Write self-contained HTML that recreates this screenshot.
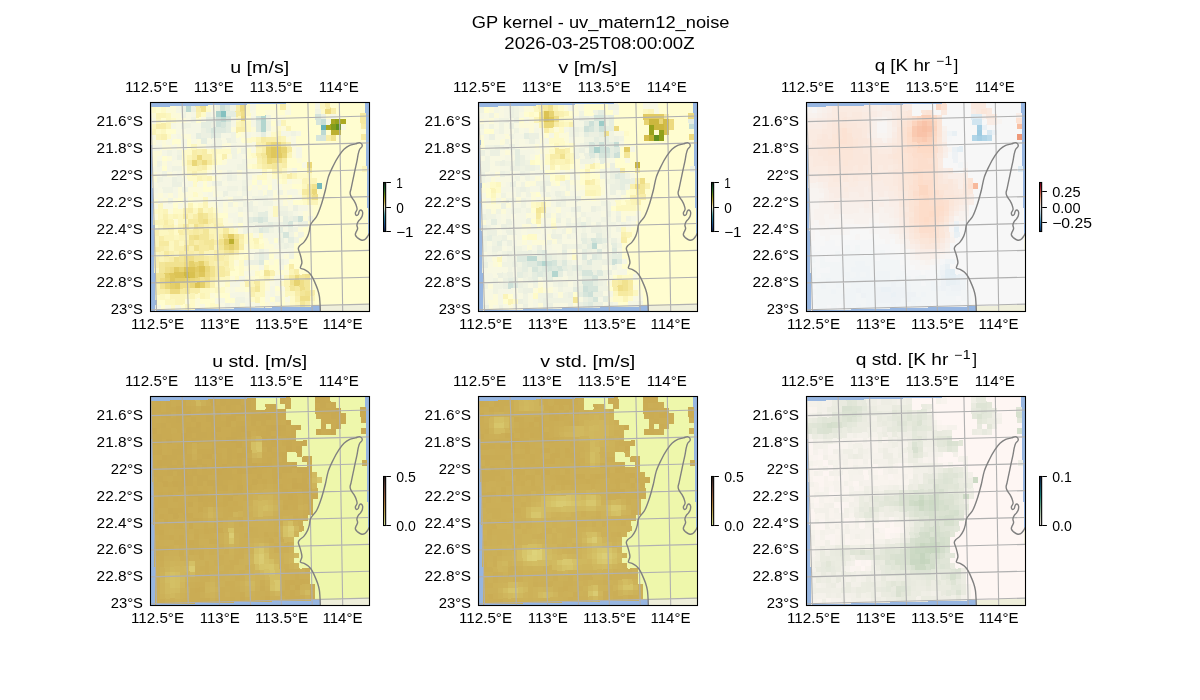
<!DOCTYPE html>
<html><head><meta charset="utf-8"><title>GP kernel - uv_matern12_noise</title>
<style>html,body{margin:0;padding:0;background:#fff;}svg{display:block;will-change:transform;}text{font-family:"Liberation Sans",sans-serif;fill:#000;}</style></head><body>
<svg width="1200" height="700" viewBox="0 0 1200 700">
<defs><clipPath id="clip"><rect x="0" y="0" width="219" height="209"/></clipPath>
<linearGradient id="g0" x1="0" y1="0" x2="0" y2="1"><stop offset="0.000" stop-color="#172313"/><stop offset="0.062" stop-color="#114c28"/><stop offset="0.125" stop-color="#1c6d30"/><stop offset="0.188" stop-color="#428425"/><stop offset="0.250" stop-color="#78981a"/><stop offset="0.312" stop-color="#a8a822"/><stop offset="0.375" stop-color="#d0ba42"/><stop offset="0.438" stop-color="#edda7f"/><stop offset="0.500" stop-color="#fffdd0"/><stop offset="0.562" stop-color="#c5ddd5"/><stop offset="0.625" stop-color="#76babb"/><stop offset="0.688" stop-color="#409caa"/><stop offset="0.750" stop-color="#2c82a3"/><stop offset="0.812" stop-color="#20689d"/><stop offset="0.875" stop-color="#1e4d91"/><stop offset="0.938" stop-color="#193570"/><stop offset="1.000" stop-color="#112040"/></linearGradient>
<linearGradient id="g1" x1="0" y1="0" x2="0" y2="1"><stop offset="0.000" stop-color="#172313"/><stop offset="0.062" stop-color="#114c28"/><stop offset="0.125" stop-color="#1c6d30"/><stop offset="0.188" stop-color="#428425"/><stop offset="0.250" stop-color="#78981a"/><stop offset="0.312" stop-color="#a8a822"/><stop offset="0.375" stop-color="#d0ba42"/><stop offset="0.438" stop-color="#edda7f"/><stop offset="0.500" stop-color="#fffdd0"/><stop offset="0.562" stop-color="#c5ddd5"/><stop offset="0.625" stop-color="#76babb"/><stop offset="0.688" stop-color="#409caa"/><stop offset="0.750" stop-color="#2c82a3"/><stop offset="0.812" stop-color="#20689d"/><stop offset="0.875" stop-color="#1e4d91"/><stop offset="0.938" stop-color="#193570"/><stop offset="1.000" stop-color="#112040"/></linearGradient>
<linearGradient id="g2" x1="0" y1="0" x2="0" y2="1"><stop offset="0.000" stop-color="#67001f"/><stop offset="0.062" stop-color="#960f26"/><stop offset="0.125" stop-color="#bb2a34"/><stop offset="0.188" stop-color="#d25749"/><stop offset="0.250" stop-color="#e58268"/><stop offset="0.312" stop-color="#f5ac8b"/><stop offset="0.375" stop-color="#fbceb6"/><stop offset="0.438" stop-color="#fbe6d9"/><stop offset="0.500" stop-color="#f7f7f7"/><stop offset="0.562" stop-color="#dfecf3"/><stop offset="0.625" stop-color="#c1ddec"/><stop offset="0.688" stop-color="#9ac9e0"/><stop offset="0.750" stop-color="#6aacd0"/><stop offset="0.812" stop-color="#3f8dc0"/><stop offset="0.875" stop-color="#2a71b2"/><stop offset="0.938" stop-color="#165290"/><stop offset="1.000" stop-color="#053061"/></linearGradient>
<linearGradient id="g3" x1="0" y1="0" x2="0" y2="1"><stop offset="0.000" stop-color="#221f1b"/><stop offset="0.062" stop-color="#3c2b26"/><stop offset="0.125" stop-color="#52362f"/><stop offset="0.188" stop-color="#654135"/><stop offset="0.250" stop-color="#784b3a"/><stop offset="0.312" stop-color="#89553b"/><stop offset="0.375" stop-color="#99603c"/><stop offset="0.438" stop-color="#a66c3d"/><stop offset="0.500" stop-color="#b17a3e"/><stop offset="0.562" stop-color="#ba8840"/><stop offset="0.625" stop-color="#c29848"/><stop offset="0.688" stop-color="#c9a74f"/><stop offset="0.750" stop-color="#cfb65d"/><stop offset="0.812" stop-color="#d5c66c"/><stop offset="0.875" stop-color="#dcd67f"/><stop offset="0.938" stop-color="#e2e695"/><stop offset="1.000" stop-color="#e9f6ab"/></linearGradient>
<linearGradient id="g4" x1="0" y1="0" x2="0" y2="1"><stop offset="0.000" stop-color="#221f1b"/><stop offset="0.062" stop-color="#3c2b26"/><stop offset="0.125" stop-color="#52362f"/><stop offset="0.188" stop-color="#654135"/><stop offset="0.250" stop-color="#784b3a"/><stop offset="0.312" stop-color="#89553b"/><stop offset="0.375" stop-color="#99603c"/><stop offset="0.438" stop-color="#a66c3d"/><stop offset="0.500" stop-color="#b17a3e"/><stop offset="0.562" stop-color="#ba8840"/><stop offset="0.625" stop-color="#c29848"/><stop offset="0.688" stop-color="#c9a74f"/><stop offset="0.750" stop-color="#cfb65d"/><stop offset="0.812" stop-color="#d5c66c"/><stop offset="0.875" stop-color="#dcd67f"/><stop offset="0.938" stop-color="#e2e695"/><stop offset="1.000" stop-color="#e9f6ab"/></linearGradient>
<linearGradient id="g5" x1="0" y1="0" x2="0" y2="1"><stop offset="0.000" stop-color="#151d44"/><stop offset="0.062" stop-color="#152f51"/><stop offset="0.125" stop-color="#14405e"/><stop offset="0.188" stop-color="#14526b"/><stop offset="0.250" stop-color="#166373"/><stop offset="0.312" stop-color="#1a7479"/><stop offset="0.375" stop-color="#1d8580"/><stop offset="0.438" stop-color="#2f9486"/><stop offset="0.500" stop-color="#4ba08c"/><stop offset="0.562" stop-color="#67ac92"/><stop offset="0.625" stop-color="#82b89b"/><stop offset="0.688" stop-color="#9bc4a8"/><stop offset="0.750" stop-color="#b4cfb6"/><stop offset="0.812" stop-color="#cbdac3"/><stop offset="0.875" stop-color="#dde3d4"/><stop offset="0.938" stop-color="#eeede4"/><stop offset="1.000" stop-color="#fff6f4"/></linearGradient>
</defs>
<rect width="1200" height="700" fill="#fff"/>
<text x="600.60" y="27.90" font-size="17.00" text-anchor="middle" textLength="257.8" lengthAdjust="spacingAndGlyphs">GP kernel - uv_matern12_noise</text>
<text x="599.40" y="49.30" font-size="17.00" text-anchor="middle" textLength="190.2" lengthAdjust="spacingAndGlyphs">2026-03-25T08:00:00Z</text>
<g transform="translate(150.5 102.5)">
<g clip-path="url(#clip)">
<rect x="0" y="0" width="219" height="209" fill="#97b6e1"/>
<path d="M170 209 L170 200 L219 196 L219 209 Z" fill="#efefdb"/>
<rect x="214" y="131.5" width="6" height="80" fill="#efefdb"/>
<g transform="matrix(1 -0.0258 0.0235 1 0 0)" shape-rendering="crispEdges">
<rect x="1.5" y="4.5" width="212.9" height="203.3" fill="#fffdd0"/>
<path fill="#fefac8" d="M0 4.5h5.285v6.428h-5.285zM9.97 4.5h5.285v6.428h-5.285zM54.84 4.5h5.285v6.428h-5.285zM94.72 4.5h5.285v6.428h-5.285zM49.85 10.63h5.285v5.628h-5.285zM94.72 10.63h5.285v5.628h-5.285zM169.5 10.63h5.285v5.628h-5.285zM19.94 15.96h5.285v5.628h-5.285zM94.72 21.28h5.285v5.628h-5.285zM4.985 26.61h5.285v5.628h-5.285zM94.72 26.61h5.285v5.628h-5.285zM124.6 26.61h5.285v5.628h-5.285zM14.96 31.94h5.285v5.628h-5.285zM119.6 31.94h5.285v5.628h-5.285zM94.72 37.27h10.27v5.628h-10.27zM29.91 47.92h10.27v5.628h-10.27zM54.84 47.92h5.285v5.628h-5.285zM64.81 47.92h15.26v5.628h-15.26zM29.91 53.25h5.285v5.628h-5.285zM99.7 53.25h5.285v5.628h-5.285zM29.91 58.58h5.285v5.628h-5.285zM54.84 63.91h5.285v5.628h-5.285zM99.7 63.91h5.285v5.628h-5.285zM34.9 74.56h10.27v5.628h-10.27zM104.7 74.56h10.27v5.628h-10.27zM119.6 74.56h10.27v5.628h-10.27zM144.6 74.56h10.27v5.628h-10.27zM39.88 79.89h5.285v5.628h-5.285zM129.6 79.89h5.285v5.628h-5.285zM39.88 90.55h5.285v5.628h-5.285zM44.87 101.2h5.285v5.628h-5.285zM149.6 101.2h5.285v5.628h-5.285zM0 106.5h5.285v5.628h-5.285zM19.94 106.5h10.27v5.628h-10.27zM59.82 106.5h5.285v5.628h-5.285zM19.94 122.5h5.285v5.628h-5.285zM19.94 127.8h5.285v5.628h-5.285zM79.76 127.8h5.285v5.628h-5.285zM89.73 133.2h10.27v5.628h-10.27zM104.7 133.2h5.285v5.628h-5.285zM89.73 138.5h10.27v5.628h-10.27zM94.72 143.8h5.285v5.628h-5.285zM104.7 143.8h5.285v5.628h-5.285zM84.75 149.2h5.285v5.628h-5.285zM79.76 154.5h5.285v5.628h-5.285zM89.73 154.5h5.285v5.628h-5.285zM84.75 159.8h5.285v5.628h-5.285zM84.75 165.1h5.285v5.628h-5.285zM84.75 170.5h5.285v5.628h-5.285zM99.7 170.5h5.285v5.628h-5.285zM79.76 175.8h5.285v5.628h-5.285zM104.7 175.8h5.285v5.628h-5.285zM114.7 175.8h5.285v5.628h-5.285zM59.82 181.1h5.285v5.628h-5.285zM69.79 181.1h5.285v5.628h-5.285zM124.6 181.1h5.285v5.628h-5.285zM54.84 186.5h5.285v5.628h-5.285zM64.81 186.5h5.285v5.628h-5.285zM0 191.8h5.285v5.628h-5.285zM9.97 191.8h5.285v5.628h-5.285zM39.88 191.8h5.285v5.628h-5.285zM34.9 197.1h5.285v5.628h-5.285zM94.72 197.1h5.285v5.628h-5.285zM134.6 197.1h5.285v5.628h-5.285zM14.96 202.4h5.285v5.628h-5.285zM34.9 202.4h5.285v5.628h-5.285zM54.84 202.4h10.27v5.628h-10.27zM134.6 202.4h5.285v5.628h-5.285zM154.5 202.4h5.285v5.628h-5.285z"/>
<path fill="#fcfad9" d="M14.96 4.5h10.27v6.428h-10.27zM134.6 4.5h5.285v6.428h-5.285zM0 10.63h5.285v5.628h-5.285zM19.94 10.63h10.27v5.628h-10.27zM114.7 10.63h10.27v5.628h-10.27zM24.93 15.96h10.27v5.628h-10.27zM119.6 15.96h15.26v5.628h-15.26zM184.4 15.96h5.285v5.628h-5.285zM79.76 26.61h5.285v5.628h-5.285zM99.7 26.61h5.285v5.628h-5.285zM119.6 26.61h5.285v5.628h-5.285zM129.6 26.61h5.285v5.628h-5.285zM29.91 31.94h10.27v5.628h-10.27zM89.73 31.94h5.285v5.628h-5.285zM0 37.27h5.285v5.628h-5.285zM9.97 37.27h5.285v5.628h-5.285zM44.87 37.27h5.285v5.628h-5.285zM134.6 37.27h5.285v5.628h-5.285zM9.97 42.6h10.27v5.628h-10.27zM24.93 42.6h5.285v5.628h-5.285zM44.87 42.6h10.27v5.628h-10.27zM69.79 42.6h10.27v5.628h-10.27zM0 47.92h10.27v5.628h-10.27zM84.75 47.92h5.285v5.628h-5.285zM139.6 47.92h5.285v5.628h-5.285zM0 53.25h5.285v5.628h-5.285zM14.96 53.25h5.285v5.628h-5.285zM74.78 53.25h5.285v5.628h-5.285zM139.6 53.25h5.285v5.628h-5.285zM0 58.58h5.285v5.628h-5.285zM9.97 58.58h5.285v5.628h-5.285zM69.79 58.58h5.285v5.628h-5.285zM94.72 58.58h10.27v5.628h-10.27zM144.6 58.58h5.285v5.628h-5.285zM29.91 63.91h5.285v5.628h-5.285zM59.82 63.91h5.285v5.628h-5.285zM0 69.24h5.285v5.628h-5.285zM14.96 69.24h5.285v5.628h-5.285zM29.91 69.24h5.285v5.628h-5.285zM54.84 69.24h5.285v5.628h-5.285zM64.81 69.24h5.285v5.628h-5.285zM84.75 69.24h5.285v5.628h-5.285zM134.6 69.24h5.285v5.628h-5.285zM0 74.56h5.285v5.628h-5.285zM99.7 74.56h5.285v5.628h-5.285zM114.7 74.56h5.285v5.628h-5.285zM114.7 79.89h5.285v5.628h-5.285zM139.6 79.89h10.27v5.628h-10.27zM24.93 85.22h5.285v5.628h-5.285zM34.9 85.22h15.26v5.628h-15.26zM59.82 85.22h5.285v5.628h-5.285zM94.72 85.22h5.285v5.628h-5.285zM104.7 85.22h5.285v5.628h-5.285zM129.6 85.22h10.27v5.628h-10.27zM4.985 90.55h5.285v5.628h-5.285zM14.96 90.55h5.285v5.628h-5.285zM24.93 90.55h15.26v5.628h-15.26zM44.87 90.55h5.285v5.628h-5.285zM59.82 90.55h5.285v5.628h-5.285zM109.7 90.55h5.285v5.628h-5.285zM119.6 90.55h5.285v5.628h-5.285zM129.6 90.55h5.285v5.628h-5.285zM144.6 90.55h5.285v5.628h-5.285zM9.97 95.88h5.285v5.628h-5.285zM19.94 95.88h5.285v5.628h-5.285zM39.88 95.88h10.27v5.628h-10.27zM74.78 95.88h5.285v5.628h-5.285zM119.6 95.88h15.26v5.628h-15.26zM29.91 101.2h5.285v5.628h-5.285zM54.84 101.2h10.27v5.628h-10.27zM69.79 101.2h5.285v5.628h-5.285zM79.76 101.2h5.285v5.628h-5.285zM129.6 101.2h5.285v5.628h-5.285zM14.96 106.5h5.285v5.628h-5.285zM69.79 106.5h5.285v5.628h-5.285zM154.5 106.5h5.285v5.628h-5.285zM0 111.9h5.285v5.628h-5.285zM84.75 111.9h5.285v5.628h-5.285zM149.6 111.9h10.27v5.628h-10.27zM19.94 117.2h5.285v5.628h-5.285zM69.79 117.2h5.285v5.628h-5.285zM149.6 117.2h5.285v5.628h-5.285zM69.79 122.5h10.27v5.628h-10.27zM144.6 127.8h5.285v5.628h-5.285zM139.6 133.2h5.285v5.628h-5.285zM109.7 138.5h5.285v5.628h-5.285zM89.73 143.8h5.285v5.628h-5.285zM109.7 143.8h10.27v5.628h-10.27zM114.7 149.2h10.27v5.628h-10.27zM129.6 154.5h5.285v5.628h-5.285zM79.76 159.8h5.285v5.628h-5.285zM114.7 159.8h5.285v5.628h-5.285zM89.73 165.1h15.26v5.628h-15.26zM119.6 170.5h5.285v5.628h-5.285zM129.6 170.5h5.285v5.628h-5.285zM74.78 175.8h5.285v5.628h-5.285zM89.73 175.8h10.27v5.628h-10.27zM64.81 181.1h5.285v5.628h-5.285zM84.75 181.1h5.285v5.628h-5.285zM109.7 181.1h5.285v5.628h-5.285zM69.79 186.5h5.285v5.628h-5.285zM79.76 186.5h10.27v5.628h-10.27zM109.7 186.5h5.285v5.628h-5.285zM54.84 191.8h5.285v5.628h-5.285zM119.6 191.8h10.27v5.628h-10.27zM29.91 197.1h5.285v5.628h-5.285zM39.88 197.1h5.285v5.628h-5.285zM39.88 202.4h5.285v5.628h-5.285zM84.75 202.4h5.285v5.628h-5.285zM109.7 202.4h5.285v5.628h-5.285zM119.6 202.4h5.285v5.628h-5.285zM129.6 202.4h5.285v5.628h-5.285z"/>
<path fill="#f5f6e4" d="M24.93 4.5h5.285v6.428h-5.285zM99.7 4.5h5.285v6.428h-5.285zM164.5 4.5h5.285v6.428h-5.285zM39.88 10.63h5.285v5.628h-5.285zM59.82 10.63h5.285v5.628h-5.285zM79.76 15.96h5.285v5.628h-5.285zM99.7 15.96h5.285v5.628h-5.285zM179.5 15.96h5.285v5.628h-5.285zM19.94 21.28h5.285v5.628h-5.285zM39.88 21.28h10.27v5.628h-10.27zM79.76 21.28h5.285v5.628h-5.285zM99.7 21.28h5.285v5.628h-5.285zM174.5 21.28h5.285v5.628h-5.285zM34.9 26.61h15.26v5.628h-15.26zM24.93 31.94h5.285v5.628h-5.285zM39.88 31.94h5.285v5.628h-5.285zM69.79 31.94h10.27v5.628h-10.27zM94.72 31.94h5.285v5.628h-5.285zM104.7 31.94h5.285v5.628h-5.285zM129.6 31.94h10.27v5.628h-10.27zM144.6 31.94h5.285v5.628h-5.285zM29.91 37.27h5.285v5.628h-5.285zM59.82 37.27h5.285v5.628h-5.285zM0 42.6h10.27v5.628h-10.27zM29.91 42.6h5.285v5.628h-5.285zM54.84 42.6h5.285v5.628h-5.285zM79.76 42.6h5.285v5.628h-5.285zM9.97 47.92h5.285v5.628h-5.285zM19.94 47.92h5.285v5.628h-5.285zM144.6 47.92h5.285v5.628h-5.285zM19.94 53.25h5.285v5.628h-5.285zM84.75 53.25h5.285v5.628h-5.285zM144.6 53.25h5.285v5.628h-5.285zM14.96 58.58h5.285v5.628h-5.285zM74.78 58.58h15.26v5.628h-15.26zM4.985 63.91h5.285v5.628h-5.285zM14.96 63.91h5.285v5.628h-5.285zM64.81 63.91h20.24v5.628h-20.24zM24.93 69.24h5.285v5.628h-5.285zM59.82 69.24h5.285v5.628h-5.285zM79.76 69.24h5.285v5.628h-5.285zM89.73 69.24h5.285v5.628h-5.285zM139.6 69.24h5.285v5.628h-5.285zM9.97 74.56h10.27v5.628h-10.27zM69.79 74.56h5.285v5.628h-5.285zM89.73 74.56h10.27v5.628h-10.27zM4.985 79.89h15.26v5.628h-15.26zM34.9 79.89h5.285v5.628h-5.285zM74.78 79.89h15.26v5.628h-15.26zM104.7 79.89h5.285v5.628h-5.285zM119.6 79.89h5.285v5.628h-5.285zM0 85.22h5.285v5.628h-5.285zM19.94 85.22h5.285v5.628h-5.285zM64.81 85.22h10.27v5.628h-10.27zM84.75 85.22h5.285v5.628h-5.285zM119.6 85.22h5.285v5.628h-5.285zM19.94 90.55h5.285v5.628h-5.285zM54.84 90.55h5.285v5.628h-5.285zM74.78 90.55h10.27v5.628h-10.27zM94.72 90.55h5.285v5.628h-5.285zM104.7 90.55h5.285v5.628h-5.285zM134.6 90.55h10.27v5.628h-10.27zM29.91 95.88h5.285v5.628h-5.285zM59.82 95.88h10.27v5.628h-10.27zM114.7 95.88h5.285v5.628h-5.285zM64.81 101.2h5.285v5.628h-5.285zM104.7 101.2h5.285v5.628h-5.285zM124.6 101.2h5.285v5.628h-5.285zM89.73 106.5h5.285v5.628h-5.285zM104.7 106.5h10.27v5.628h-10.27zM144.6 106.5h10.27v5.628h-10.27zM74.78 111.9h10.27v5.628h-10.27zM94.72 111.9h5.285v5.628h-5.285zM139.6 111.9h5.285v5.628h-5.285zM79.76 117.2h5.285v5.628h-5.285zM114.7 117.2h10.27v5.628h-10.27zM139.6 122.5h5.285v5.628h-5.285zM94.72 127.8h5.285v5.628h-5.285zM119.6 127.8h5.285v5.628h-5.285zM129.6 127.8h5.285v5.628h-5.285zM109.7 133.2h15.26v5.628h-15.26zM114.7 138.5h5.285v5.628h-5.285zM129.6 138.5h5.285v5.628h-5.285zM109.7 149.2h5.285v5.628h-5.285zM124.6 149.2h15.26v5.628h-15.26zM129.6 159.8h5.285v5.628h-5.285zM104.7 165.1h5.285v5.628h-5.285zM124.6 165.1h5.285v5.628h-5.285zM84.75 175.8h5.285v5.628h-5.285zM74.78 181.1h10.27v5.628h-10.27zM119.6 181.1h5.285v5.628h-5.285zM114.7 186.5h5.285v5.628h-5.285zM74.78 191.8h15.26v5.628h-15.26zM114.7 191.8h5.285v5.628h-5.285zM64.81 197.1h5.285v5.628h-5.285zM89.73 197.1h5.285v5.628h-5.285zM0 202.4h5.285v5.628h-5.285zM19.94 202.4h5.285v5.628h-5.285zM74.78 202.4h5.285v5.628h-5.285zM89.73 202.4h5.285v5.628h-5.285zM99.7 202.4h5.285v5.628h-5.285z"/>
<path fill="#ecf0e1" d="M29.91 4.5h5.285v6.428h-5.285zM39.88 4.5h5.285v6.428h-5.285zM64.81 4.5h5.285v6.428h-5.285zM169.5 15.96h5.285v5.628h-5.285zM59.82 21.28h5.285v5.628h-5.285zM114.7 21.28h5.285v5.628h-5.285zM49.85 26.61h5.285v5.628h-5.285zM114.7 26.61h5.285v5.628h-5.285zM49.85 31.94h10.27v5.628h-10.27zM74.78 37.27h5.285v5.628h-5.285zM24.93 53.25h5.285v5.628h-5.285zM19.94 74.56h5.285v5.628h-5.285zM74.78 74.56h5.285v5.628h-5.285zM19.94 79.89h10.27v5.628h-10.27zM64.81 79.89h5.285v5.628h-5.285zM89.73 85.22h5.285v5.628h-5.285zM69.79 90.55h5.285v5.628h-5.285zM94.72 101.2h5.285v5.628h-5.285zM94.72 106.5h5.285v5.628h-5.285zM139.6 106.5h5.285v5.628h-5.285zM124.6 111.9h10.27v5.628h-10.27zM134.6 117.2h5.285v5.628h-5.285zM104.7 122.5h10.27v5.628h-10.27zM119.6 122.5h10.27v5.628h-10.27zM144.6 122.5h10.27v5.628h-10.27zM134.6 127.8h5.285v5.628h-5.285zM124.6 138.5h5.285v5.628h-5.285zM129.6 143.8h5.285v5.628h-5.285zM104.7 149.2h5.285v5.628h-5.285zM109.7 154.5h5.285v5.628h-5.285zM94.72 159.8h10.27v5.628h-10.27z"/>
<path fill="#bdd9d2" d="M34.9 4.5h5.285v6.428h-5.285zM69.79 15.96h5.285v5.628h-5.285zM169.5 31.94h5.285v5.628h-5.285z"/>
<path fill="#f8eda8" d="M44.87 4.5h5.285v6.428h-5.285zM84.75 4.5h5.285v6.428h-5.285zM129.6 4.5h5.285v6.428h-5.285zM174.5 4.5h5.285v6.428h-5.285zM179.5 10.63h5.285v5.628h-5.285zM4.985 21.28h10.27v5.628h-10.27zM84.75 26.61h10.27v5.628h-10.27zM209.4 26.61h5.285v5.628h-5.285zM114.7 37.27h10.27v5.628h-10.27zM174.5 37.27h5.285v5.628h-5.285zM109.7 42.6h5.285v5.628h-5.285zM39.88 47.92h5.285v5.628h-5.285zM49.85 47.92h5.285v5.628h-5.285zM109.7 47.92h5.285v5.628h-5.285zM39.88 53.25h5.285v5.628h-5.285zM49.85 53.25h10.27v5.628h-10.27zM104.7 53.25h5.285v5.628h-5.285zM34.9 58.58h5.285v5.628h-5.285zM49.85 63.91h5.285v5.628h-5.285zM109.7 63.91h5.285v5.628h-5.285zM129.6 63.91h5.285v5.628h-5.285zM134.6 74.56h5.285v5.628h-5.285zM34.9 106.5h5.285v5.628h-5.285zM39.88 111.9h5.285v5.628h-5.285zM9.97 117.2h5.285v5.628h-5.285zM54.84 117.2h5.285v5.628h-5.285zM59.82 122.5h5.285v5.628h-5.285zM24.93 127.8h5.285v5.628h-5.285zM34.9 127.8h5.285v5.628h-5.285zM44.87 127.8h5.285v5.628h-5.285zM4.985 133.2h5.285v5.628h-5.285zM64.81 133.2h5.285v5.628h-5.285zM84.75 133.2h5.285v5.628h-5.285zM39.88 138.5h5.285v5.628h-5.285zM59.82 138.5h5.285v5.628h-5.285zM0 143.8h10.27v5.628h-10.27zM84.75 143.8h5.285v5.628h-5.285zM24.93 149.2h15.26v5.628h-15.26zM59.82 149.2h10.27v5.628h-10.27zM79.76 149.2h5.285v5.628h-5.285zM14.96 154.5h5.285v5.628h-5.285zM54.84 154.5h5.285v5.628h-5.285zM64.81 154.5h5.285v5.628h-5.285zM54.84 159.8h5.285v5.628h-5.285zM69.79 159.8h5.285v5.628h-5.285zM59.82 165.1h5.285v5.628h-5.285zM134.6 165.1h5.285v5.628h-5.285zM59.82 170.5h5.285v5.628h-5.285zM69.79 170.5h5.285v5.628h-5.285zM139.6 170.5h5.285v5.628h-5.285zM4.985 186.5h5.285v5.628h-5.285zM34.9 186.5h10.27v5.628h-10.27zM94.72 186.5h5.285v5.628h-5.285zM139.6 191.8h5.285v5.628h-5.285zM154.5 191.8h5.285v5.628h-5.285zM149.6 202.4h5.285v5.628h-5.285z"/>
<path fill="#f1e28f" d="M49.85 4.5h5.285v6.428h-5.285zM179.5 37.27h5.285v5.628h-5.285zM159.5 85.22h5.285v5.628h-5.285zM44.87 111.9h5.285v5.628h-5.285zM44.87 117.2h5.285v5.628h-5.285zM39.88 122.5h5.285v5.628h-5.285zM34.9 133.2h5.285v5.628h-5.285zM79.76 133.2h5.285v5.628h-5.285zM64.81 138.5h5.285v5.628h-5.285zM39.88 143.8h5.285v5.628h-5.285zM74.78 149.2h5.285v5.628h-5.285zM19.94 154.5h5.285v5.628h-5.285zM9.97 159.8h20.24v5.628h-20.24zM49.85 159.8h5.285v5.628h-5.285zM54.84 165.1h5.285v5.628h-5.285zM4.985 170.5h5.285v5.628h-5.285zM54.84 170.5h5.285v5.628h-5.285zM44.87 175.8h5.285v5.628h-5.285zM149.6 175.8h5.285v5.628h-5.285zM4.985 181.1h5.285v5.628h-5.285zM49.85 181.1h5.285v5.628h-5.285zM134.6 181.1h5.285v5.628h-5.285zM149.6 191.8h5.285v5.628h-5.285z"/>
<path fill="#f8f8e2" d="M59.82 4.5h5.285v6.428h-5.285zM34.9 10.63h5.285v5.628h-5.285zM99.7 10.63h5.285v5.628h-5.285zM134.6 10.63h5.285v5.628h-5.285zM0 15.96h5.285v5.628h-5.285zM34.9 15.96h5.285v5.628h-5.285zM49.85 15.96h5.285v5.628h-5.285zM24.93 21.28h5.285v5.628h-5.285zM24.93 26.61h10.27v5.628h-10.27zM189.4 26.61h5.285v5.628h-5.285zM0 31.94h5.285v5.628h-5.285zM19.94 31.94h5.285v5.628h-5.285zM99.7 31.94h5.285v5.628h-5.285zM114.7 31.94h5.285v5.628h-5.285zM4.985 37.27h5.285v5.628h-5.285zM14.96 37.27h5.285v5.628h-5.285zM39.88 37.27h5.285v5.628h-5.285zM54.84 37.27h5.285v5.628h-5.285zM69.79 37.27h5.285v5.628h-5.285zM84.75 37.27h5.285v5.628h-5.285zM139.6 37.27h5.285v5.628h-5.285zM19.94 42.6h5.285v5.628h-5.285zM84.75 42.6h20.24v5.628h-20.24zM139.6 42.6h5.285v5.628h-5.285zM99.7 47.92h5.285v5.628h-5.285zM4.985 53.25h5.285v5.628h-5.285zM89.73 53.25h5.285v5.628h-5.285zM19.94 58.58h10.27v5.628h-10.27zM0 63.91h5.285v5.628h-5.285zM149.6 63.91h5.285v5.628h-5.285zM4.985 69.24h5.285v5.628h-5.285zM19.94 69.24h5.285v5.628h-5.285zM69.79 69.24h5.285v5.628h-5.285zM94.72 69.24h15.26v5.628h-15.26zM29.91 74.56h5.285v5.628h-5.285zM64.81 74.56h5.285v5.628h-5.285zM84.75 74.56h5.285v5.628h-5.285zM0 79.89h5.285v5.628h-5.285zM29.91 79.89h5.285v5.628h-5.285zM44.87 79.89h5.285v5.628h-5.285zM54.84 79.89h5.285v5.628h-5.285zM69.79 79.89h5.285v5.628h-5.285zM94.72 79.89h5.285v5.628h-5.285zM134.6 79.89h5.285v5.628h-5.285zM4.985 85.22h5.285v5.628h-5.285zM99.7 85.22h5.285v5.628h-5.285zM109.7 85.22h5.285v5.628h-5.285zM124.6 85.22h5.285v5.628h-5.285zM0 90.55h5.285v5.628h-5.285zM9.97 90.55h5.285v5.628h-5.285zM49.85 90.55h5.285v5.628h-5.285zM64.81 90.55h5.285v5.628h-5.285zM84.75 90.55h5.285v5.628h-5.285zM99.7 90.55h5.285v5.628h-5.285zM4.985 95.88h5.285v5.628h-5.285zM54.84 95.88h5.285v5.628h-5.285zM69.79 95.88h5.285v5.628h-5.285zM89.73 95.88h10.27v5.628h-10.27zM139.6 95.88h10.27v5.628h-10.27zM0 101.2h5.285v5.628h-5.285zM9.97 101.2h10.27v5.628h-10.27zM24.93 101.2h5.285v5.628h-5.285zM84.75 101.2h5.285v5.628h-5.285zM99.7 101.2h5.285v5.628h-5.285zM119.6 101.2h5.285v5.628h-5.285zM134.6 101.2h5.285v5.628h-5.285zM64.81 106.5h5.285v5.628h-5.285zM74.78 106.5h10.27v5.628h-10.27zM114.7 106.5h5.285v5.628h-5.285zM134.6 106.5h5.285v5.628h-5.285zM89.73 111.9h5.285v5.628h-5.285zM114.7 111.9h5.285v5.628h-5.285zM144.6 111.9h5.285v5.628h-5.285zM74.78 117.2h5.285v5.628h-5.285zM89.73 117.2h5.285v5.628h-5.285zM124.6 117.2h5.285v5.628h-5.285zM79.76 122.5h5.285v5.628h-5.285zM89.73 122.5h5.285v5.628h-5.285zM84.75 127.8h5.285v5.628h-5.285zM99.7 133.2h5.285v5.628h-5.285zM119.6 143.8h5.285v5.628h-5.285zM94.72 149.2h10.27v5.628h-10.27zM94.72 154.5h5.285v5.628h-5.285zM119.6 154.5h10.27v5.628h-10.27zM89.73 170.5h10.27v5.628h-10.27zM119.6 175.8h10.27v5.628h-10.27zM114.7 181.1h5.285v5.628h-5.285zM74.78 186.5h5.285v5.628h-5.285zM124.6 186.5h5.285v5.628h-5.285zM89.73 191.8h5.285v5.628h-5.285zM109.7 191.8h5.285v5.628h-5.285zM59.82 197.1h5.285v5.628h-5.285zM109.7 197.1h5.285v5.628h-5.285zM129.6 197.1h5.285v5.628h-5.285zM9.97 202.4h5.285v5.628h-5.285zM44.87 202.4h5.285v5.628h-5.285zM64.81 202.4h5.285v5.628h-5.285zM94.72 202.4h5.285v5.628h-5.285zM114.7 202.4h5.285v5.628h-5.285z"/>
<path fill="#cde0d8" d="M69.79 4.5h5.285v6.428h-5.285zM64.81 15.96h5.285v5.628h-5.285zM64.81 21.28h5.285v5.628h-5.285zM144.6 117.2h5.285v5.628h-5.285z"/>
<path fill="#dee9de" d="M74.78 4.5h5.285v6.428h-5.285zM104.7 21.28h5.285v5.628h-5.285zM64.81 26.61h10.27v5.628h-10.27zM104.7 26.61h5.285v5.628h-5.285zM59.82 31.94h5.285v5.628h-5.285zM99.7 117.2h5.285v5.628h-5.285zM109.7 117.2h5.285v5.628h-5.285zM104.7 127.8h5.285v5.628h-5.285zM104.7 159.8h5.285v5.628h-5.285z"/>
<path fill="#f0f3e2" d="M79.76 4.5h5.285v6.428h-5.285zM29.91 10.63h5.285v5.628h-5.285zM54.84 10.63h5.285v5.628h-5.285zM164.5 10.63h5.285v5.628h-5.285zM39.88 15.96h5.285v5.628h-5.285zM114.7 15.96h5.285v5.628h-5.285zM29.91 21.28h10.27v5.628h-10.27zM124.6 21.28h5.285v5.628h-5.285zM79.76 31.94h5.285v5.628h-5.285zM139.6 31.94h5.285v5.628h-5.285zM64.81 37.27h5.285v5.628h-5.285zM79.76 37.27h5.285v5.628h-5.285zM59.82 42.6h10.27v5.628h-10.27zM14.96 47.92h5.285v5.628h-5.285zM24.93 47.92h5.285v5.628h-5.285zM79.76 47.92h5.285v5.628h-5.285zM89.73 47.92h5.285v5.628h-5.285zM79.76 53.25h5.285v5.628h-5.285zM4.985 58.58h5.285v5.628h-5.285zM89.73 58.58h5.285v5.628h-5.285zM19.94 63.91h10.27v5.628h-10.27zM84.75 63.91h10.27v5.628h-10.27zM9.97 69.24h5.285v5.628h-5.285zM74.78 69.24h5.285v5.628h-5.285zM4.985 74.56h5.285v5.628h-5.285zM24.93 74.56h5.285v5.628h-5.285zM79.76 74.56h5.285v5.628h-5.285zM59.82 79.89h5.285v5.628h-5.285zM89.73 79.89h5.285v5.628h-5.285zM9.97 85.22h10.27v5.628h-10.27zM29.91 85.22h5.285v5.628h-5.285zM74.78 85.22h10.27v5.628h-10.27zM89.73 90.55h5.285v5.628h-5.285zM114.7 90.55h5.285v5.628h-5.285zM124.6 90.55h5.285v5.628h-5.285zM14.96 95.88h5.285v5.628h-5.285zM79.76 95.88h10.27v5.628h-10.27zM99.7 95.88h15.26v5.628h-15.26zM74.78 101.2h5.285v5.628h-5.285zM89.73 101.2h5.285v5.628h-5.285zM109.7 101.2h10.27v5.628h-10.27zM84.75 106.5h5.285v5.628h-5.285zM99.7 106.5h5.285v5.628h-5.285zM124.6 106.5h10.27v5.628h-10.27zM99.7 111.9h5.285v5.628h-5.285zM134.6 111.9h5.285v5.628h-5.285zM84.75 117.2h5.285v5.628h-5.285zM154.5 117.2h5.285v5.628h-5.285zM94.72 122.5h10.27v5.628h-10.27zM89.73 127.8h5.285v5.628h-5.285zM99.7 127.8h5.285v5.628h-5.285zM114.7 127.8h5.285v5.628h-5.285zM139.6 127.8h5.285v5.628h-5.285zM124.6 133.2h5.285v5.628h-5.285zM134.6 133.2h5.285v5.628h-5.285zM144.6 133.2h5.285v5.628h-5.285zM139.6 138.5h5.285v5.628h-5.285zM124.6 143.8h5.285v5.628h-5.285zM134.6 143.8h5.285v5.628h-5.285zM99.7 154.5h5.285v5.628h-5.285zM134.6 154.5h5.285v5.628h-5.285zM89.73 159.8h5.285v5.628h-5.285zM124.6 159.8h5.285v5.628h-5.285zM79.76 197.1h10.27v5.628h-10.27zM119.6 197.1h5.285v5.628h-5.285zM69.79 202.4h5.285v5.628h-5.285zM79.76 202.4h5.285v5.628h-5.285z"/>
<path fill="#edda7f" d="M89.73 4.5h5.285v6.428h-5.285zM174.5 10.63h5.285v5.628h-5.285zM89.73 15.96h5.285v5.628h-5.285zM44.87 53.25h5.285v5.628h-5.285zM49.85 58.58h5.285v5.628h-5.285zM119.6 58.58h5.285v5.628h-5.285zM79.76 138.5h5.285v5.628h-5.285zM79.76 143.8h5.285v5.628h-5.285zM29.91 159.8h5.285v5.628h-5.285zM14.96 165.1h5.285v5.628h-5.285zM49.85 170.5h5.285v5.628h-5.285zM4.985 175.8h5.285v5.628h-5.285zM39.88 175.8h5.285v5.628h-5.285zM139.6 175.8h5.285v5.628h-5.285zM14.96 186.5h10.27v5.628h-10.27z"/>
<path fill="#fcf7c0" d="M169.5 4.5h5.285v6.428h-5.285zM14.96 10.63h5.285v5.628h-5.285zM4.985 15.96h5.285v5.628h-5.285zM14.96 15.96h5.285v5.628h-5.285zM84.75 15.96h5.285v5.628h-5.285zM0 21.28h5.285v5.628h-5.285zM9.97 26.61h5.285v5.628h-5.285zM124.6 31.94h5.285v5.628h-5.285zM39.88 42.6h5.285v5.628h-5.285zM59.82 47.92h5.285v5.628h-5.285zM59.82 53.25h5.285v5.628h-5.285zM34.9 69.24h5.285v5.628h-5.285zM44.87 69.24h10.27v5.628h-10.27zM109.7 69.24h5.285v5.628h-5.285zM129.6 69.24h5.285v5.628h-5.285zM49.85 74.56h5.285v5.628h-5.285zM129.6 74.56h5.285v5.628h-5.285zM154.5 74.56h5.285v5.628h-5.285zM149.6 85.22h5.285v5.628h-5.285zM49.85 95.88h5.285v5.628h-5.285zM4.985 101.2h5.285v5.628h-5.285zM4.985 106.5h5.285v5.628h-5.285zM39.88 106.5h5.285v5.628h-5.285zM49.85 106.5h5.285v5.628h-5.285zM119.6 106.5h5.285v5.628h-5.285zM4.985 111.9h5.285v5.628h-5.285zM14.96 111.9h5.285v5.628h-5.285zM24.93 111.9h5.285v5.628h-5.285zM119.6 111.9h5.285v5.628h-5.285zM24.93 117.2h10.27v5.628h-10.27zM64.81 117.2h5.285v5.628h-5.285zM4.985 122.5h5.285v5.628h-5.285zM4.985 127.8h10.27v5.628h-10.27zM74.78 127.8h5.285v5.628h-5.285zM19.94 133.2h5.285v5.628h-5.285zM14.96 138.5h5.285v5.628h-5.285zM24.93 138.5h5.285v5.628h-5.285zM14.96 143.8h5.285v5.628h-5.285zM99.7 143.8h5.285v5.628h-5.285zM0 149.2h5.285v5.628h-5.285zM74.78 154.5h5.285v5.628h-5.285zM74.78 159.8h5.285v5.628h-5.285zM0 165.1h5.285v5.628h-5.285zM74.78 165.1h5.285v5.628h-5.285zM109.7 165.1h5.285v5.628h-5.285zM64.81 175.8h10.27v5.628h-10.27zM129.6 175.8h5.285v5.628h-5.285zM104.7 181.1h5.285v5.628h-5.285zM44.87 186.5h10.27v5.628h-10.27zM59.82 186.5h5.285v5.628h-5.285zM104.7 186.5h5.285v5.628h-5.285zM4.985 191.8h5.285v5.628h-5.285zM29.91 191.8h5.285v5.628h-5.285zM49.85 191.8h5.285v5.628h-5.285zM99.7 191.8h10.27v5.628h-10.27zM129.6 191.8h10.27v5.628h-10.27zM9.97 197.1h10.27v5.628h-10.27zM29.91 202.4h5.285v5.628h-5.285zM139.6 202.4h5.285v5.628h-5.285z"/>
<path fill="#fbf4b8" d="M4.985 10.63h10.27v5.628h-10.27zM14.96 21.28h5.285v5.628h-5.285zM84.75 21.28h5.285v5.628h-5.285zM129.6 21.28h5.285v5.628h-5.285zM0 26.61h5.285v5.628h-5.285zM134.6 26.61h5.285v5.628h-5.285zM4.985 31.94h5.285v5.628h-5.285zM104.7 37.27h5.285v5.628h-5.285zM129.6 37.27h5.285v5.628h-5.285zM104.7 47.92h5.285v5.628h-5.285zM34.9 53.25h5.285v5.628h-5.285zM134.6 53.25h5.285v5.628h-5.285zM59.82 58.58h5.285v5.628h-5.285zM34.9 63.91h10.27v5.628h-10.27zM104.7 63.91h5.285v5.628h-5.285zM209.4 69.24h5.285v5.628h-5.285zM44.87 74.56h5.285v5.628h-5.285zM54.84 74.56h5.285v5.628h-5.285zM139.6 74.56h5.285v5.628h-5.285zM149.6 79.89h15.26v5.628h-15.26zM149.6 95.88h5.285v5.628h-5.285zM34.9 101.2h5.285v5.628h-5.285zM49.85 101.2h5.285v5.628h-5.285zM154.5 101.2h10.27v5.628h-10.27zM9.97 106.5h5.285v5.628h-5.285zM54.84 106.5h5.285v5.628h-5.285zM19.94 111.9h5.285v5.628h-5.285zM34.9 111.9h5.285v5.628h-5.285zM59.82 111.9h5.285v5.628h-5.285zM0 117.2h10.27v5.628h-10.27zM14.96 117.2h5.285v5.628h-5.285zM24.93 122.5h5.285v5.628h-5.285zM34.9 122.5h5.285v5.628h-5.285zM54.84 122.5h5.285v5.628h-5.285zM64.81 122.5h5.285v5.628h-5.285zM14.96 127.8h5.285v5.628h-5.285zM54.84 127.8h15.26v5.628h-15.26zM0 133.2h5.285v5.628h-5.285zM9.97 133.2h10.27v5.628h-10.27zM24.93 133.2h10.27v5.628h-10.27zM59.82 133.2h5.285v5.628h-5.285zM0 138.5h5.285v5.628h-5.285zM99.7 138.5h5.285v5.628h-5.285zM59.82 143.8h5.285v5.628h-5.285zM4.985 149.2h5.285v5.628h-5.285zM19.94 149.2h5.285v5.628h-5.285zM49.85 149.2h10.27v5.628h-10.27zM4.985 154.5h5.285v5.628h-5.285zM134.6 170.5h5.285v5.628h-5.285zM109.7 175.8h5.285v5.628h-5.285zM94.72 181.1h5.285v5.628h-5.285zM129.6 181.1h5.285v5.628h-5.285zM129.6 186.5h5.285v5.628h-5.285zM14.96 191.8h15.26v5.628h-15.26zM34.9 191.8h5.285v5.628h-5.285zM44.87 191.8h5.285v5.628h-5.285zM19.94 197.1h10.27v5.628h-10.27zM99.7 197.1h5.285v5.628h-5.285zM154.5 197.1h5.285v5.628h-5.285z"/>
<path fill="#f9f0b0" d="M44.87 10.63h5.285v5.628h-5.285zM89.73 21.28h5.285v5.628h-5.285zM9.97 31.94h5.285v5.628h-5.285zM124.6 37.27h5.285v5.628h-5.285zM104.7 42.6h5.285v5.628h-5.285zM134.6 42.6h5.285v5.628h-5.285zM44.87 47.92h5.285v5.628h-5.285zM69.79 53.25h5.285v5.628h-5.285zM104.7 58.58h5.285v5.628h-5.285zM44.87 63.91h5.285v5.628h-5.285zM124.6 63.91h5.285v5.628h-5.285zM39.88 69.24h5.285v5.628h-5.285zM119.6 69.24h10.27v5.628h-10.27zM29.91 106.5h5.285v5.628h-5.285zM9.97 111.9h5.285v5.628h-5.285zM54.84 111.9h5.285v5.628h-5.285zM59.82 117.2h5.285v5.628h-5.285zM9.97 122.5h10.27v5.628h-10.27zM49.85 122.5h5.285v5.628h-5.285zM0 127.8h5.285v5.628h-5.285zM29.91 127.8h5.285v5.628h-5.285zM54.84 133.2h5.285v5.628h-5.285zM19.94 138.5h5.285v5.628h-5.285zM29.91 138.5h5.285v5.628h-5.285zM84.75 138.5h5.285v5.628h-5.285zM9.97 143.8h5.285v5.628h-5.285zM19.94 143.8h10.27v5.628h-10.27zM34.9 143.8h5.285v5.628h-5.285zM14.96 149.2h5.285v5.628h-5.285zM39.88 149.2h5.285v5.628h-5.285zM0 154.5h5.285v5.628h-5.285zM9.97 154.5h5.285v5.628h-5.285zM69.79 154.5h5.285v5.628h-5.285zM0 159.8h5.285v5.628h-5.285zM59.82 159.8h10.27v5.628h-10.27zM69.79 165.1h5.285v5.628h-5.285zM114.7 170.5h5.285v5.628h-5.285zM59.82 175.8h5.285v5.628h-5.285zM0 181.1h5.285v5.628h-5.285zM54.84 181.1h5.285v5.628h-5.285zM89.73 181.1h5.285v5.628h-5.285zM0 186.5h5.285v5.628h-5.285zM94.72 191.8h5.285v5.628h-5.285zM139.6 197.1h5.285v5.628h-5.285z"/>
<path fill="#acd2cc" d="M64.81 10.63h5.285v5.628h-5.285z"/>
<path fill="#85c1c0" d="M69.79 10.63h5.285v5.628h-5.285z"/>
<path fill="#e5ede0" d="M74.78 10.63h10.27v5.628h-10.27zM54.84 15.96h10.27v5.628h-10.27zM49.85 21.28h10.27v5.628h-10.27zM74.78 21.28h5.285v5.628h-5.285zM54.84 26.61h5.285v5.628h-5.285zM74.78 26.61h5.285v5.628h-5.285zM44.87 31.94h5.285v5.628h-5.285zM64.81 31.94h5.285v5.628h-5.285zM109.7 31.94h5.285v5.628h-5.285zM49.85 37.27h5.285v5.628h-5.285zM104.7 111.9h10.27v5.628h-10.27zM94.72 117.2h5.285v5.628h-5.285zM129.6 117.2h5.285v5.628h-5.285zM139.6 117.2h5.285v5.628h-5.285zM114.7 122.5h5.285v5.628h-5.285zM129.6 122.5h5.285v5.628h-5.285zM109.7 127.8h5.285v5.628h-5.285zM124.6 127.8h5.285v5.628h-5.285zM134.6 138.5h5.285v5.628h-5.285zM104.7 154.5h5.285v5.628h-5.285z"/>
<path fill="#f6eaa0" d="M84.75 10.63h5.285v5.628h-5.285zM209.4 15.96h5.285v5.628h-5.285zM209.4 21.28h5.285v5.628h-5.285zM109.7 37.27h5.285v5.628h-5.285zM209.4 37.27h5.285v5.628h-5.285zM134.6 47.92h5.285v5.628h-5.285zM54.84 58.58h5.285v5.628h-5.285zM109.7 58.58h5.285v5.628h-5.285zM129.6 58.58h5.285v5.628h-5.285zM114.7 63.91h5.285v5.628h-5.285zM154.5 85.22h5.285v5.628h-5.285zM149.6 90.55h5.285v5.628h-5.285zM154.5 95.88h5.285v5.628h-5.285zM44.87 106.5h5.285v5.628h-5.285zM29.91 111.9h5.285v5.628h-5.285zM34.9 117.2h10.27v5.628h-10.27zM29.91 122.5h5.285v5.628h-5.285zM44.87 122.5h5.285v5.628h-5.285zM39.88 127.8h5.285v5.628h-5.285zM69.79 127.8h5.285v5.628h-5.285zM4.985 138.5h10.27v5.628h-10.27zM44.87 138.5h5.285v5.628h-5.285zM44.87 143.8h10.27v5.628h-10.27zM9.97 149.2h5.285v5.628h-5.285zM44.87 149.2h5.285v5.628h-5.285zM49.85 154.5h5.285v5.628h-5.285zM59.82 154.5h5.285v5.628h-5.285zM64.81 165.1h5.285v5.628h-5.285zM64.81 170.5h5.285v5.628h-5.285zM54.84 175.8h5.285v5.628h-5.285zM134.6 175.8h5.285v5.628h-5.285zM99.7 181.1h5.285v5.628h-5.285zM9.97 186.5h5.285v5.628h-5.285zM24.93 186.5h5.285v5.628h-5.285zM139.6 186.5h5.285v5.628h-5.285z"/>
<path fill="#efde87" d="M89.73 10.63h5.285v5.628h-5.285zM114.7 42.6h5.285v5.628h-5.285zM124.6 58.58h5.285v5.628h-5.285zM159.5 95.88h5.285v5.628h-5.285zM49.85 117.2h5.285v5.628h-5.285zM39.88 133.2h5.285v5.628h-5.285zM69.79 133.2h5.285v5.628h-5.285zM29.91 154.5h10.27v5.628h-10.27zM9.97 165.1h5.285v5.628h-5.285zM49.85 175.8h5.285v5.628h-5.285zM24.93 181.1h10.27v5.628h-10.27zM144.6 181.1h5.285v5.628h-5.285zM144.6 186.5h5.285v5.628h-5.285zM144.6 197.1h10.27v5.628h-10.27z"/>
<path fill="#d6e5db" d="M74.78 15.96h5.285v5.628h-5.285zM104.7 15.96h5.285v5.628h-5.285zM164.5 15.96h5.285v5.628h-5.285zM69.79 21.28h5.285v5.628h-5.285zM164.5 21.28h5.285v5.628h-5.285zM59.82 26.61h5.285v5.628h-5.285zM164.5 37.27h10.27v5.628h-10.27zM104.7 117.2h5.285v5.628h-5.285zM134.6 122.5h5.285v5.628h-5.285zM129.6 133.2h5.285v5.628h-5.285z"/>
<path fill="#b4d6cf" d="M109.7 15.96h5.285v5.628h-5.285zM109.7 21.28h5.285v5.628h-5.285zM109.7 26.61h5.285v5.628h-5.285z"/>
<path fill="#c5ddd5" d="M169.5 21.28h5.285v5.628h-5.285z"/>
<path fill="#a8a822" d="M179.5 21.28h5.285v5.628h-5.285zM174.5 26.61h5.285v5.628h-5.285z"/>
<path fill="#96a21c" d="M184.4 21.28h5.285v5.628h-5.285z"/>
<path fill="#acaa24" d="M189.4 21.28h5.285v5.628h-5.285z"/>
<path fill="#67b3b7" d="M169.5 26.61h5.285v5.628h-5.285z"/>
<path fill="#829c1b" d="M179.5 26.61h5.285v5.628h-5.285z"/>
<path fill="#5e8f1e" d="M184.4 26.61h5.285v5.628h-5.285z"/>
<path fill="#bdb030" d="M179.5 31.94h10.27v5.628h-10.27zM74.78 138.5h5.285v5.628h-5.285z"/>
<path fill="#ead778" d="M119.6 42.6h10.27v5.628h-10.27zM129.6 53.25h5.285v5.628h-5.285zM39.88 58.58h5.285v5.628h-5.285zM114.7 58.58h5.285v5.628h-5.285zM154.5 63.91h5.285v5.628h-5.285zM159.5 90.55h5.285v5.628h-5.285zM69.79 143.8h5.285v5.628h-5.285zM39.88 159.8h5.285v5.628h-5.285zM49.85 165.1h5.285v5.628h-5.285zM34.9 175.8h5.285v5.628h-5.285zM9.97 181.1h5.285v5.628h-5.285zM34.9 181.1h5.285v5.628h-5.285z"/>
<path fill="#f3e698" d="M129.6 42.6h5.285v5.628h-5.285zM109.7 53.25h5.285v5.628h-5.285zM44.87 58.58h5.285v5.628h-5.285zM119.6 63.91h5.285v5.628h-5.285zM154.5 69.24h5.285v5.628h-5.285zM154.5 90.55h5.285v5.628h-5.285zM49.85 111.9h5.285v5.628h-5.285zM49.85 127.8h5.285v5.628h-5.285zM44.87 133.2h10.27v5.628h-10.27zM34.9 138.5h5.285v5.628h-5.285zM49.85 138.5h10.27v5.628h-10.27zM29.91 143.8h5.285v5.628h-5.285zM54.84 143.8h5.285v5.628h-5.285zM64.81 143.8h5.285v5.628h-5.285zM69.79 149.2h5.285v5.628h-5.285zM24.93 154.5h5.285v5.628h-5.285zM39.88 154.5h10.27v5.628h-10.27zM4.985 159.8h5.285v5.628h-5.285zM4.985 165.1h5.285v5.628h-5.285zM0 170.5h5.285v5.628h-5.285zM109.7 170.5h5.285v5.628h-5.285zM0 175.8h5.285v5.628h-5.285zM144.6 175.8h5.285v5.628h-5.285zM149.6 181.1h5.285v5.628h-5.285zM29.91 186.5h5.285v5.628h-5.285zM99.7 186.5h5.285v5.628h-5.285zM134.6 186.5h5.285v5.628h-5.285zM149.6 186.5h5.285v5.628h-5.285zM144.6 191.8h5.285v5.628h-5.285zM144.6 202.4h5.285v5.628h-5.285z"/>
<path fill="#e4cf6a" d="M114.7 47.92h5.285v5.628h-5.285zM114.7 53.25h5.285v5.628h-5.285zM69.79 138.5h5.285v5.628h-5.285zM74.78 143.8h5.285v5.628h-5.285zM34.9 159.8h5.285v5.628h-5.285zM44.87 159.8h5.285v5.628h-5.285zM9.97 170.5h5.285v5.628h-5.285zM39.88 170.5h5.285v5.628h-5.285zM19.94 175.8h10.27v5.628h-10.27zM14.96 181.1h5.285v5.628h-5.285zM44.87 181.1h5.285v5.628h-5.285z"/>
<path fill="#dfc75c" d="M119.6 47.92h5.285v5.628h-5.285zM119.6 53.25h5.285v5.628h-5.285zM14.96 170.5h5.285v5.628h-5.285zM44.87 170.5h5.285v5.628h-5.285zM14.96 175.8h5.285v5.628h-5.285z"/>
<path fill="#e2cb63" d="M124.6 47.92h5.285v5.628h-5.285zM124.6 53.25h5.285v5.628h-5.285zM74.78 133.2h5.285v5.628h-5.285zM19.94 165.1h5.285v5.628h-5.285zM39.88 165.1h5.285v5.628h-5.285zM19.94 181.1h5.285v5.628h-5.285z"/>
<path fill="#e7d371" d="M129.6 47.92h5.285v5.628h-5.285zM24.93 165.1h5.285v5.628h-5.285zM9.97 175.8h5.285v5.628h-5.285zM29.91 175.8h5.285v5.628h-5.285zM139.6 181.1h5.285v5.628h-5.285z"/>
<path fill="#76babb" d="M164.5 85.22h5.285v5.628h-5.285z"/>
<path fill="#dcc355" d="M29.91 165.1h10.27v5.628h-10.27zM44.87 165.1h5.285v5.628h-5.285zM19.94 170.5h10.27v5.628h-10.27zM39.88 181.1h5.285v5.628h-5.285z"/>
<path fill="#d0ba42" d="M29.91 170.5h5.285v5.628h-5.285z"/>
<path fill="#d9c150" d="M34.9 170.5h5.285v5.628h-5.285z"/>
</g>
<path d="M0.20 0L6.00 209.00M31.64 0L37.80 209.00M63.08 0L69.00 209.00M94.52 0L100.00 209.00M125.96 0L130.90 209.00M157.40 0L161.70 209.00M188.84 0L192.20 209.00M0 19.10L219.00 13.50M0 45.97L219.00 40.37M0 72.84L219.00 67.24M0 99.71L219.00 94.11M0 126.58L219.00 120.98M0 153.45L219.00 147.85M0 180.32L219.00 174.72M0 207.19L219.00 201.59" fill="none" stroke="#b0b0b0" stroke-width="1.12"/>
<path d="M218.5 131.1C218.3 131.6 217.8 132.9 217.1 133.9C216.4 134.9 215.3 136.5 214.2 137.1C213.1 137.7 211.8 137.8 210.6 137.5C209.4 137.2 208.1 136.2 207.1 135.4C206.2 134.6 205.1 133.5 204.9 132.5C204.6 131.5 205.2 130.7 205.6 129.6C206.0 128.5 207.0 127.3 207.1 126.1C207.2 124.9 206.3 123.7 206.4 122.5C206.5 121.3 207.2 119.9 207.8 118.9C208.4 117.9 209.4 117.3 210.1 116.3C210.8 115.4 211.5 114.3 211.8 113.2C212.1 112.1 212.3 110.5 212.1 109.6C211.9 108.6 211.2 107.7 210.6 107.5C210.1 107.3 209.3 107.9 208.8 108.6C208.3 109.3 208.3 111.1 207.8 111.8C207.3 112.5 206.4 113.1 205.9 112.9C205.4 112.7 204.8 111.4 204.9 110.4C205.0 109.4 206.5 108.1 206.6 106.8C206.7 105.5 206.1 103.9 205.6 102.5C205.1 101.1 204.3 99.6 203.5 98.2C202.7 96.8 201.3 95.2 200.6 93.9C200.0 92.6 199.6 91.7 199.6 90.4C199.6 89.1 200.2 88.0 200.6 86.1C201.0 84.2 201.5 81.8 202.1 78.9C202.7 76.0 203.5 72.2 204.2 68.9C204.9 65.6 205.8 61.9 206.4 58.9C207.0 55.9 207.3 53.1 207.8 51.1C208.3 49.1 208.6 48.0 209.2 46.8C209.8 45.6 211.3 44.8 211.6 43.9C211.9 43.0 211.6 42.0 211.1 41.4C210.6 40.8 209.8 40.1 208.8 40.1C207.8 40.1 206.5 40.9 204.9 41.4C203.3 41.9 201.1 42.0 199.2 42.9C197.3 43.8 195.3 45.1 193.5 46.8C191.7 48.5 190.3 50.5 188.5 53.2C186.7 55.9 184.6 59.6 182.8 63.2C181.0 66.8 179.1 70.5 177.8 74.6C176.5 78.6 176.0 83.0 174.9 87.5C173.7 92.0 172.3 97.6 170.9 101.8C169.5 106.1 168.0 110.3 166.6 113.0C165.3 115.7 163.9 116.6 162.8 118.2C161.7 119.8 160.5 120.8 159.9 122.5C159.2 124.2 159.4 126.3 158.9 128.2C158.4 130.1 158.0 132.0 157.1 133.9C156.2 135.8 154.8 138.1 153.5 139.6C152.2 141.1 150.2 142.1 149.2 143.2C148.3 144.3 147.8 144.9 147.8 146.1C147.8 147.3 148.7 148.9 149.2 150.4C149.7 151.9 150.2 153.7 150.6 155.4C151.0 157.1 151.5 158.7 151.4 160.4C151.3 162.1 149.5 164.3 149.9 165.4C150.2 166.5 152.2 166.1 153.5 166.8C154.8 167.5 156.5 168.4 157.8 169.6C159.1 170.8 160.3 172.2 161.4 173.9C162.5 175.6 163.3 177.5 164.2 179.6C165.2 181.8 166.3 184.4 167.1 186.8C167.9 189.2 168.5 191.5 168.9 193.9C169.3 196.3 169.3 198.5 169.5 201.1C169.7 203.7 169.8 208.1 169.9 209.5" fill="none" stroke="#808080" stroke-width="1.4" stroke-linejoin="round"/>
</g>
<rect x="0" y="0" width="219" height="209" fill="none" stroke="#000" stroke-width="1.1"/>
</g>
<text x="259.70" y="73.25" font-size="17.00" text-anchor="middle" textLength="59.0" lengthAdjust="spacingAndGlyphs">u [m/s]</text>
<text x="151.50" y="91.75" font-size="14.10" text-anchor="middle" textLength="53.0" lengthAdjust="spacingAndGlyphs">112.5°E</text>
<text x="157.50" y="328.75" font-size="14.10" text-anchor="middle" textLength="53.0" lengthAdjust="spacingAndGlyphs">112.5°E</text>
<text x="213.75" y="91.75" font-size="14.10" text-anchor="middle" textLength="40.0" lengthAdjust="spacingAndGlyphs">113°E</text>
<text x="219.75" y="328.75" font-size="14.10" text-anchor="middle" textLength="40.0" lengthAdjust="spacingAndGlyphs">113°E</text>
<text x="276.00" y="91.75" font-size="14.10" text-anchor="middle" textLength="53.0" lengthAdjust="spacingAndGlyphs">113.5°E</text>
<text x="281.50" y="328.75" font-size="14.10" text-anchor="middle" textLength="53.0" lengthAdjust="spacingAndGlyphs">113.5°E</text>
<text x="338.75" y="91.75" font-size="14.10" text-anchor="middle" textLength="40.0" lengthAdjust="spacingAndGlyphs">114°E</text>
<text x="342.50" y="328.75" font-size="14.10" text-anchor="middle" textLength="40.0" lengthAdjust="spacingAndGlyphs">114°E</text>
<text x="143.00" y="126.05" font-size="14.10" text-anchor="end" textLength="46.4" lengthAdjust="spacingAndGlyphs">21.6°S</text>
<text x="143.00" y="152.92" font-size="14.10" text-anchor="end" textLength="46.4" lengthAdjust="spacingAndGlyphs">21.8°S</text>
<text x="143.00" y="179.79" font-size="14.10" text-anchor="end" textLength="32.3" lengthAdjust="spacingAndGlyphs">22°S</text>
<text x="143.00" y="206.66" font-size="14.10" text-anchor="end" textLength="46.4" lengthAdjust="spacingAndGlyphs">22.2°S</text>
<text x="143.00" y="233.53" font-size="14.10" text-anchor="end" textLength="46.4" lengthAdjust="spacingAndGlyphs">22.4°S</text>
<text x="143.00" y="260.40" font-size="14.10" text-anchor="end" textLength="46.4" lengthAdjust="spacingAndGlyphs">22.6°S</text>
<text x="143.00" y="287.27" font-size="14.10" text-anchor="end" textLength="46.4" lengthAdjust="spacingAndGlyphs">22.8°S</text>
<text x="143.00" y="314.14" font-size="14.10" text-anchor="end" textLength="32.3" lengthAdjust="spacingAndGlyphs">23°S</text>
<rect x="383.55" y="182.5" width="2.1" height="49.0" fill="url(#g0)" stroke="#000" stroke-width="1.1"/>
<text x="396.20" y="187.55" font-size="14.10" text-anchor="start" textLength="6.5" lengthAdjust="spacingAndGlyphs">1</text>
<text x="396.20" y="212.55" font-size="14.10" text-anchor="start" textLength="7.6" lengthAdjust="spacingAndGlyphs">0</text>
<text x="396.20" y="236.55" font-size="14.10" text-anchor="start" textLength="17.3" lengthAdjust="spacingAndGlyphs">−1</text>
<path d="M386.20 182.50h4.7M386.20 207.50h4.7M386.20 231.50h4.7" stroke="#000" stroke-width="1.15" fill="none"/>
<g transform="translate(478.5 102.5)">
<g clip-path="url(#clip)">
<rect x="0" y="0" width="219" height="209" fill="#97b6e1"/>
<path d="M170 209 L170 200 L219 196 L219 209 Z" fill="#efefdb"/>
<rect x="214" y="131.5" width="6" height="80" fill="#efefdb"/>
<g transform="matrix(1 -0.0258 0.0235 1 0 0)" shape-rendering="crispEdges">
<rect x="1.5" y="4.5" width="212.9" height="203.3" fill="#fffdd0"/>
<path fill="#f0f3e2" d="M0 4.5h5.285v6.428h-5.285zM34.9 4.5h5.285v6.428h-5.285zM129.6 4.5h10.27v6.428h-10.27zM9.97 10.63h5.285v5.628h-5.285zM34.9 10.63h5.285v5.628h-5.285zM99.7 10.63h5.285v5.628h-5.285zM114.7 10.63h5.285v5.628h-5.285zM19.94 15.96h10.27v5.628h-10.27zM109.7 15.96h5.285v5.628h-5.285zM0 21.28h5.285v5.628h-5.285zM9.97 21.28h5.285v5.628h-5.285zM19.94 21.28h5.285v5.628h-5.285zM124.6 21.28h5.285v5.628h-5.285zM19.94 26.61h5.285v5.628h-5.285zM34.9 26.61h5.285v5.628h-5.285zM89.73 26.61h5.285v5.628h-5.285zM99.7 26.61h5.285v5.628h-5.285zM29.91 31.94h5.285v5.628h-5.285zM89.73 31.94h10.27v5.628h-10.27zM129.6 31.94h5.285v5.628h-5.285zM24.93 37.27h5.285v5.628h-5.285zM104.7 37.27h10.27v5.628h-10.27zM129.6 37.27h5.285v5.628h-5.285zM139.6 37.27h5.285v5.628h-5.285zM4.985 42.6h10.27v5.628h-10.27zM19.94 42.6h5.285v5.628h-5.285zM99.7 42.6h5.285v5.628h-5.285zM94.72 47.92h5.285v5.628h-5.285zM4.985 53.25h5.285v5.628h-5.285zM94.72 53.25h5.285v5.628h-5.285zM0 58.58h10.27v5.628h-10.27zM14.96 58.58h5.285v5.628h-5.285zM24.93 58.58h10.27v5.628h-10.27zM44.87 58.58h5.285v5.628h-5.285zM99.7 58.58h15.26v5.628h-15.26zM0 63.91h10.27v5.628h-10.27zM39.88 63.91h5.285v5.628h-5.285zM54.84 63.91h5.285v5.628h-5.285zM24.93 69.24h5.285v5.628h-5.285zM44.87 69.24h5.285v5.628h-5.285zM59.82 69.24h5.285v5.628h-5.285zM119.6 69.24h5.285v5.628h-5.285zM209.4 69.24h5.285v5.628h-5.285zM0 74.56h5.285v5.628h-5.285zM34.9 74.56h5.285v5.628h-5.285zM44.87 74.56h5.285v5.628h-5.285zM64.81 74.56h5.285v5.628h-5.285zM119.6 74.56h5.285v5.628h-5.285zM144.6 74.56h5.285v5.628h-5.285zM39.88 79.89h5.285v5.628h-5.285zM54.84 79.89h10.27v5.628h-10.27zM84.75 79.89h5.285v5.628h-5.285zM124.6 79.89h10.27v5.628h-10.27zM34.9 85.22h5.285v5.628h-5.285zM44.87 85.22h5.285v5.628h-5.285zM84.75 85.22h5.285v5.628h-5.285zM144.6 85.22h5.285v5.628h-5.285zM19.94 90.55h5.285v5.628h-5.285zM34.9 90.55h5.285v5.628h-5.285zM44.87 90.55h5.285v5.628h-5.285zM64.81 90.55h5.285v5.628h-5.285zM79.76 90.55h5.285v5.628h-5.285zM139.6 90.55h5.285v5.628h-5.285zM24.93 95.88h10.27v5.628h-10.27zM39.88 95.88h5.285v5.628h-5.285zM74.78 95.88h5.285v5.628h-5.285zM84.75 95.88h10.27v5.628h-10.27zM39.88 101.2h5.285v5.628h-5.285zM79.76 101.2h5.285v5.628h-5.285zM119.6 101.2h10.27v5.628h-10.27zM4.985 106.5h5.285v5.628h-5.285zM14.96 106.5h5.285v5.628h-5.285zM29.91 106.5h10.27v5.628h-10.27zM44.87 106.5h5.285v5.628h-5.285zM114.7 106.5h5.285v5.628h-5.285zM124.6 106.5h5.285v5.628h-5.285zM4.985 111.9h10.27v5.628h-10.27zM64.81 111.9h5.285v5.628h-5.285zM74.78 111.9h5.285v5.628h-5.285zM99.7 111.9h5.285v5.628h-5.285zM134.6 111.9h5.285v5.628h-5.285zM84.75 117.2h5.285v5.628h-5.285zM94.72 117.2h5.285v5.628h-5.285zM104.7 117.2h5.285v5.628h-5.285zM119.6 117.2h10.27v5.628h-10.27zM144.6 117.2h5.285v5.628h-5.285zM4.985 122.5h5.285v5.628h-5.285zM24.93 122.5h5.285v5.628h-5.285zM89.73 122.5h5.285v5.628h-5.285zM104.7 122.5h5.285v5.628h-5.285zM124.6 122.5h10.27v5.628h-10.27zM139.6 122.5h5.285v5.628h-5.285zM0 127.8h5.285v5.628h-5.285zM29.91 127.8h5.285v5.628h-5.285zM69.79 127.8h5.285v5.628h-5.285zM79.76 127.8h5.285v5.628h-5.285zM89.73 127.8h5.285v5.628h-5.285zM99.7 127.8h5.285v5.628h-5.285zM119.6 127.8h10.27v5.628h-10.27zM134.6 127.8h5.285v5.628h-5.285zM9.97 133.2h10.27v5.628h-10.27zM84.75 133.2h5.285v5.628h-5.285zM119.6 133.2h10.27v5.628h-10.27zM0 138.5h5.285v5.628h-5.285zM9.97 138.5h5.285v5.628h-5.285zM64.81 138.5h5.285v5.628h-5.285zM74.78 138.5h5.285v5.628h-5.285zM0 143.8h5.285v5.628h-5.285zM29.91 143.8h10.27v5.628h-10.27zM84.75 143.8h10.27v5.628h-10.27zM99.7 143.8h5.285v5.628h-5.285zM119.6 143.8h5.285v5.628h-5.285zM134.6 143.8h5.285v5.628h-5.285zM9.97 149.2h5.285v5.628h-5.285zM19.94 149.2h5.285v5.628h-5.285zM29.91 149.2h5.285v5.628h-5.285zM49.85 149.2h5.285v5.628h-5.285zM109.7 149.2h5.285v5.628h-5.285zM0 154.5h5.285v5.628h-5.285zM24.93 154.5h10.27v5.628h-10.27zM74.78 154.5h5.285v5.628h-5.285zM19.94 159.8h10.27v5.628h-10.27zM34.9 159.8h5.285v5.628h-5.285zM84.75 159.8h5.285v5.628h-5.285zM109.7 159.8h10.27v5.628h-10.27zM24.93 165.1h5.285v5.628h-5.285zM44.87 165.1h5.285v5.628h-5.285zM109.7 165.1h10.27v5.628h-10.27zM129.6 165.1h5.285v5.628h-5.285zM19.94 170.5h5.285v5.628h-5.285zM44.87 170.5h5.285v5.628h-5.285zM89.73 170.5h5.285v5.628h-5.285zM119.6 170.5h5.285v5.628h-5.285zM9.97 175.8h5.285v5.628h-5.285zM39.88 175.8h5.285v5.628h-5.285zM84.75 175.8h10.27v5.628h-10.27zM114.7 175.8h10.27v5.628h-10.27zM0 181.1h5.285v5.628h-5.285zM9.97 181.1h10.27v5.628h-10.27zM39.88 181.1h5.285v5.628h-5.285zM49.85 181.1h5.285v5.628h-5.285zM69.79 181.1h5.285v5.628h-5.285zM79.76 181.1h5.285v5.628h-5.285zM89.73 181.1h10.27v5.628h-10.27zM119.6 181.1h5.285v5.628h-5.285zM9.97 186.5h5.285v5.628h-5.285zM34.9 186.5h5.285v5.628h-5.285zM74.78 186.5h5.285v5.628h-5.285zM114.7 186.5h10.27v5.628h-10.27zM39.88 191.8h5.285v5.628h-5.285zM54.84 191.8h10.27v5.628h-10.27zM79.76 191.8h5.285v5.628h-5.285zM39.88 197.1h5.285v5.628h-5.285zM54.84 197.1h5.285v5.628h-5.285zM64.81 197.1h25.23v5.628h-25.23zM14.96 202.4h5.285v5.628h-5.285zM84.75 202.4h5.285v5.628h-5.285zM124.6 202.4h5.285v5.628h-5.285zM154.5 202.4h5.285v5.628h-5.285z"/>
<path fill="#fcfad9" d="M9.97 4.5h5.285v6.428h-5.285zM44.87 4.5h10.27v6.428h-10.27zM84.75 4.5h5.285v6.428h-5.285zM94.72 4.5h5.285v6.428h-5.285zM14.96 10.63h5.285v5.628h-5.285zM94.72 10.63h5.285v5.628h-5.285zM0 15.96h5.285v5.628h-5.285zM9.97 15.96h5.285v5.628h-5.285zM49.85 15.96h5.285v5.628h-5.285zM39.88 21.28h15.26v5.628h-15.26zM49.85 26.61h5.285v5.628h-5.285zM74.78 26.61h5.285v5.628h-5.285zM0 31.94h5.285v5.628h-5.285zM24.93 31.94h5.285v5.628h-5.285zM79.76 31.94h10.27v5.628h-10.27zM19.94 37.27h5.285v5.628h-5.285zM59.82 37.27h5.285v5.628h-5.285zM84.75 37.27h5.285v5.628h-5.285zM0 42.6h5.285v5.628h-5.285zM54.84 42.6h5.285v5.628h-5.285zM64.81 42.6h5.285v5.628h-5.285zM24.93 47.92h5.285v5.628h-5.285zM59.82 47.92h10.27v5.628h-10.27zM59.82 58.58h5.285v5.628h-5.285zM94.72 58.58h5.285v5.628h-5.285zM59.82 63.91h5.285v5.628h-5.285zM94.72 63.91h5.285v5.628h-5.285zM124.6 63.91h5.285v5.628h-5.285zM14.96 69.24h5.285v5.628h-5.285zM74.78 69.24h5.285v5.628h-5.285zM84.75 69.24h5.285v5.628h-5.285zM94.72 69.24h5.285v5.628h-5.285zM114.7 69.24h5.285v5.628h-5.285zM9.97 74.56h5.285v5.628h-5.285zM54.84 74.56h5.285v5.628h-5.285zM4.985 79.89h5.285v5.628h-5.285zM44.87 79.89h10.27v5.628h-10.27zM69.79 79.89h5.285v5.628h-5.285zM89.73 79.89h10.27v5.628h-10.27zM119.6 79.89h5.285v5.628h-5.285zM0 85.22h5.285v5.628h-5.285zM94.72 85.22h10.27v5.628h-10.27zM119.6 85.22h5.285v5.628h-5.285zM14.96 90.55h5.285v5.628h-5.285zM49.85 90.55h5.285v5.628h-5.285zM84.75 90.55h5.285v5.628h-5.285zM119.6 90.55h5.285v5.628h-5.285zM0 95.88h5.285v5.628h-5.285zM19.94 95.88h5.285v5.628h-5.285zM34.9 95.88h5.285v5.628h-5.285zM49.85 95.88h5.285v5.628h-5.285zM59.82 95.88h10.27v5.628h-10.27zM99.7 95.88h10.27v5.628h-10.27zM114.7 95.88h5.285v5.628h-5.285zM139.6 95.88h5.285v5.628h-5.285zM4.985 101.2h15.26v5.628h-15.26zM24.93 101.2h5.285v5.628h-5.285zM64.81 101.2h5.285v5.628h-5.285zM9.97 106.5h5.285v5.628h-5.285zM19.94 106.5h5.285v5.628h-5.285zM74.78 106.5h5.285v5.628h-5.285zM44.87 111.9h10.27v5.628h-10.27zM69.79 111.9h5.285v5.628h-5.285zM139.6 111.9h15.26v5.628h-15.26zM0 117.2h5.285v5.628h-5.285zM139.6 117.2h5.285v5.628h-5.285zM39.88 122.5h10.27v5.628h-10.27zM84.75 127.8h5.285v5.628h-5.285zM144.6 127.8h5.285v5.628h-5.285zM64.81 133.2h5.285v5.628h-5.285zM39.88 138.5h5.285v5.628h-5.285zM49.85 138.5h15.26v5.628h-15.26zM69.79 138.5h5.285v5.628h-5.285zM44.87 143.8h5.285v5.628h-5.285zM89.73 149.2h5.285v5.628h-5.285zM9.97 154.5h5.285v5.628h-5.285zM9.97 159.8h5.285v5.628h-5.285zM4.985 181.1h5.285v5.628h-5.285zM54.84 181.1h5.285v5.628h-5.285zM124.6 181.1h5.285v5.628h-5.285zM49.85 186.5h5.285v5.628h-5.285zM59.82 186.5h10.27v5.628h-10.27zM149.6 186.5h5.285v5.628h-5.285zM9.97 191.8h5.285v5.628h-5.285zM74.78 191.8h5.285v5.628h-5.285zM154.5 191.8h5.285v5.628h-5.285zM4.985 197.1h10.27v5.628h-10.27zM124.6 197.1h5.285v5.628h-5.285zM4.985 202.4h5.285v5.628h-5.285zM24.93 202.4h5.285v5.628h-5.285zM54.84 202.4h5.285v5.628h-5.285zM89.73 202.4h5.285v5.628h-5.285z"/>
<path fill="#f5f6e4" d="M14.96 4.5h5.285v6.428h-5.285zM24.93 4.5h5.285v6.428h-5.285zM39.88 4.5h5.285v6.428h-5.285zM89.73 4.5h5.285v6.428h-5.285zM0 10.63h5.285v5.628h-5.285zM24.93 10.63h5.285v5.628h-5.285zM134.6 10.63h5.285v5.628h-5.285zM14.96 15.96h5.285v5.628h-5.285zM29.91 15.96h5.285v5.628h-5.285zM94.72 15.96h5.285v5.628h-5.285zM94.72 21.28h10.27v5.628h-10.27zM0 26.61h5.285v5.628h-5.285zM14.96 26.61h5.285v5.628h-5.285zM44.87 26.61h5.285v5.628h-5.285zM54.84 26.61h5.285v5.628h-5.285zM84.75 26.61h5.285v5.628h-5.285zM4.985 31.94h5.285v5.628h-5.285zM34.9 31.94h10.27v5.628h-10.27zM69.79 31.94h5.285v5.628h-5.285zM99.7 31.94h5.285v5.628h-5.285zM34.9 37.27h5.285v5.628h-5.285zM44.87 37.27h5.285v5.628h-5.285zM54.84 37.27h5.285v5.628h-5.285zM64.81 37.27h5.285v5.628h-5.285zM89.73 37.27h5.285v5.628h-5.285zM24.93 42.6h5.285v5.628h-5.285zM34.9 42.6h5.285v5.628h-5.285zM94.72 42.6h5.285v5.628h-5.285zM139.6 42.6h5.285v5.628h-5.285zM4.985 47.92h5.285v5.628h-5.285zM29.91 47.92h5.285v5.628h-5.285zM39.88 47.92h15.26v5.628h-15.26zM104.7 47.92h5.285v5.628h-5.285zM149.6 47.92h5.285v5.628h-5.285zM24.93 53.25h5.285v5.628h-5.285zM44.87 53.25h5.285v5.628h-5.285zM19.94 63.91h10.27v5.628h-10.27zM9.97 69.24h5.285v5.628h-5.285zM34.9 69.24h5.285v5.628h-5.285zM54.84 69.24h5.285v5.628h-5.285zM124.6 69.24h5.285v5.628h-5.285zM4.985 74.56h5.285v5.628h-5.285zM29.91 74.56h5.285v5.628h-5.285zM49.85 74.56h5.285v5.628h-5.285zM89.73 74.56h5.285v5.628h-5.285zM124.6 74.56h5.285v5.628h-5.285zM24.93 79.89h5.285v5.628h-5.285zM79.76 79.89h5.285v5.628h-5.285zM19.94 85.22h15.26v5.628h-15.26zM49.85 85.22h10.27v5.628h-10.27zM69.79 85.22h10.27v5.628h-10.27zM124.6 85.22h5.285v5.628h-5.285zM59.82 90.55h5.285v5.628h-5.285zM69.79 90.55h5.285v5.628h-5.285zM89.73 90.55h5.285v5.628h-5.285zM124.6 90.55h5.285v5.628h-5.285zM14.96 95.88h5.285v5.628h-5.285zM44.87 95.88h5.285v5.628h-5.285zM69.79 95.88h5.285v5.628h-5.285zM124.6 95.88h5.285v5.628h-5.285zM134.6 95.88h5.285v5.628h-5.285zM29.91 101.2h10.27v5.628h-10.27zM69.79 101.2h5.285v5.628h-5.285zM0 106.5h5.285v5.628h-5.285zM24.93 106.5h5.285v5.628h-5.285zM39.88 106.5h5.285v5.628h-5.285zM64.81 106.5h5.285v5.628h-5.285zM79.76 106.5h10.27v5.628h-10.27zM119.6 106.5h5.285v5.628h-5.285zM14.96 111.9h5.285v5.628h-5.285zM24.93 111.9h5.285v5.628h-5.285zM34.9 111.9h10.27v5.628h-10.27zM79.76 111.9h5.285v5.628h-5.285zM89.73 111.9h5.285v5.628h-5.285zM104.7 111.9h15.26v5.628h-15.26zM4.985 117.2h5.285v5.628h-5.285zM14.96 117.2h5.285v5.628h-5.285zM29.91 117.2h15.26v5.628h-15.26zM109.7 117.2h10.27v5.628h-10.27zM149.6 117.2h5.285v5.628h-5.285zM9.97 122.5h5.285v5.628h-5.285zM29.91 122.5h10.27v5.628h-10.27zM49.85 122.5h5.285v5.628h-5.285zM59.82 122.5h10.27v5.628h-10.27zM74.78 122.5h5.285v5.628h-5.285zM119.6 122.5h5.285v5.628h-5.285zM134.6 122.5h5.285v5.628h-5.285zM144.6 122.5h5.285v5.628h-5.285zM19.94 127.8h5.285v5.628h-5.285zM34.9 127.8h5.285v5.628h-5.285zM44.87 127.8h15.26v5.628h-15.26zM74.78 127.8h5.285v5.628h-5.285zM94.72 127.8h5.285v5.628h-5.285zM104.7 127.8h5.285v5.628h-5.285zM34.9 133.2h5.285v5.628h-5.285zM59.82 133.2h5.285v5.628h-5.285zM89.73 133.2h10.27v5.628h-10.27zM104.7 133.2h10.27v5.628h-10.27zM19.94 138.5h5.285v5.628h-5.285zM29.91 138.5h5.285v5.628h-5.285zM94.72 138.5h5.285v5.628h-5.285zM124.6 138.5h5.285v5.628h-5.285zM134.6 138.5h5.285v5.628h-5.285zM4.985 143.8h5.285v5.628h-5.285zM24.93 143.8h5.285v5.628h-5.285zM39.88 143.8h5.285v5.628h-5.285zM49.85 143.8h5.285v5.628h-5.285zM64.81 143.8h5.285v5.628h-5.285zM114.7 143.8h5.285v5.628h-5.285zM4.985 149.2h5.285v5.628h-5.285zM14.96 149.2h5.285v5.628h-5.285zM64.81 149.2h10.27v5.628h-10.27zM94.72 149.2h5.285v5.628h-5.285zM119.6 149.2h5.285v5.628h-5.285zM134.6 149.2h5.285v5.628h-5.285zM4.985 154.5h5.285v5.628h-5.285zM19.94 154.5h5.285v5.628h-5.285zM94.72 154.5h5.285v5.628h-5.285zM104.7 154.5h5.285v5.628h-5.285zM119.6 154.5h5.285v5.628h-5.285zM89.73 159.8h10.27v5.628h-10.27zM139.6 159.8h5.285v5.628h-5.285zM0 165.1h5.285v5.628h-5.285zM29.91 165.1h5.285v5.628h-5.285zM0 170.5h10.27v5.628h-10.27zM29.91 170.5h5.285v5.628h-5.285zM79.76 170.5h5.285v5.628h-5.285zM134.6 170.5h10.27v5.628h-10.27zM0 175.8h10.27v5.628h-10.27zM69.79 175.8h10.27v5.628h-10.27zM94.72 175.8h5.285v5.628h-5.285zM149.6 175.8h5.285v5.628h-5.285zM14.96 186.5h15.26v5.628h-15.26zM79.76 186.5h10.27v5.628h-10.27zM14.96 191.8h5.285v5.628h-5.285zM29.91 191.8h5.285v5.628h-5.285zM69.79 191.8h5.285v5.628h-5.285zM124.6 191.8h5.285v5.628h-5.285zM0 197.1h5.285v5.628h-5.285zM14.96 197.1h5.285v5.628h-5.285zM49.85 197.1h5.285v5.628h-5.285zM114.7 197.1h5.285v5.628h-5.285zM29.91 202.4h5.285v5.628h-5.285zM49.85 202.4h5.285v5.628h-5.285zM129.6 202.4h5.285v5.628h-5.285zM144.6 202.4h10.27v5.628h-10.27z"/>
<path fill="#f8f8e2" d="M19.94 4.5h5.285v6.428h-5.285zM99.7 4.5h5.285v6.428h-5.285zM164.5 4.5h15.26v6.428h-15.26zM4.985 10.63h5.285v5.628h-5.285zM19.94 10.63h5.285v5.628h-5.285zM39.88 10.63h5.285v5.628h-5.285zM174.5 10.63h5.285v5.628h-5.285zM4.985 15.96h5.285v5.628h-5.285zM44.87 15.96h5.285v5.628h-5.285zM4.985 21.28h5.285v5.628h-5.285zM14.96 21.28h5.285v5.628h-5.285zM24.93 21.28h5.285v5.628h-5.285zM34.9 21.28h5.285v5.628h-5.285zM54.84 21.28h5.285v5.628h-5.285zM24.93 26.61h10.27v5.628h-10.27zM39.88 26.61h5.285v5.628h-5.285zM59.82 26.61h5.285v5.628h-5.285zM14.96 31.94h10.27v5.628h-10.27zM59.82 31.94h5.285v5.628h-5.285zM134.6 31.94h10.27v5.628h-10.27zM4.985 37.27h15.26v5.628h-15.26zM29.91 37.27h5.285v5.628h-5.285zM39.88 37.27h5.285v5.628h-5.285zM94.72 37.27h10.27v5.628h-10.27zM39.88 42.6h15.26v5.628h-15.26zM59.82 42.6h5.285v5.628h-5.285zM19.94 47.92h5.285v5.628h-5.285zM54.84 47.92h5.285v5.628h-5.285zM0 53.25h5.285v5.628h-5.285zM9.97 53.25h15.26v5.628h-15.26zM29.91 53.25h5.285v5.628h-5.285zM49.85 53.25h5.285v5.628h-5.285zM59.82 53.25h5.285v5.628h-5.285zM99.7 53.25h5.285v5.628h-5.285zM9.97 58.58h5.285v5.628h-5.285zM114.7 58.58h5.285v5.628h-5.285zM124.6 58.58h10.27v5.628h-10.27zM144.6 58.58h5.285v5.628h-5.285zM9.97 63.91h10.27v5.628h-10.27zM64.81 63.91h5.285v5.628h-5.285zM99.7 63.91h5.285v5.628h-5.285zM4.985 69.24h5.285v5.628h-5.285zM29.91 69.24h5.285v5.628h-5.285zM49.85 69.24h5.285v5.628h-5.285zM79.76 69.24h5.285v5.628h-5.285zM89.73 69.24h5.285v5.628h-5.285zM14.96 74.56h15.26v5.628h-15.26zM39.88 74.56h5.285v5.628h-5.285zM59.82 74.56h5.285v5.628h-5.285zM94.72 74.56h5.285v5.628h-5.285zM149.6 74.56h5.285v5.628h-5.285zM19.94 79.89h5.285v5.628h-5.285zM34.9 79.89h5.285v5.628h-5.285zM64.81 85.22h5.285v5.628h-5.285zM79.76 85.22h5.285v5.628h-5.285zM89.73 85.22h5.285v5.628h-5.285zM0 90.55h5.285v5.628h-5.285zM24.93 90.55h10.27v5.628h-10.27zM39.88 90.55h5.285v5.628h-5.285zM94.72 90.55h10.27v5.628h-10.27zM134.6 90.55h5.285v5.628h-5.285zM4.985 95.88h5.285v5.628h-5.285zM54.84 95.88h5.285v5.628h-5.285zM119.6 95.88h5.285v5.628h-5.285zM129.6 95.88h5.285v5.628h-5.285zM0 101.2h5.285v5.628h-5.285zM44.87 101.2h5.285v5.628h-5.285zM84.75 101.2h35.2v5.628h-35.2zM129.6 101.2h5.285v5.628h-5.285zM69.79 106.5h5.285v5.628h-5.285zM99.7 106.5h10.27v5.628h-10.27zM19.94 111.9h5.285v5.628h-5.285zM29.91 111.9h5.285v5.628h-5.285zM84.75 111.9h5.285v5.628h-5.285zM94.72 111.9h5.285v5.628h-5.285zM119.6 111.9h5.285v5.628h-5.285zM129.6 111.9h5.285v5.628h-5.285zM154.5 111.9h5.285v5.628h-5.285zM19.94 117.2h5.285v5.628h-5.285zM59.82 117.2h10.27v5.628h-10.27zM79.76 117.2h5.285v5.628h-5.285zM89.73 117.2h5.285v5.628h-5.285zM99.7 117.2h5.285v5.628h-5.285zM129.6 117.2h5.285v5.628h-5.285zM154.5 117.2h5.285v5.628h-5.285zM14.96 122.5h5.285v5.628h-5.285zM79.76 122.5h5.285v5.628h-5.285zM109.7 122.5h5.285v5.628h-5.285zM149.6 122.5h5.285v5.628h-5.285zM14.96 127.8h5.285v5.628h-5.285zM39.88 127.8h5.285v5.628h-5.285zM59.82 127.8h10.27v5.628h-10.27zM129.6 127.8h5.285v5.628h-5.285zM24.93 133.2h10.27v5.628h-10.27zM54.84 133.2h5.285v5.628h-5.285zM79.76 133.2h5.285v5.628h-5.285zM129.6 133.2h10.27v5.628h-10.27zM4.985 138.5h5.285v5.628h-5.285zM34.9 138.5h5.285v5.628h-5.285zM44.87 138.5h5.285v5.628h-5.285zM79.76 138.5h15.26v5.628h-15.26zM19.94 143.8h5.285v5.628h-5.285zM59.82 143.8h5.285v5.628h-5.285zM69.79 143.8h10.27v5.628h-10.27zM124.6 143.8h5.285v5.628h-5.285zM0 149.2h5.285v5.628h-5.285zM74.78 149.2h5.285v5.628h-5.285zM84.75 149.2h5.285v5.628h-5.285zM124.6 149.2h5.285v5.628h-5.285zM84.75 154.5h5.285v5.628h-5.285zM4.985 159.8h5.285v5.628h-5.285zM4.985 165.1h20.24v5.628h-20.24zM119.6 165.1h10.27v5.628h-10.27zM134.6 165.1h5.285v5.628h-5.285zM9.97 170.5h5.285v5.628h-5.285zM129.6 170.5h5.285v5.628h-5.285zM14.96 175.8h5.285v5.628h-5.285zM34.9 175.8h5.285v5.628h-5.285zM54.84 175.8h5.285v5.628h-5.285zM79.76 175.8h5.285v5.628h-5.285zM124.6 175.8h5.285v5.628h-5.285zM44.87 181.1h5.285v5.628h-5.285zM59.82 181.1h10.27v5.628h-10.27zM84.75 181.1h5.285v5.628h-5.285zM0 186.5h10.27v5.628h-10.27zM29.91 186.5h5.285v5.628h-5.285zM69.79 186.5h5.285v5.628h-5.285zM0 191.8h10.27v5.628h-10.27zM34.9 191.8h5.285v5.628h-5.285zM44.87 191.8h5.285v5.628h-5.285zM119.6 191.8h5.285v5.628h-5.285zM44.87 197.1h5.285v5.628h-5.285zM94.72 197.1h5.285v5.628h-5.285zM149.6 197.1h10.27v5.628h-10.27zM9.97 202.4h5.285v5.628h-5.285zM19.94 202.4h5.285v5.628h-5.285zM34.9 202.4h5.285v5.628h-5.285zM44.87 202.4h5.285v5.628h-5.285zM69.79 202.4h15.26v5.628h-15.26zM119.6 202.4h5.285v5.628h-5.285z"/>
<path fill="#ecf0e1" d="M29.91 4.5h5.285v6.428h-5.285zM29.91 10.63h5.285v5.628h-5.285zM34.9 15.96h5.285v5.628h-5.285zM99.7 15.96h10.27v5.628h-10.27zM124.6 15.96h5.285v5.628h-5.285zM29.91 21.28h5.285v5.628h-5.285zM94.72 26.61h5.285v5.628h-5.285zM9.97 31.94h5.285v5.628h-5.285zM49.85 31.94h10.27v5.628h-10.27zM109.7 31.94h10.27v5.628h-10.27zM49.85 37.27h5.285v5.628h-5.285zM119.6 37.27h5.285v5.628h-5.285zM134.6 37.27h5.285v5.628h-5.285zM14.96 42.6h5.285v5.628h-5.285zM29.91 42.6h5.285v5.628h-5.285zM104.7 42.6h5.285v5.628h-5.285zM0 47.92h5.285v5.628h-5.285zM9.97 47.92h10.27v5.628h-10.27zM99.7 47.92h5.285v5.628h-5.285zM39.88 53.25h5.285v5.628h-5.285zM104.7 53.25h5.285v5.628h-5.285zM114.7 53.25h5.285v5.628h-5.285zM19.94 58.58h5.285v5.628h-5.285zM39.88 58.58h5.285v5.628h-5.285zM29.91 63.91h10.27v5.628h-10.27zM44.87 63.91h10.27v5.628h-10.27zM129.6 63.91h5.285v5.628h-5.285zM0 69.24h5.285v5.628h-5.285zM19.94 69.24h5.285v5.628h-5.285zM39.88 69.24h5.285v5.628h-5.285zM129.6 69.24h10.27v5.628h-10.27zM129.6 74.56h5.285v5.628h-5.285zM29.91 79.89h5.285v5.628h-5.285zM64.81 79.89h5.285v5.628h-5.285zM134.6 79.89h5.285v5.628h-5.285zM149.6 79.89h5.285v5.628h-5.285zM39.88 85.22h5.285v5.628h-5.285zM59.82 85.22h5.285v5.628h-5.285zM129.6 85.22h10.27v5.628h-10.27zM74.78 90.55h5.285v5.628h-5.285zM129.6 90.55h5.285v5.628h-5.285zM79.76 95.88h5.285v5.628h-5.285zM94.72 95.88h5.285v5.628h-5.285zM19.94 101.2h5.285v5.628h-5.285zM74.78 101.2h5.285v5.628h-5.285zM89.73 106.5h10.27v5.628h-10.27zM109.7 106.5h5.285v5.628h-5.285zM0 111.9h5.285v5.628h-5.285zM124.6 111.9h5.285v5.628h-5.285zM24.93 117.2h5.285v5.628h-5.285zM44.87 117.2h5.285v5.628h-5.285zM74.78 117.2h5.285v5.628h-5.285zM134.6 117.2h5.285v5.628h-5.285zM0 122.5h5.285v5.628h-5.285zM19.94 122.5h5.285v5.628h-5.285zM84.75 122.5h5.285v5.628h-5.285zM94.72 122.5h5.285v5.628h-5.285zM114.7 122.5h5.285v5.628h-5.285zM4.985 127.8h10.27v5.628h-10.27zM24.93 127.8h5.285v5.628h-5.285zM109.7 127.8h10.27v5.628h-10.27zM0 133.2h5.285v5.628h-5.285zM19.94 133.2h5.285v5.628h-5.285zM69.79 133.2h10.27v5.628h-10.27zM99.7 133.2h5.285v5.628h-5.285zM24.93 138.5h5.285v5.628h-5.285zM104.7 138.5h5.285v5.628h-5.285zM129.6 138.5h5.285v5.628h-5.285zM9.97 143.8h10.27v5.628h-10.27zM54.84 143.8h5.285v5.628h-5.285zM79.76 143.8h5.285v5.628h-5.285zM94.72 143.8h5.285v5.628h-5.285zM24.93 149.2h5.285v5.628h-5.285zM34.9 149.2h15.26v5.628h-15.26zM104.7 149.2h5.285v5.628h-5.285zM54.84 154.5h5.285v5.628h-5.285zM69.79 154.5h5.285v5.628h-5.285zM79.76 154.5h5.285v5.628h-5.285zM124.6 154.5h5.285v5.628h-5.285zM0 159.8h5.285v5.628h-5.285zM29.91 159.8h5.285v5.628h-5.285zM74.78 159.8h5.285v5.628h-5.285zM99.7 159.8h5.285v5.628h-5.285zM119.6 159.8h10.27v5.628h-10.27zM34.9 165.1h5.285v5.628h-5.285zM84.75 165.1h5.285v5.628h-5.285zM99.7 165.1h10.27v5.628h-10.27zM14.96 170.5h5.285v5.628h-5.285zM24.93 170.5h5.285v5.628h-5.285zM39.88 170.5h5.285v5.628h-5.285zM84.75 170.5h5.285v5.628h-5.285zM94.72 170.5h5.285v5.628h-5.285zM109.7 170.5h5.285v5.628h-5.285zM124.6 170.5h5.285v5.628h-5.285zM19.94 175.8h5.285v5.628h-5.285zM29.91 175.8h5.285v5.628h-5.285zM44.87 175.8h5.285v5.628h-5.285zM59.82 175.8h5.285v5.628h-5.285zM19.94 181.1h5.285v5.628h-5.285zM34.9 181.1h5.285v5.628h-5.285zM74.78 181.1h5.285v5.628h-5.285zM114.7 181.1h5.285v5.628h-5.285zM39.88 186.5h10.27v5.628h-10.27zM94.72 186.5h5.285v5.628h-5.285zM64.81 191.8h5.285v5.628h-5.285zM84.75 191.8h5.285v5.628h-5.285zM109.7 191.8h10.27v5.628h-10.27zM34.9 197.1h5.285v5.628h-5.285zM59.82 197.1h5.285v5.628h-5.285zM99.7 197.1h5.285v5.628h-5.285zM0 202.4h5.285v5.628h-5.285zM39.88 202.4h5.285v5.628h-5.285zM59.82 202.4h10.27v5.628h-10.27zM94.72 202.4h5.285v5.628h-5.285zM109.7 202.4h10.27v5.628h-10.27z"/>
<path fill="#fcf7c0" d="M54.84 4.5h5.285v6.428h-5.285zM164.5 10.63h5.285v5.628h-5.285zM79.76 15.96h5.285v5.628h-5.285zM84.75 21.28h5.285v5.628h-5.285zM69.79 26.61h5.285v5.628h-5.285zM74.78 42.6h5.285v5.628h-5.285zM89.73 53.25h5.285v5.628h-5.285zM89.73 58.58h5.285v5.628h-5.285zM79.76 63.91h10.27v5.628h-10.27zM74.78 74.56h5.285v5.628h-5.285zM14.96 79.89h5.285v5.628h-5.285zM104.7 85.22h15.26v5.628h-15.26zM9.97 90.55h5.285v5.628h-5.285zM114.7 90.55h5.285v5.628h-5.285zM54.84 101.2h5.285v5.628h-5.285zM144.6 101.2h5.285v5.628h-5.285zM134.6 106.5h20.24v5.628h-20.24zM139.6 127.8h5.285v5.628h-5.285zM14.96 154.5h5.285v5.628h-5.285zM134.6 175.8h5.285v5.628h-5.285zM129.6 191.8h5.285v5.628h-5.285zM149.6 191.8h5.285v5.628h-5.285z"/>
<path fill="#f9f0b0" d="M59.82 4.5h5.285v6.428h-5.285zM79.76 10.63h5.285v5.628h-5.285zM89.73 21.28h5.285v5.628h-5.285zM84.75 47.92h5.285v5.628h-5.285zM69.79 58.58h5.285v5.628h-5.285zM84.75 58.58h5.285v5.628h-5.285zM109.7 63.91h5.285v5.628h-5.285zM109.7 79.89h5.285v5.628h-5.285zM154.5 79.89h5.285v5.628h-5.285zM149.6 85.22h5.285v5.628h-5.285zM164.5 85.22h5.285v5.628h-5.285zM149.6 95.88h10.27v5.628h-10.27zM59.82 101.2h5.285v5.628h-5.285zM154.5 101.2h5.285v5.628h-5.285zM54.84 117.2h5.285v5.628h-5.285zM139.6 133.2h5.285v5.628h-5.285z"/>
<path fill="#f6eaa0" d="M64.81 4.5h5.285v6.428h-5.285zM184.4 15.96h5.285v5.628h-5.285zM74.78 47.92h10.27v5.628h-10.27zM154.5 69.24h5.285v5.628h-5.285zM154.5 90.55h5.285v5.628h-5.285zM59.82 106.5h5.285v5.628h-5.285zM54.84 111.9h5.285v5.628h-5.285zM134.6 181.1h5.285v5.628h-5.285zM144.6 181.1h5.285v5.628h-5.285zM144.6 186.5h5.285v5.628h-5.285zM134.6 191.8h10.27v5.628h-10.27z"/>
<path fill="#f1e28f" d="M69.79 4.5h5.285v6.428h-5.285zM59.82 15.96h5.285v5.628h-5.285zM124.6 31.94h5.285v5.628h-5.285zM79.76 53.25h5.285v5.628h-5.285zM139.6 181.1h5.285v5.628h-5.285zM139.6 186.5h5.285v5.628h-5.285z"/>
<path fill="#fbf4b8" d="M74.78 4.5h5.285v6.428h-5.285zM84.75 10.63h5.285v5.628h-5.285zM169.5 10.63h5.285v5.628h-5.285zM54.84 15.96h5.285v5.628h-5.285zM59.82 21.28h5.285v5.628h-5.285zM79.76 21.28h5.285v5.628h-5.285zM84.75 53.25h5.285v5.628h-5.285zM74.78 58.58h10.27v5.628h-10.27zM69.79 63.91h5.285v5.628h-5.285zM104.7 69.24h5.285v5.628h-5.285zM79.76 74.56h5.285v5.628h-5.285zM9.97 85.22h5.285v5.628h-5.285zM104.7 90.55h10.27v5.628h-10.27zM149.6 101.2h5.285v5.628h-5.285zM144.6 133.2h5.285v5.628h-5.285zM19.94 191.8h5.285v5.628h-5.285zM24.93 197.1h5.285v5.628h-5.285zM139.6 197.1h5.285v5.628h-5.285z"/>
<path fill="#fefac8" d="M79.76 4.5h5.285v6.428h-5.285zM49.85 10.63h5.285v5.628h-5.285zM84.75 15.96h10.27v5.628h-10.27zM79.76 26.61h5.285v5.628h-5.285zM74.78 31.94h5.285v5.628h-5.285zM144.6 31.94h5.285v5.628h-5.285zM69.79 37.27h15.26v5.628h-15.26zM79.76 42.6h5.285v5.628h-5.285zM89.73 42.6h5.285v5.628h-5.285zM69.79 47.92h5.285v5.628h-5.285zM64.81 53.25h5.285v5.628h-5.285zM49.85 58.58h5.285v5.628h-5.285zM64.81 58.58h5.285v5.628h-5.285zM104.7 63.91h5.285v5.628h-5.285zM114.7 63.91h5.285v5.628h-5.285zM104.7 74.56h5.285v5.628h-5.285zM9.97 79.89h5.285v5.628h-5.285zM114.7 79.89h5.285v5.628h-5.285zM14.96 85.22h5.285v5.628h-5.285zM149.6 90.55h5.285v5.628h-5.285zM9.97 95.88h5.285v5.628h-5.285zM49.85 101.2h5.285v5.628h-5.285zM134.6 101.2h5.285v5.628h-5.285zM154.5 106.5h5.285v5.628h-5.285zM69.79 122.5h5.285v5.628h-5.285zM44.87 133.2h10.27v5.628h-10.27zM89.73 154.5h5.285v5.628h-5.285zM139.6 175.8h10.27v5.628h-10.27zM54.84 186.5h5.285v5.628h-5.285zM49.85 191.8h5.285v5.628h-5.285zM29.91 197.1h5.285v5.628h-5.285zM129.6 197.1h10.27v5.628h-10.27zM144.6 197.1h5.285v5.628h-5.285z"/>
<path fill="#f3e698" d="M59.82 10.63h5.285v5.628h-5.285zM144.6 53.25h5.285v5.628h-5.285zM159.5 85.22h5.285v5.628h-5.285zM159.5 90.55h5.285v5.628h-5.285zM54.84 106.5h5.285v5.628h-5.285zM89.73 197.1h5.285v5.628h-5.285z"/>
<path fill="#dcc355" d="M64.81 10.63h5.285v5.628h-5.285z"/>
<path fill="#e7d371" d="M69.79 10.63h5.285v5.628h-5.285zM164.5 21.28h5.285v5.628h-5.285z"/>
<path fill="#f8eda8" d="M74.78 10.63h5.285v5.628h-5.285zM74.78 21.28h5.285v5.628h-5.285zM64.81 26.61h5.285v5.628h-5.285zM69.79 53.25h10.27v5.628h-10.27zM139.6 69.24h5.285v5.628h-5.285zM104.7 79.89h5.285v5.628h-5.285zM159.5 95.88h5.285v5.628h-5.285zM139.6 138.5h5.285v5.628h-5.285zM129.6 181.1h5.285v5.628h-5.285zM129.6 186.5h5.285v5.628h-5.285zM144.6 191.8h5.285v5.628h-5.285z"/>
<path fill="#e5ede0" d="M119.6 10.63h5.285v5.628h-5.285zM129.6 15.96h5.285v5.628h-5.285zM104.7 21.28h5.285v5.628h-5.285zM114.7 21.28h5.285v5.628h-5.285zM129.6 21.28h5.285v5.628h-5.285zM209.4 21.28h5.285v5.628h-5.285zM114.7 26.61h5.285v5.628h-5.285zM124.6 26.61h10.27v5.628h-10.27zM44.87 31.94h5.285v5.628h-5.285zM104.7 31.94h5.285v5.628h-5.285zM119.6 31.94h5.285v5.628h-5.285zM114.7 37.27h5.285v5.628h-5.285zM124.6 37.27h5.285v5.628h-5.285zM114.7 42.6h5.285v5.628h-5.285zM124.6 42.6h10.27v5.628h-10.27zM34.9 47.92h5.285v5.628h-5.285zM129.6 47.92h5.285v5.628h-5.285zM34.9 53.25h5.285v5.628h-5.285zM129.6 53.25h5.285v5.628h-5.285zM34.9 58.58h5.285v5.628h-5.285zM119.6 58.58h5.285v5.628h-5.285zM139.6 74.56h5.285v5.628h-5.285zM139.6 79.89h10.27v5.628h-10.27zM139.6 85.22h5.285v5.628h-5.285zM9.97 117.2h5.285v5.628h-5.285zM99.7 122.5h5.285v5.628h-5.285zM4.985 133.2h5.285v5.628h-5.285zM114.7 133.2h5.285v5.628h-5.285zM14.96 138.5h5.285v5.628h-5.285zM99.7 138.5h5.285v5.628h-5.285zM119.6 138.5h5.285v5.628h-5.285zM104.7 143.8h5.285v5.628h-5.285zM129.6 143.8h5.285v5.628h-5.285zM54.84 149.2h5.285v5.628h-5.285zM79.76 149.2h5.285v5.628h-5.285zM99.7 149.2h5.285v5.628h-5.285zM59.82 154.5h10.27v5.628h-10.27zM114.7 154.5h5.285v5.628h-5.285zM129.6 154.5h10.27v5.628h-10.27zM39.88 159.8h5.285v5.628h-5.285zM39.88 165.1h5.285v5.628h-5.285zM54.84 165.1h5.285v5.628h-5.285zM79.76 165.1h5.285v5.628h-5.285zM89.73 165.1h10.27v5.628h-10.27zM34.9 170.5h5.285v5.628h-5.285zM49.85 170.5h5.285v5.628h-5.285zM59.82 170.5h10.27v5.628h-10.27zM74.78 170.5h5.285v5.628h-5.285zM24.93 175.8h5.285v5.628h-5.285zM49.85 175.8h5.285v5.628h-5.285zM64.81 175.8h5.285v5.628h-5.285zM99.7 175.8h10.27v5.628h-10.27zM109.7 181.1h5.285v5.628h-5.285zM89.73 186.5h5.285v5.628h-5.285zM94.72 191.8h5.285v5.628h-5.285zM104.7 197.1h5.285v5.628h-5.285zM119.6 197.1h5.285v5.628h-5.285zM99.7 202.4h5.285v5.628h-5.285z"/>
<path fill="#d9c150" d="M64.81 15.96h5.285v5.628h-5.285z"/>
<path fill="#dfc75c" d="M69.79 15.96h5.285v5.628h-5.285z"/>
<path fill="#efde87" d="M74.78 15.96h5.285v5.628h-5.285zM159.5 79.89h5.285v5.628h-5.285zM154.5 85.22h5.285v5.628h-5.285zM134.6 186.5h5.285v5.628h-5.285z"/>
<path fill="#d6e5db" d="M114.7 15.96h10.27v5.628h-10.27zM109.7 26.61h5.285v5.628h-5.285zM109.7 42.6h5.285v5.628h-5.285zM109.7 47.92h5.285v5.628h-5.285zM119.6 53.25h10.27v5.628h-10.27zM109.7 138.5h5.285v5.628h-5.285zM69.79 159.8h5.285v5.628h-5.285zM49.85 165.1h5.285v5.628h-5.285zM64.81 165.1h5.285v5.628h-5.285zM74.78 165.1h5.285v5.628h-5.285zM99.7 170.5h10.27v5.628h-10.27zM109.7 175.8h5.285v5.628h-5.285zM99.7 181.1h10.27v5.628h-10.27zM104.7 186.5h10.27v5.628h-10.27zM99.7 191.8h5.285v5.628h-5.285zM109.7 197.1h5.285v5.628h-5.285z"/>
<path fill="#e2cb63" d="M164.5 15.96h20.24v5.628h-20.24zM144.6 47.92h5.285v5.628h-5.285z"/>
<path fill="#edda7f" d="M209.4 15.96h5.285v5.628h-5.285zM189.4 21.28h5.285v5.628h-5.285zM134.6 26.61h5.285v5.628h-5.285zM189.4 26.61h5.285v5.628h-5.285zM209.4 37.27h5.285v5.628h-5.285z"/>
<path fill="#ead778" d="M64.81 21.28h10.27v5.628h-10.27zM179.5 21.28h5.285v5.628h-5.285z"/>
<path fill="#cde0d8" d="M109.7 21.28h5.285v5.628h-5.285zM104.7 26.61h5.285v5.628h-5.285zM119.6 26.61h5.285v5.628h-5.285zM119.6 42.6h5.285v5.628h-5.285zM119.6 47.92h10.27v5.628h-10.27zM134.6 53.25h5.285v5.628h-5.285zM54.84 159.8h5.285v5.628h-5.285zM64.81 159.8h5.285v5.628h-5.285zM129.6 159.8h5.285v5.628h-5.285zM24.93 181.1h5.285v5.628h-5.285zM99.7 186.5h5.285v5.628h-5.285zM104.7 191.8h5.285v5.628h-5.285z"/>
<path fill="#9ccbc7" d="M119.6 21.28h5.285v5.628h-5.285z"/>
<path fill="#ccb73e" d="M169.5 21.28h10.27v5.628h-10.27zM174.5 26.61h10.27v5.628h-10.27z"/>
<path fill="#d3bc47" d="M184.4 21.28h5.285v5.628h-5.285zM184.4 26.61h5.285v5.628h-5.285z"/>
<path fill="#96a21c" d="M169.5 26.61h5.285v5.628h-5.285zM169.5 31.94h5.285v5.628h-5.285z"/>
<path fill="#c5ddd5" d="M209.4 26.61h5.285v5.628h-5.285zM134.6 42.6h5.285v5.628h-5.285z"/>
<path fill="#91a01b" d="M179.5 31.94h5.285v5.628h-5.285z"/>
<path fill="#d6be4c" d="M184.4 31.94h5.285v5.628h-5.285zM164.5 37.27h5.285v5.628h-5.285z"/>
<path fill="#bdb030" d="M169.5 37.27h5.285v5.628h-5.285z"/>
<path fill="#5e8f1e" d="M174.5 37.27h5.285v5.628h-5.285z"/>
<path fill="#8c9f1b" d="M179.5 37.27h5.285v5.628h-5.285z"/>
<path fill="#acd2cc" d="M114.7 47.92h5.285v5.628h-5.285z"/>
<path fill="#dee9de" d="M134.6 47.92h5.285v5.628h-5.285zM109.7 53.25h5.285v5.628h-5.285zM134.6 74.56h5.285v5.628h-5.285zM114.7 138.5h5.285v5.628h-5.285zM59.82 149.2h5.285v5.628h-5.285zM114.7 149.2h5.285v5.628h-5.285zM129.6 149.2h5.285v5.628h-5.285zM34.9 154.5h10.27v5.628h-10.27zM99.7 154.5h5.285v5.628h-5.285zM109.7 154.5h5.285v5.628h-5.285zM44.87 159.8h10.27v5.628h-10.27zM79.76 159.8h5.285v5.628h-5.285zM104.7 159.8h5.285v5.628h-5.285zM134.6 159.8h5.285v5.628h-5.285zM59.82 165.1h5.285v5.628h-5.285zM69.79 165.1h5.285v5.628h-5.285zM54.84 170.5h5.285v5.628h-5.285zM114.7 170.5h5.285v5.628h-5.285zM29.91 181.1h5.285v5.628h-5.285zM104.7 202.4h5.285v5.628h-5.285z"/>
<path fill="#c9b539" d="M154.5 63.91h5.285v5.628h-5.285z"/>
<path fill="#bdd9d2" d="M109.7 143.8h5.285v5.628h-5.285zM44.87 154.5h10.27v5.628h-10.27z"/>
<path fill="#b4d6cf" d="M59.82 159.8h5.285v5.628h-5.285zM69.79 170.5h5.285v5.628h-5.285z"/>
</g>
<path d="M0.20 0L6.00 209.00M31.64 0L37.80 209.00M63.08 0L69.00 209.00M94.52 0L100.00 209.00M125.96 0L130.90 209.00M157.40 0L161.70 209.00M188.84 0L192.20 209.00M0 19.10L219.00 13.50M0 45.97L219.00 40.37M0 72.84L219.00 67.24M0 99.71L219.00 94.11M0 126.58L219.00 120.98M0 153.45L219.00 147.85M0 180.32L219.00 174.72M0 207.19L219.00 201.59" fill="none" stroke="#b0b0b0" stroke-width="1.12"/>
<path d="M218.5 131.1C218.3 131.6 217.8 132.9 217.1 133.9C216.4 134.9 215.3 136.5 214.2 137.1C213.1 137.7 211.8 137.8 210.6 137.5C209.4 137.2 208.1 136.2 207.1 135.4C206.2 134.6 205.1 133.5 204.9 132.5C204.6 131.5 205.2 130.7 205.6 129.6C206.0 128.5 207.0 127.3 207.1 126.1C207.2 124.9 206.3 123.7 206.4 122.5C206.5 121.3 207.2 119.9 207.8 118.9C208.4 117.9 209.4 117.3 210.1 116.3C210.8 115.4 211.5 114.3 211.8 113.2C212.1 112.1 212.3 110.5 212.1 109.6C211.9 108.6 211.2 107.7 210.6 107.5C210.1 107.3 209.3 107.9 208.8 108.6C208.3 109.3 208.3 111.1 207.8 111.8C207.3 112.5 206.4 113.1 205.9 112.9C205.4 112.7 204.8 111.4 204.9 110.4C205.0 109.4 206.5 108.1 206.6 106.8C206.7 105.5 206.1 103.9 205.6 102.5C205.1 101.1 204.3 99.6 203.5 98.2C202.7 96.8 201.3 95.2 200.6 93.9C200.0 92.6 199.6 91.7 199.6 90.4C199.6 89.1 200.2 88.0 200.6 86.1C201.0 84.2 201.5 81.8 202.1 78.9C202.7 76.0 203.5 72.2 204.2 68.9C204.9 65.6 205.8 61.9 206.4 58.9C207.0 55.9 207.3 53.1 207.8 51.1C208.3 49.1 208.6 48.0 209.2 46.8C209.8 45.6 211.3 44.8 211.6 43.9C211.9 43.0 211.6 42.0 211.1 41.4C210.6 40.8 209.8 40.1 208.8 40.1C207.8 40.1 206.5 40.9 204.9 41.4C203.3 41.9 201.1 42.0 199.2 42.9C197.3 43.8 195.3 45.1 193.5 46.8C191.7 48.5 190.3 50.5 188.5 53.2C186.7 55.9 184.6 59.6 182.8 63.2C181.0 66.8 179.1 70.5 177.8 74.6C176.5 78.6 176.0 83.0 174.9 87.5C173.7 92.0 172.3 97.6 170.9 101.8C169.5 106.1 168.0 110.3 166.6 113.0C165.3 115.7 163.9 116.6 162.8 118.2C161.7 119.8 160.5 120.8 159.9 122.5C159.2 124.2 159.4 126.3 158.9 128.2C158.4 130.1 158.0 132.0 157.1 133.9C156.2 135.8 154.8 138.1 153.5 139.6C152.2 141.1 150.2 142.1 149.2 143.2C148.3 144.3 147.8 144.9 147.8 146.1C147.8 147.3 148.7 148.9 149.2 150.4C149.7 151.9 150.2 153.7 150.6 155.4C151.0 157.1 151.5 158.7 151.4 160.4C151.3 162.1 149.5 164.3 149.9 165.4C150.2 166.5 152.2 166.1 153.5 166.8C154.8 167.5 156.5 168.4 157.8 169.6C159.1 170.8 160.3 172.2 161.4 173.9C162.5 175.6 163.3 177.5 164.2 179.6C165.2 181.8 166.3 184.4 167.1 186.8C167.9 189.2 168.5 191.5 168.9 193.9C169.3 196.3 169.3 198.5 169.5 201.1C169.7 203.7 169.8 208.1 169.9 209.5" fill="none" stroke="#808080" stroke-width="1.4" stroke-linejoin="round"/>
</g>
<rect x="0" y="0" width="219" height="209" fill="none" stroke="#000" stroke-width="1.1"/>
</g>
<text x="587.70" y="73.25" font-size="17.00" text-anchor="middle" textLength="59.0" lengthAdjust="spacingAndGlyphs">v [m/s]</text>
<text x="479.50" y="91.75" font-size="14.10" text-anchor="middle" textLength="53.0" lengthAdjust="spacingAndGlyphs">112.5°E</text>
<text x="485.50" y="328.75" font-size="14.10" text-anchor="middle" textLength="53.0" lengthAdjust="spacingAndGlyphs">112.5°E</text>
<text x="541.75" y="91.75" font-size="14.10" text-anchor="middle" textLength="40.0" lengthAdjust="spacingAndGlyphs">113°E</text>
<text x="547.75" y="328.75" font-size="14.10" text-anchor="middle" textLength="40.0" lengthAdjust="spacingAndGlyphs">113°E</text>
<text x="604.00" y="91.75" font-size="14.10" text-anchor="middle" textLength="53.0" lengthAdjust="spacingAndGlyphs">113.5°E</text>
<text x="609.50" y="328.75" font-size="14.10" text-anchor="middle" textLength="53.0" lengthAdjust="spacingAndGlyphs">113.5°E</text>
<text x="666.75" y="91.75" font-size="14.10" text-anchor="middle" textLength="40.0" lengthAdjust="spacingAndGlyphs">114°E</text>
<text x="670.50" y="328.75" font-size="14.10" text-anchor="middle" textLength="40.0" lengthAdjust="spacingAndGlyphs">114°E</text>
<text x="471.00" y="126.05" font-size="14.10" text-anchor="end" textLength="46.4" lengthAdjust="spacingAndGlyphs">21.6°S</text>
<text x="471.00" y="152.92" font-size="14.10" text-anchor="end" textLength="46.4" lengthAdjust="spacingAndGlyphs">21.8°S</text>
<text x="471.00" y="179.79" font-size="14.10" text-anchor="end" textLength="32.3" lengthAdjust="spacingAndGlyphs">22°S</text>
<text x="471.00" y="206.66" font-size="14.10" text-anchor="end" textLength="46.4" lengthAdjust="spacingAndGlyphs">22.2°S</text>
<text x="471.00" y="233.53" font-size="14.10" text-anchor="end" textLength="46.4" lengthAdjust="spacingAndGlyphs">22.4°S</text>
<text x="471.00" y="260.40" font-size="14.10" text-anchor="end" textLength="46.4" lengthAdjust="spacingAndGlyphs">22.6°S</text>
<text x="471.00" y="287.27" font-size="14.10" text-anchor="end" textLength="46.4" lengthAdjust="spacingAndGlyphs">22.8°S</text>
<text x="471.00" y="314.14" font-size="14.10" text-anchor="end" textLength="32.3" lengthAdjust="spacingAndGlyphs">23°S</text>
<rect x="711.55" y="182.5" width="2.1" height="49.0" fill="url(#g1)" stroke="#000" stroke-width="1.1"/>
<text x="724.20" y="187.55" font-size="14.10" text-anchor="start" textLength="6.5" lengthAdjust="spacingAndGlyphs">1</text>
<text x="724.20" y="212.55" font-size="14.10" text-anchor="start" textLength="7.6" lengthAdjust="spacingAndGlyphs">0</text>
<text x="724.20" y="236.55" font-size="14.10" text-anchor="start" textLength="17.3" lengthAdjust="spacingAndGlyphs">−1</text>
<path d="M714.20 182.50h4.7M714.20 207.50h4.7M714.20 231.50h4.7" stroke="#000" stroke-width="1.15" fill="none"/>
<g transform="translate(806.5 102.5)">
<g clip-path="url(#clip)">
<rect x="0" y="0" width="219" height="209" fill="#97b6e1"/>
<path d="M170 209 L170 200 L219 196 L219 209 Z" fill="#efefdb"/>
<rect x="214" y="131.5" width="6" height="80" fill="#efefdb"/>
<g transform="matrix(1 -0.0258 0.0235 1 0 0)" shape-rendering="crispEdges">
<rect x="1.5" y="4.5" width="212.9" height="203.3" fill="#f7f7f7"/>
<path fill="#f8f4f1" d="M0 4.5h5.285v6.428h-5.285zM74.78 15.96h5.285v5.628h-5.285zM189.4 21.28h5.285v5.628h-5.285zM69.79 31.94h10.27v5.628h-10.27zM139.6 47.92h5.285v5.628h-5.285zM0 85.22h10.27v5.628h-10.27zM0 90.55h15.26v5.628h-15.26zM0 95.88h10.27v5.628h-10.27zM0 101.2h10.27v5.628h-10.27zM0 106.5h5.285v5.628h-5.285zM0 111.9h5.285v5.628h-5.285zM14.96 111.9h5.285v5.628h-5.285zM29.91 111.9h5.285v5.628h-5.285zM64.81 111.9h5.285v5.628h-5.285zM0 117.2h5.285v5.628h-5.285zM14.96 117.2h30.21v5.628h-30.21zM59.82 117.2h10.27v5.628h-10.27zM144.6 117.2h5.285v5.628h-5.285zM154.5 117.2h5.285v5.628h-5.285zM9.97 122.5h10.27v5.628h-10.27zM24.93 122.5h10.27v5.628h-10.27zM49.85 122.5h10.27v5.628h-10.27zM74.78 122.5h5.285v5.628h-5.285zM29.91 127.8h5.285v5.628h-5.285zM84.75 133.2h5.285v5.628h-5.285zM139.6 133.2h5.285v5.628h-5.285zM84.75 138.5h5.285v5.628h-5.285zM99.7 154.5h5.285v5.628h-5.285zM129.6 154.5h5.285v5.628h-5.285zM109.7 159.8h5.285v5.628h-5.285zM119.6 159.8h5.285v5.628h-5.285z"/>
<path fill="#f7f5f4" d="M4.985 4.5h5.285v6.428h-5.285zM69.79 21.28h10.27v5.628h-10.27zM69.79 26.61h10.27v5.628h-10.27zM154.5 63.91h5.285v5.628h-5.285zM4.985 117.2h5.285v5.628h-5.285zM0 122.5h10.27v5.628h-10.27zM19.94 122.5h5.285v5.628h-5.285zM34.9 122.5h15.26v5.628h-15.26zM59.82 122.5h15.26v5.628h-15.26zM149.6 122.5h5.285v5.628h-5.285zM0 127.8h5.285v5.628h-5.285zM9.97 127.8h20.24v5.628h-20.24zM34.9 127.8h5.285v5.628h-5.285zM59.82 127.8h20.24v5.628h-20.24zM139.6 127.8h5.285v5.628h-5.285zM0 133.2h5.285v5.628h-5.285zM14.96 133.2h5.285v5.628h-5.285zM44.87 133.2h5.285v5.628h-5.285zM69.79 133.2h15.26v5.628h-15.26zM74.78 138.5h5.285v5.628h-5.285zM89.73 143.8h5.285v5.628h-5.285zM89.73 149.2h10.27v5.628h-10.27zM94.72 154.5h5.285v5.628h-5.285zM134.6 154.5h5.285v5.628h-5.285zM99.7 159.8h10.27v5.628h-10.27zM124.6 159.8h5.285v5.628h-5.285zM104.7 165.1h15.26v5.628h-15.26z"/>
<path fill="#f8f2ee" d="M9.97 4.5h5.285v6.428h-5.285zM0 10.63h10.27v5.628h-10.27zM69.79 15.96h5.285v5.628h-5.285zM174.5 15.96h5.285v5.628h-5.285zM79.76 21.28h5.285v5.628h-5.285zM79.76 26.61h5.285v5.628h-5.285zM134.6 26.61h5.285v5.628h-5.285zM79.76 31.94h5.285v5.628h-5.285zM74.78 37.27h5.285v5.628h-5.285zM0 79.89h10.27v5.628h-10.27zM9.97 85.22h5.285v5.628h-5.285zM9.97 95.88h5.285v5.628h-5.285zM9.97 101.2h15.26v5.628h-15.26zM4.985 106.5h20.24v5.628h-20.24zM49.85 106.5h5.285v5.628h-5.285zM69.79 106.5h5.285v5.628h-5.285zM4.985 111.9h10.27v5.628h-10.27zM19.94 111.9h10.27v5.628h-10.27zM34.9 111.9h30.21v5.628h-30.21zM69.79 111.9h10.27v5.628h-10.27zM149.6 111.9h10.27v5.628h-10.27zM9.97 117.2h5.285v5.628h-5.285zM44.87 117.2h15.26v5.628h-15.26zM69.79 117.2h15.26v5.628h-15.26zM149.6 117.2h5.285v5.628h-5.285zM79.76 122.5h5.285v5.628h-5.285zM79.76 127.8h5.285v5.628h-5.285zM89.73 138.5h5.285v5.628h-5.285zM139.6 138.5h5.285v5.628h-5.285zM99.7 149.2h5.285v5.628h-5.285zM134.6 149.2h5.285v5.628h-5.285zM104.7 154.5h5.285v5.628h-5.285zM124.6 154.5h5.285v5.628h-5.285zM114.7 159.8h5.285v5.628h-5.285z"/>
<path fill="#f8f0eb" d="M14.96 4.5h5.285v6.428h-5.285zM69.79 4.5h5.285v6.428h-5.285zM9.97 10.63h5.285v5.628h-5.285zM74.78 10.63h10.27v5.628h-10.27zM64.81 15.96h5.285v5.628h-5.285zM79.76 15.96h5.285v5.628h-5.285zM64.81 21.28h5.285v5.628h-5.285zM64.81 26.61h5.285v5.628h-5.285zM64.81 31.94h5.285v5.628h-5.285zM134.6 31.94h5.285v5.628h-5.285zM134.6 37.27h5.285v5.628h-5.285zM134.6 53.25h5.285v5.628h-5.285zM154.5 69.24h5.285v5.628h-5.285zM9.97 79.89h5.285v5.628h-5.285zM14.96 85.22h5.285v5.628h-5.285zM14.96 90.55h5.285v5.628h-5.285zM14.96 95.88h5.285v5.628h-5.285zM29.91 95.88h5.285v5.628h-5.285zM69.79 95.88h10.27v5.628h-10.27zM29.91 101.2h25.23v5.628h-25.23zM59.82 101.2h10.27v5.628h-10.27zM74.78 101.2h5.285v5.628h-5.285zM24.93 106.5h25.23v5.628h-25.23zM54.84 106.5h15.26v5.628h-15.26zM74.78 106.5h10.27v5.628h-10.27zM154.5 106.5h5.285v5.628h-5.285zM79.76 111.9h5.285v5.628h-5.285zM84.75 117.2h5.285v5.628h-5.285zM84.75 122.5h5.285v5.628h-5.285zM139.6 122.5h5.285v5.628h-5.285zM84.75 127.8h5.285v5.628h-5.285zM89.73 133.2h5.285v5.628h-5.285zM94.72 138.5h5.285v5.628h-5.285zM94.72 143.8h5.285v5.628h-5.285zM134.6 143.8h5.285v5.628h-5.285zM109.7 154.5h10.27v5.628h-10.27z"/>
<path fill="#f9eee8" d="M19.94 4.5h5.285v6.428h-5.285zM64.81 4.5h5.285v6.428h-5.285zM74.78 4.5h5.285v6.428h-5.285zM84.75 4.5h5.285v6.428h-5.285zM14.96 10.63h5.285v5.628h-5.285zM69.79 10.63h5.285v5.628h-5.285zM0 15.96h10.27v5.628h-10.27zM209.4 15.96h5.285v5.628h-5.285zM84.75 26.61h5.285v5.628h-5.285zM64.81 37.27h10.27v5.628h-10.27zM79.76 37.27h5.285v5.628h-5.285zM134.6 47.92h5.285v5.628h-5.285zM0 74.56h10.27v5.628h-10.27zM139.6 74.56h15.26v5.628h-15.26zM14.96 79.89h5.285v5.628h-5.285zM149.6 79.89h5.285v5.628h-5.285zM54.84 85.22h5.285v5.628h-5.285zM149.6 85.22h5.285v5.628h-5.285zM19.94 90.55h5.285v5.628h-5.285zM39.88 90.55h10.27v5.628h-10.27zM54.84 90.55h15.26v5.628h-15.26zM74.78 90.55h5.285v5.628h-5.285zM19.94 95.88h10.27v5.628h-10.27zM34.9 95.88h35.2v5.628h-35.2zM24.93 101.2h5.285v5.628h-5.285zM54.84 101.2h5.285v5.628h-5.285zM69.79 101.2h5.285v5.628h-5.285zM79.76 101.2h10.27v5.628h-10.27zM159.5 101.2h5.285v5.628h-5.285zM84.75 106.5h5.285v5.628h-5.285zM149.6 106.5h5.285v5.628h-5.285zM84.75 111.9h5.285v5.628h-5.285zM144.6 111.9h5.285v5.628h-5.285zM89.73 127.8h5.285v5.628h-5.285zM134.6 138.5h5.285v5.628h-5.285zM99.7 143.8h5.285v5.628h-5.285zM104.7 149.2h5.285v5.628h-5.285zM124.6 149.2h10.27v5.628h-10.27zM119.6 154.5h5.285v5.628h-5.285z"/>
<path fill="#faebe2" d="M24.93 4.5h30.21v6.428h-30.21zM89.73 4.5h10.27v6.428h-10.27zM24.93 10.63h5.285v5.628h-5.285zM39.88 10.63h5.285v5.628h-5.285zM54.84 10.63h10.27v5.628h-10.27zM89.73 10.63h5.285v5.628h-5.285zM19.94 15.96h5.285v5.628h-5.285zM54.84 15.96h5.285v5.628h-5.285zM14.96 21.28h5.285v5.628h-5.285zM59.82 21.28h5.285v5.628h-5.285zM0 26.61h15.26v5.628h-15.26zM59.82 26.61h5.285v5.628h-5.285zM0 31.94h10.27v5.628h-10.27zM0 37.27h5.285v5.628h-5.285zM84.75 37.27h5.285v5.628h-5.285zM64.81 42.6h5.285v5.628h-5.285zM79.76 42.6h5.285v5.628h-5.285zM69.79 47.92h15.26v5.628h-15.26zM0 53.25h5.285v5.628h-5.285zM0 58.58h5.285v5.628h-5.285zM129.6 58.58h5.285v5.628h-5.285zM0 63.91h20.24v5.628h-20.24zM69.79 63.91h5.285v5.628h-5.285zM79.76 63.91h5.285v5.628h-5.285zM129.6 63.91h5.285v5.628h-5.285zM9.97 69.24h10.27v5.628h-10.27zM59.82 69.24h5.285v5.628h-5.285zM69.79 69.24h10.27v5.628h-10.27zM139.6 69.24h5.285v5.628h-5.285zM19.94 74.56h5.285v5.628h-5.285zM29.91 74.56h5.285v5.628h-5.285zM39.88 74.56h5.285v5.628h-5.285zM49.85 74.56h35.2v5.628h-35.2zM134.6 74.56h5.285v5.628h-5.285zM19.94 79.89h15.26v5.628h-15.26zM39.88 79.89h10.27v5.628h-10.27zM59.82 79.89h5.285v5.628h-5.285zM74.78 79.89h10.27v5.628h-10.27zM144.6 79.89h5.285v5.628h-5.285zM34.9 85.22h5.285v5.628h-5.285zM79.76 85.22h10.27v5.628h-10.27zM84.75 90.55h5.285v5.628h-5.285zM149.6 90.55h5.285v5.628h-5.285zM149.6 101.2h5.285v5.628h-5.285zM89.73 106.5h5.285v5.628h-5.285zM144.6 106.5h5.285v5.628h-5.285zM89.73 111.9h5.285v5.628h-5.285zM94.72 127.8h5.285v5.628h-5.285zM134.6 133.2h5.285v5.628h-5.285zM99.7 138.5h5.285v5.628h-5.285z"/>
<path fill="#f9ece5" d="M54.84 4.5h10.27v6.428h-10.27zM79.76 4.5h5.285v6.428h-5.285zM99.7 4.5h5.285v6.428h-5.285zM19.94 10.63h5.285v5.628h-5.285zM64.81 10.63h5.285v5.628h-5.285zM84.75 10.63h5.285v5.628h-5.285zM164.5 10.63h5.285v5.628h-5.285zM9.97 15.96h10.27v5.628h-10.27zM59.82 15.96h5.285v5.628h-5.285zM84.75 15.96h5.285v5.628h-5.285zM0 21.28h15.26v5.628h-15.26zM84.75 21.28h5.285v5.628h-5.285zM179.5 21.28h10.27v5.628h-10.27zM59.82 31.94h5.285v5.628h-5.285zM84.75 31.94h5.285v5.628h-5.285zM69.79 42.6h10.27v5.628h-10.27zM134.6 42.6h5.285v5.628h-5.285zM0 69.24h10.27v5.628h-10.27zM134.6 69.24h5.285v5.628h-5.285zM9.97 74.56h10.27v5.628h-10.27zM154.5 74.56h5.285v5.628h-5.285zM34.9 79.89h5.285v5.628h-5.285zM49.85 79.89h10.27v5.628h-10.27zM64.81 79.89h10.27v5.628h-10.27zM19.94 85.22h15.26v5.628h-15.26zM39.88 85.22h15.26v5.628h-15.26zM59.82 85.22h20.24v5.628h-20.24zM24.93 90.55h15.26v5.628h-15.26zM49.85 90.55h5.285v5.628h-5.285zM69.79 90.55h5.285v5.628h-5.285zM79.76 90.55h5.285v5.628h-5.285zM79.76 95.88h10.27v5.628h-10.27zM159.5 95.88h5.285v5.628h-5.285zM154.5 101.2h5.285v5.628h-5.285zM89.73 117.2h5.285v5.628h-5.285zM139.6 117.2h5.285v5.628h-5.285zM89.73 122.5h5.285v5.628h-5.285zM94.72 133.2h5.285v5.628h-5.285zM104.7 143.8h5.285v5.628h-5.285zM129.6 143.8h5.285v5.628h-5.285zM109.7 149.2h15.26v5.628h-15.26z"/>
<path fill="#fcd8c3" d="M129.6 4.5h5.285v6.428h-5.285zM109.7 15.96h5.285v5.628h-5.285zM124.6 21.28h5.285v5.628h-5.285zM124.6 31.94h5.285v5.628h-5.285zM109.7 85.22h10.27v5.628h-10.27zM109.7 90.55h10.27v5.628h-10.27z"/>
<path fill="#fce2d3" d="M134.6 4.5h5.285v6.428h-5.285zM209.4 21.28h5.285v5.628h-5.285zM34.9 26.61h5.285v5.628h-5.285zM94.72 26.61h5.285v5.628h-5.285zM34.9 31.94h5.285v5.628h-5.285zM94.72 31.94h5.285v5.628h-5.285zM29.91 37.27h10.27v5.628h-10.27zM94.72 37.27h5.285v5.628h-5.285zM94.72 47.92h5.285v5.628h-5.285zM99.7 53.25h5.285v5.628h-5.285zM124.6 53.25h5.285v5.628h-5.285zM99.7 58.58h5.285v5.628h-5.285zM99.7 63.91h5.285v5.628h-5.285zM99.7 69.24h5.285v5.628h-5.285zM104.7 74.56h5.285v5.628h-5.285zM99.7 85.22h5.285v5.628h-5.285zM159.5 85.22h5.285v5.628h-5.285zM124.6 95.88h10.27v5.628h-10.27zM104.7 101.2h5.285v5.628h-5.285zM134.6 111.9h5.285v5.628h-5.285zM104.7 122.5h5.285v5.628h-5.285zM124.6 127.8h5.285v5.628h-5.285zM109.7 133.2h10.27v5.628h-10.27zM124.6 133.2h5.285v5.628h-5.285z"/>
<path fill="#fae9df" d="M164.5 4.5h15.26v6.428h-15.26zM29.91 10.63h10.27v5.628h-10.27zM44.87 10.63h10.27v5.628h-10.27zM94.72 10.63h5.285v5.628h-5.285zM134.6 10.63h5.285v5.628h-5.285zM169.5 10.63h5.285v5.628h-5.285zM179.5 10.63h5.285v5.628h-5.285zM24.93 15.96h10.27v5.628h-10.27zM39.88 15.96h15.26v5.628h-15.26zM89.73 15.96h5.285v5.628h-5.285zM179.5 15.96h10.27v5.628h-10.27zM19.94 21.28h5.285v5.628h-5.285zM49.85 21.28h10.27v5.628h-10.27zM89.73 21.28h5.285v5.628h-5.285zM14.96 26.61h10.27v5.628h-10.27zM54.84 26.61h5.285v5.628h-5.285zM9.97 31.94h5.285v5.628h-5.285zM19.94 31.94h5.285v5.628h-5.285zM54.84 31.94h5.285v5.628h-5.285zM4.985 37.27h5.285v5.628h-5.285zM59.82 37.27h5.285v5.628h-5.285zM0 42.6h15.26v5.628h-15.26zM54.84 42.6h10.27v5.628h-10.27zM84.75 42.6h5.285v5.628h-5.285zM0 47.92h10.27v5.628h-10.27zM54.84 47.92h15.26v5.628h-15.26zM4.985 53.25h10.27v5.628h-10.27zM59.82 53.25h20.24v5.628h-20.24zM129.6 53.25h5.285v5.628h-5.285zM4.985 58.58h15.26v5.628h-15.26zM59.82 58.58h25.23v5.628h-25.23zM19.94 63.91h10.27v5.628h-10.27zM44.87 63.91h5.285v5.628h-5.285zM54.84 63.91h15.26v5.628h-15.26zM74.78 63.91h5.285v5.628h-5.285zM84.75 63.91h5.285v5.628h-5.285zM19.94 69.24h15.26v5.628h-15.26zM39.88 69.24h20.24v5.628h-20.24zM64.81 69.24h5.285v5.628h-5.285zM79.76 69.24h5.285v5.628h-5.285zM129.6 69.24h5.285v5.628h-5.285zM24.93 74.56h5.285v5.628h-5.285zM34.9 74.56h5.285v5.628h-5.285zM44.87 74.56h5.285v5.628h-5.285zM84.75 74.56h5.285v5.628h-5.285zM84.75 79.89h5.285v5.628h-5.285zM134.6 79.89h5.285v5.628h-5.285zM154.5 79.89h5.285v5.628h-5.285zM144.6 85.22h5.285v5.628h-5.285zM89.73 90.55h5.285v5.628h-5.285zM144.6 90.55h5.285v5.628h-5.285zM89.73 95.88h5.285v5.628h-5.285zM149.6 95.88h10.27v5.628h-10.27zM89.73 101.2h5.285v5.628h-5.285zM144.6 101.2h5.285v5.628h-5.285zM94.72 106.5h5.285v5.628h-5.285zM139.6 111.9h5.285v5.628h-5.285zM94.72 117.2h5.285v5.628h-5.285zM94.72 122.5h5.285v5.628h-5.285zM134.6 122.5h5.285v5.628h-5.285zM134.6 127.8h5.285v5.628h-5.285zM99.7 133.2h5.285v5.628h-5.285zM104.7 138.5h5.285v5.628h-5.285zM129.6 138.5h5.285v5.628h-5.285zM109.7 143.8h5.285v5.628h-5.285zM124.6 143.8h5.285v5.628h-5.285z"/>
<path fill="#fae7dc" d="M99.7 10.63h5.285v5.628h-5.285zM34.9 15.96h5.285v5.628h-5.285zM94.72 15.96h5.285v5.628h-5.285zM24.93 21.28h5.285v5.628h-5.285zM39.88 21.28h10.27v5.628h-10.27zM24.93 26.61h5.285v5.628h-5.285zM44.87 26.61h10.27v5.628h-10.27zM89.73 26.61h5.285v5.628h-5.285zM14.96 31.94h5.285v5.628h-5.285zM44.87 31.94h10.27v5.628h-10.27zM89.73 31.94h5.285v5.628h-5.285zM9.97 37.27h15.26v5.628h-15.26zM49.85 37.27h10.27v5.628h-10.27zM89.73 37.27h5.285v5.628h-5.285zM14.96 42.6h5.285v5.628h-5.285zM49.85 42.6h5.285v5.628h-5.285zM89.73 42.6h5.285v5.628h-5.285zM9.97 47.92h10.27v5.628h-10.27zM44.87 47.92h10.27v5.628h-10.27zM84.75 47.92h5.285v5.628h-5.285zM129.6 47.92h5.285v5.628h-5.285zM14.96 53.25h15.26v5.628h-15.26zM44.87 53.25h15.26v5.628h-15.26zM79.76 53.25h5.285v5.628h-5.285zM19.94 58.58h15.26v5.628h-15.26zM39.88 58.58h20.24v5.628h-20.24zM84.75 58.58h5.285v5.628h-5.285zM29.91 63.91h15.26v5.628h-15.26zM49.85 63.91h5.285v5.628h-5.285zM89.73 63.91h5.285v5.628h-5.285zM34.9 69.24h5.285v5.628h-5.285zM84.75 69.24h10.27v5.628h-10.27zM89.73 74.56h5.285v5.628h-5.285zM129.6 74.56h5.285v5.628h-5.285zM89.73 79.89h5.285v5.628h-5.285zM129.6 79.89h5.285v5.628h-5.285zM139.6 79.89h5.285v5.628h-5.285zM89.73 85.22h5.285v5.628h-5.285zM139.6 85.22h5.285v5.628h-5.285zM154.5 85.22h5.285v5.628h-5.285zM94.72 90.55h5.285v5.628h-5.285zM134.6 90.55h10.27v5.628h-10.27zM154.5 90.55h10.27v5.628h-10.27zM94.72 95.88h5.285v5.628h-5.285zM144.6 95.88h5.285v5.628h-5.285zM94.72 101.2h5.285v5.628h-5.285zM139.6 106.5h5.285v5.628h-5.285zM94.72 111.9h5.285v5.628h-5.285zM99.7 127.8h5.285v5.628h-5.285zM114.7 143.8h10.27v5.628h-10.27z"/>
<path fill="#fbe6d9" d="M114.7 10.63h5.285v5.628h-5.285zM174.5 10.63h5.285v5.628h-5.285zM129.6 15.96h5.285v5.628h-5.285zM29.91 21.28h10.27v5.628h-10.27zM39.88 26.61h5.285v5.628h-5.285zM24.93 31.94h5.285v5.628h-5.285zM24.93 37.27h5.285v5.628h-5.285zM44.87 37.27h5.285v5.628h-5.285zM129.6 37.27h5.285v5.628h-5.285zM19.94 42.6h10.27v5.628h-10.27zM44.87 42.6h5.285v5.628h-5.285zM129.6 42.6h5.285v5.628h-5.285zM19.94 47.92h25.23v5.628h-25.23zM89.73 47.92h5.285v5.628h-5.285zM29.91 53.25h15.26v5.628h-15.26zM84.75 53.25h10.27v5.628h-10.27zM34.9 58.58h5.285v5.628h-5.285zM89.73 58.58h5.285v5.628h-5.285zM94.72 79.89h5.285v5.628h-5.285zM94.72 85.22h5.285v5.628h-5.285zM129.6 85.22h10.27v5.628h-10.27zM134.6 95.88h10.27v5.628h-10.27zM139.6 101.2h5.285v5.628h-5.285zM99.7 111.9h5.285v5.628h-5.285zM134.6 117.2h5.285v5.628h-5.285zM99.7 122.5h5.285v5.628h-5.285zM129.6 127.8h5.285v5.628h-5.285zM104.7 133.2h5.285v5.628h-5.285zM129.6 133.2h5.285v5.628h-5.285zM109.7 138.5h10.27v5.628h-10.27zM124.6 138.5h5.285v5.628h-5.285z"/>
<path fill="#fbe4d6" d="M119.6 10.63h5.285v5.628h-5.285zM99.7 15.96h5.285v5.628h-5.285zM94.72 21.28h5.285v5.628h-5.285zM129.6 21.28h5.285v5.628h-5.285zM29.91 26.61h5.285v5.628h-5.285zM129.6 26.61h5.285v5.628h-5.285zM29.91 31.94h5.285v5.628h-5.285zM39.88 31.94h5.285v5.628h-5.285zM129.6 31.94h5.285v5.628h-5.285zM39.88 37.27h5.285v5.628h-5.285zM29.91 42.6h15.26v5.628h-15.26zM94.72 42.6h5.285v5.628h-5.285zM94.72 53.25h5.285v5.628h-5.285zM94.72 58.58h5.285v5.628h-5.285zM124.6 58.58h5.285v5.628h-5.285zM94.72 63.91h5.285v5.628h-5.285zM124.6 63.91h5.285v5.628h-5.285zM94.72 69.24h5.285v5.628h-5.285zM124.6 69.24h5.285v5.628h-5.285zM94.72 74.56h10.27v5.628h-10.27zM124.6 74.56h5.285v5.628h-5.285zM99.7 79.89h5.285v5.628h-5.285zM124.6 79.89h5.285v5.628h-5.285zM159.5 79.89h5.285v5.628h-5.285zM124.6 85.22h5.285v5.628h-5.285zM99.7 90.55h5.285v5.628h-5.285zM129.6 90.55h5.285v5.628h-5.285zM99.7 95.88h5.285v5.628h-5.285zM99.7 101.2h5.285v5.628h-5.285zM99.7 106.5h5.285v5.628h-5.285zM99.7 117.2h5.285v5.628h-5.285zM129.6 122.5h5.285v5.628h-5.285zM104.7 127.8h5.285v5.628h-5.285zM119.6 138.5h5.285v5.628h-5.285z"/>
<path fill="#fcdecd" d="M104.7 15.96h5.285v5.628h-5.285zM99.7 42.6h5.285v5.628h-5.285zM124.6 42.6h5.285v5.628h-5.285zM104.7 47.92h5.285v5.628h-5.285zM104.7 53.25h10.27v5.628h-10.27zM109.7 58.58h10.27v5.628h-10.27zM109.7 63.91h15.26v5.628h-15.26zM104.7 69.24h10.27v5.628h-10.27zM109.7 74.56h5.285v5.628h-5.285zM114.7 79.89h10.27v5.628h-10.27zM119.6 85.22h5.285v5.628h-5.285zM104.7 90.55h5.285v5.628h-5.285zM119.6 95.88h5.285v5.628h-5.285zM119.6 101.2h15.26v5.628h-15.26zM129.6 111.9h5.285v5.628h-5.285zM124.6 117.2h5.285v5.628h-5.285zM109.7 122.5h5.285v5.628h-5.285zM119.6 122.5h5.285v5.628h-5.285zM109.7 127.8h15.26v5.628h-15.26z"/>
<path fill="#fbd1ba" d="M114.7 15.96h10.27v5.628h-10.27zM104.7 37.27h5.285v5.628h-5.285zM119.6 37.27h5.285v5.628h-5.285z"/>
<path fill="#fdddca" d="M124.6 15.96h5.285v5.628h-5.285zM99.7 26.61h5.285v5.628h-5.285zM99.7 37.27h5.285v5.628h-5.285zM114.7 53.25h10.27v5.628h-10.27zM109.7 79.89h5.285v5.628h-5.285zM119.6 90.55h5.285v5.628h-5.285zM109.7 95.88h5.285v5.628h-5.285zM109.7 101.2h10.27v5.628h-10.27zM109.7 106.5h25.23v5.628h-25.23zM109.7 111.9h10.27v5.628h-10.27zM124.6 111.9h5.285v5.628h-5.285zM109.7 117.2h5.285v5.628h-5.285zM119.6 117.2h5.285v5.628h-5.285zM114.7 122.5h5.285v5.628h-5.285z"/>
<path fill="#dfecf3" d="M164.5 15.96h10.27v5.628h-10.27zM209.4 69.24h5.285v5.628h-5.285z"/>
<path fill="#fce0d0" d="M99.7 21.28h5.285v5.628h-5.285zM99.7 47.92h5.285v5.628h-5.285zM124.6 47.92h5.285v5.628h-5.285zM104.7 58.58h5.285v5.628h-5.285zM119.6 58.58h5.285v5.628h-5.285zM104.7 63.91h5.285v5.628h-5.285zM114.7 69.24h10.27v5.628h-10.27zM114.7 74.56h10.27v5.628h-10.27zM104.7 79.89h5.285v5.628h-5.285zM104.7 85.22h5.285v5.628h-5.285zM124.6 90.55h5.285v5.628h-5.285zM104.7 95.88h5.285v5.628h-5.285zM134.6 101.2h5.285v5.628h-5.285zM104.7 106.5h5.285v5.628h-5.285zM134.6 106.5h5.285v5.628h-5.285zM104.7 111.9h5.285v5.628h-5.285zM104.7 117.2h5.285v5.628h-5.285zM129.6 117.2h5.285v5.628h-5.285zM124.6 122.5h5.285v5.628h-5.285zM119.6 133.2h5.285v5.628h-5.285z"/>
<path fill="#fcd4be" d="M104.7 21.28h5.285v5.628h-5.285zM124.6 26.61h5.285v5.628h-5.285zM109.7 42.6h15.26v5.628h-15.26z"/>
<path fill="#facab1" d="M109.7 21.28h5.285v5.628h-5.285zM119.6 21.28h5.285v5.628h-5.285zM104.7 26.61h5.285v5.628h-5.285zM104.7 31.94h5.285v5.628h-5.285zM119.6 31.94h5.285v5.628h-5.285zM114.7 37.27h5.285v5.628h-5.285z"/>
<path fill="#f9c3a9" d="M114.7 21.28h5.285v5.628h-5.285zM109.7 26.61h5.285v5.628h-5.285zM119.6 26.61h5.285v5.628h-5.285zM109.7 31.94h10.27v5.628h-10.27z"/>
<path fill="#d1e5f0" d="M164.5 21.28h10.27v5.628h-10.27z"/>
<path fill="#f8c0a4" d="M114.7 26.61h5.285v5.628h-5.285z"/>
<path fill="#a6cfe4" d="M169.5 26.61h5.285v5.628h-5.285zM169.5 37.27h5.285v5.628h-5.285z"/>
<path fill="#ebf1f5" d="M174.5 26.61h5.285v5.628h-5.285zM184.4 31.94h5.285v5.628h-5.285zM144.6 47.92h5.285v5.628h-5.285zM129.6 175.8h5.285v5.628h-5.285zM144.6 181.1h5.285v5.628h-5.285zM69.79 186.5h10.27v5.628h-10.27zM79.76 191.8h5.285v5.628h-5.285z"/>
<path fill="#f8bda0" d="M209.4 26.61h5.285v5.628h-5.285z"/>
<path fill="#fddbc7" d="M99.7 31.94h5.285v5.628h-5.285zM124.6 37.27h5.285v5.628h-5.285zM104.7 42.6h5.285v5.628h-5.285zM109.7 47.92h15.26v5.628h-15.26zM114.7 95.88h5.285v5.628h-5.285zM119.6 111.9h5.285v5.628h-5.285zM114.7 117.2h5.285v5.628h-5.285z"/>
<path fill="#f0f4f6" d="M139.6 31.94h5.285v5.628h-5.285zM44.87 159.8h10.27v5.628h-10.27zM134.6 159.8h10.27v5.628h-10.27zM29.91 165.1h5.285v5.628h-5.285zM39.88 165.1h20.24v5.628h-20.24zM129.6 165.1h5.285v5.628h-5.285zM29.91 170.5h10.27v5.628h-10.27zM44.87 170.5h5.285v5.628h-5.285zM54.84 170.5h5.285v5.628h-5.285zM64.81 170.5h15.26v5.628h-15.26zM14.96 175.8h5.285v5.628h-5.285zM34.9 175.8h45.16v5.628h-45.16zM84.75 175.8h5.285v5.628h-5.285zM124.6 175.8h5.285v5.628h-5.285zM9.97 181.1h5.285v5.628h-5.285zM24.93 181.1h5.285v5.628h-5.285zM39.88 181.1h40.18v5.628h-40.18zM84.75 181.1h15.26v5.628h-15.26zM119.6 181.1h5.285v5.628h-5.285zM149.6 181.1h5.285v5.628h-5.285zM19.94 186.5h5.285v5.628h-5.285zM34.9 186.5h10.27v5.628h-10.27zM49.85 186.5h15.26v5.628h-15.26zM94.72 186.5h5.285v5.628h-5.285zM119.6 186.5h10.27v5.628h-10.27zM134.6 186.5h5.285v5.628h-5.285zM149.6 186.5h5.285v5.628h-5.285zM29.91 191.8h15.26v5.628h-15.26zM54.84 191.8h10.27v5.628h-10.27zM109.7 191.8h5.285v5.628h-5.285zM134.6 191.8h15.26v5.628h-15.26zM34.9 197.1h10.27v5.628h-10.27zM54.84 197.1h10.27v5.628h-10.27zM89.73 197.1h5.285v5.628h-5.285zM99.7 197.1h10.27v5.628h-10.27zM34.9 202.4h5.285v5.628h-5.285zM44.87 202.4h5.285v5.628h-5.285zM54.84 202.4h25.23v5.628h-25.23zM84.75 202.4h10.27v5.628h-10.27zM99.7 202.4h5.285v5.628h-5.285z"/>
<path fill="#e9f0f4" d="M144.6 31.94h5.285v5.628h-5.285zM144.6 133.2h5.285v5.628h-5.285zM134.6 165.1h5.285v5.628h-5.285zM144.6 175.8h5.285v5.628h-5.285zM134.6 181.1h10.27v5.628h-10.27z"/>
<path fill="#9ecbe1" d="M169.5 31.94h5.285v5.628h-5.285z"/>
<path fill="#d8e8f1" d="M179.5 31.94h5.285v5.628h-5.285z"/>
<path fill="#fbceb6" d="M109.7 37.27h5.285v5.628h-5.285z"/>
<path fill="#f5f6f7" d="M139.6 37.27h5.285v5.628h-5.285zM14.96 138.5h10.27v5.628h-10.27zM29.91 138.5h35.2v5.628h-35.2zM0 143.8h5.285v5.628h-5.285zM9.97 143.8h25.23v5.628h-25.23zM39.88 143.8h5.285v5.628h-5.285zM49.85 143.8h30.21v5.628h-30.21zM0 149.2h25.23v5.628h-25.23zM29.91 149.2h5.285v5.628h-5.285zM49.85 149.2h10.27v5.628h-10.27zM64.81 149.2h5.285v5.628h-5.285zM74.78 149.2h10.27v5.628h-10.27zM4.985 154.5h5.285v5.628h-5.285zM14.96 154.5h15.26v5.628h-15.26zM64.81 154.5h5.285v5.628h-5.285zM79.76 154.5h15.26v5.628h-15.26zM0 159.8h10.27v5.628h-10.27zM129.6 159.8h5.285v5.628h-5.285zM4.985 165.1h15.26v5.628h-15.26zM89.73 165.1h5.285v5.628h-5.285zM124.6 165.1h5.285v5.628h-5.285zM4.985 170.5h5.285v5.628h-5.285zM94.72 170.5h15.26v5.628h-15.26zM114.7 170.5h10.27v5.628h-10.27zM99.7 175.8h5.285v5.628h-5.285zM114.7 175.8h10.27v5.628h-10.27zM0 181.1h5.285v5.628h-5.285zM109.7 181.1h5.285v5.628h-5.285zM0 191.8h5.285v5.628h-5.285zM144.6 197.1h5.285v5.628h-5.285zM0 202.4h5.285v5.628h-5.285zM14.96 202.4h5.285v5.628h-5.285zM24.93 202.4h5.285v5.628h-5.285zM119.6 202.4h5.285v5.628h-5.285zM149.6 202.4h5.285v5.628h-5.285z"/>
<path fill="#b1d5e7" d="M164.5 37.27h5.285v5.628h-5.285zM174.5 37.27h5.285v5.628h-5.285z"/>
<path fill="#bddbea" d="M179.5 37.27h5.285v5.628h-5.285z"/>
<path fill="#ee9878" d="M209.4 37.27h5.285v5.628h-5.285z"/>
<path fill="#e4eef4" d="M149.6 47.92h5.285v5.628h-5.285zM144.6 127.8h5.285v5.628h-5.285zM134.6 170.5h5.285v5.628h-5.285zM134.6 175.8h10.27v5.628h-10.27z"/>
<path fill="#eef2f5" d="M144.6 53.25h5.285v5.628h-5.285zM144.6 58.58h5.285v5.628h-5.285zM144.6 122.5h5.285v5.628h-5.285zM129.6 170.5h5.285v5.628h-5.285zM149.6 175.8h5.285v5.628h-5.285zM79.76 181.1h5.285v5.628h-5.285zM129.6 181.1h5.285v5.628h-5.285zM44.87 186.5h5.285v5.628h-5.285zM64.81 186.5h5.285v5.628h-5.285zM79.76 186.5h15.26v5.628h-15.26zM129.6 186.5h5.285v5.628h-5.285zM139.6 186.5h10.27v5.628h-10.27zM49.85 191.8h5.285v5.628h-5.285zM64.81 191.8h15.26v5.628h-15.26zM84.75 191.8h20.24v5.628h-20.24zM64.81 197.1h25.23v5.628h-25.23zM94.72 197.1h5.285v5.628h-5.285zM79.76 202.4h5.285v5.628h-5.285z"/>
<path fill="#f2f5f6" d="M149.6 63.91h5.285v5.628h-5.285zM34.9 143.8h5.285v5.628h-5.285zM44.87 143.8h5.285v5.628h-5.285zM24.93 149.2h5.285v5.628h-5.285zM34.9 149.2h15.26v5.628h-15.26zM59.82 149.2h5.285v5.628h-5.285zM69.79 149.2h5.285v5.628h-5.285zM0 154.5h5.285v5.628h-5.285zM9.97 154.5h5.285v5.628h-5.285zM29.91 154.5h35.2v5.628h-35.2zM69.79 154.5h10.27v5.628h-10.27zM9.97 159.8h35.2v5.628h-35.2zM54.84 159.8h35.2v5.628h-35.2zM0 165.1h5.285v5.628h-5.285zM19.94 165.1h10.27v5.628h-10.27zM34.9 165.1h5.285v5.628h-5.285zM59.82 165.1h30.21v5.628h-30.21zM0 170.5h5.285v5.628h-5.285zM9.97 170.5h20.24v5.628h-20.24zM39.88 170.5h5.285v5.628h-5.285zM49.85 170.5h5.285v5.628h-5.285zM59.82 170.5h5.285v5.628h-5.285zM79.76 170.5h15.26v5.628h-15.26zM124.6 170.5h5.285v5.628h-5.285zM0 175.8h15.26v5.628h-15.26zM19.94 175.8h15.26v5.628h-15.26zM79.76 175.8h5.285v5.628h-5.285zM89.73 175.8h10.27v5.628h-10.27zM104.7 175.8h10.27v5.628h-10.27zM4.985 181.1h5.285v5.628h-5.285zM14.96 181.1h10.27v5.628h-10.27zM29.91 181.1h10.27v5.628h-10.27zM99.7 181.1h10.27v5.628h-10.27zM114.7 181.1h5.285v5.628h-5.285zM124.6 181.1h5.285v5.628h-5.285zM0 186.5h20.24v5.628h-20.24zM24.93 186.5h10.27v5.628h-10.27zM99.7 186.5h20.24v5.628h-20.24zM4.985 191.8h25.23v5.628h-25.23zM44.87 191.8h5.285v5.628h-5.285zM104.7 191.8h5.285v5.628h-5.285zM114.7 191.8h20.24v5.628h-20.24zM149.6 191.8h10.27v5.628h-10.27zM0 197.1h35.2v5.628h-35.2zM44.87 197.1h10.27v5.628h-10.27zM109.7 197.1h35.2v5.628h-35.2zM149.6 197.1h10.27v5.628h-10.27zM4.985 202.4h10.27v5.628h-10.27zM19.94 202.4h5.285v5.628h-5.285zM29.91 202.4h5.285v5.628h-5.285zM39.88 202.4h5.285v5.628h-5.285zM49.85 202.4h5.285v5.628h-5.285zM94.72 202.4h5.285v5.628h-5.285zM104.7 202.4h15.26v5.628h-15.26zM124.6 202.4h25.23v5.628h-25.23zM154.5 202.4h5.285v5.628h-5.285z"/>
<path fill="#f7b99c" d="M164.5 85.22h5.285v5.628h-5.285z"/>
<path fill="#e2edf3" d="M139.6 170.5h5.285v5.628h-5.285z"/>
</g>
<path d="M0.20 0L6.00 209.00M31.64 0L37.80 209.00M63.08 0L69.00 209.00M94.52 0L100.00 209.00M125.96 0L130.90 209.00M157.40 0L161.70 209.00M188.84 0L192.20 209.00M0 19.10L219.00 13.50M0 45.97L219.00 40.37M0 72.84L219.00 67.24M0 99.71L219.00 94.11M0 126.58L219.00 120.98M0 153.45L219.00 147.85M0 180.32L219.00 174.72M0 207.19L219.00 201.59" fill="none" stroke="#b0b0b0" stroke-width="1.12"/>
<path d="M218.5 131.1C218.3 131.6 217.8 132.9 217.1 133.9C216.4 134.9 215.3 136.5 214.2 137.1C213.1 137.7 211.8 137.8 210.6 137.5C209.4 137.2 208.1 136.2 207.1 135.4C206.2 134.6 205.1 133.5 204.9 132.5C204.6 131.5 205.2 130.7 205.6 129.6C206.0 128.5 207.0 127.3 207.1 126.1C207.2 124.9 206.3 123.7 206.4 122.5C206.5 121.3 207.2 119.9 207.8 118.9C208.4 117.9 209.4 117.3 210.1 116.3C210.8 115.4 211.5 114.3 211.8 113.2C212.1 112.1 212.3 110.5 212.1 109.6C211.9 108.6 211.2 107.7 210.6 107.5C210.1 107.3 209.3 107.9 208.8 108.6C208.3 109.3 208.3 111.1 207.8 111.8C207.3 112.5 206.4 113.1 205.9 112.9C205.4 112.7 204.8 111.4 204.9 110.4C205.0 109.4 206.5 108.1 206.6 106.8C206.7 105.5 206.1 103.9 205.6 102.5C205.1 101.1 204.3 99.6 203.5 98.2C202.7 96.8 201.3 95.2 200.6 93.9C200.0 92.6 199.6 91.7 199.6 90.4C199.6 89.1 200.2 88.0 200.6 86.1C201.0 84.2 201.5 81.8 202.1 78.9C202.7 76.0 203.5 72.2 204.2 68.9C204.9 65.6 205.8 61.9 206.4 58.9C207.0 55.9 207.3 53.1 207.8 51.1C208.3 49.1 208.6 48.0 209.2 46.8C209.8 45.6 211.3 44.8 211.6 43.9C211.9 43.0 211.6 42.0 211.1 41.4C210.6 40.8 209.8 40.1 208.8 40.1C207.8 40.1 206.5 40.9 204.9 41.4C203.3 41.9 201.1 42.0 199.2 42.9C197.3 43.8 195.3 45.1 193.5 46.8C191.7 48.5 190.3 50.5 188.5 53.2C186.7 55.9 184.6 59.6 182.8 63.2C181.0 66.8 179.1 70.5 177.8 74.6C176.5 78.6 176.0 83.0 174.9 87.5C173.7 92.0 172.3 97.6 170.9 101.8C169.5 106.1 168.0 110.3 166.6 113.0C165.3 115.7 163.9 116.6 162.8 118.2C161.7 119.8 160.5 120.8 159.9 122.5C159.2 124.2 159.4 126.3 158.9 128.2C158.4 130.1 158.0 132.0 157.1 133.9C156.2 135.8 154.8 138.1 153.5 139.6C152.2 141.1 150.2 142.1 149.2 143.2C148.3 144.3 147.8 144.9 147.8 146.1C147.8 147.3 148.7 148.9 149.2 150.4C149.7 151.9 150.2 153.7 150.6 155.4C151.0 157.1 151.5 158.7 151.4 160.4C151.3 162.1 149.5 164.3 149.9 165.4C150.2 166.5 152.2 166.1 153.5 166.8C154.8 167.5 156.5 168.4 157.8 169.6C159.1 170.8 160.3 172.2 161.4 173.9C162.5 175.6 163.3 177.5 164.2 179.6C165.2 181.8 166.3 184.4 167.1 186.8C167.9 189.2 168.5 191.5 168.9 193.9C169.3 196.3 169.3 198.5 169.5 201.1C169.7 203.7 169.8 208.1 169.9 209.5" fill="none" stroke="#808080" stroke-width="1.4" stroke-linejoin="round"/>
</g>
<rect x="0" y="0" width="219" height="209" fill="none" stroke="#000" stroke-width="1.1"/>
</g>
<text x="874.65" y="71.15" font-size="17.00" text-anchor="start" textLength="55.5" lengthAdjust="spacingAndGlyphs">q [K hr </text>
<text x="936.40" y="64.95" font-size="11.90" text-anchor="start" textLength="15.8" lengthAdjust="spacingAndGlyphs">−1</text>
<text x="953.65" y="71.15" font-size="17.00" text-anchor="start" textLength="4.5" lengthAdjust="spacingAndGlyphs">]</text>
<text x="807.50" y="91.75" font-size="14.10" text-anchor="middle" textLength="53.0" lengthAdjust="spacingAndGlyphs">112.5°E</text>
<text x="813.50" y="328.75" font-size="14.10" text-anchor="middle" textLength="53.0" lengthAdjust="spacingAndGlyphs">112.5°E</text>
<text x="869.75" y="91.75" font-size="14.10" text-anchor="middle" textLength="40.0" lengthAdjust="spacingAndGlyphs">113°E</text>
<text x="875.75" y="328.75" font-size="14.10" text-anchor="middle" textLength="40.0" lengthAdjust="spacingAndGlyphs">113°E</text>
<text x="932.00" y="91.75" font-size="14.10" text-anchor="middle" textLength="53.0" lengthAdjust="spacingAndGlyphs">113.5°E</text>
<text x="937.50" y="328.75" font-size="14.10" text-anchor="middle" textLength="53.0" lengthAdjust="spacingAndGlyphs">113.5°E</text>
<text x="994.75" y="91.75" font-size="14.10" text-anchor="middle" textLength="40.0" lengthAdjust="spacingAndGlyphs">114°E</text>
<text x="998.50" y="328.75" font-size="14.10" text-anchor="middle" textLength="40.0" lengthAdjust="spacingAndGlyphs">114°E</text>
<text x="799.00" y="126.05" font-size="14.10" text-anchor="end" textLength="46.4" lengthAdjust="spacingAndGlyphs">21.6°S</text>
<text x="799.00" y="152.92" font-size="14.10" text-anchor="end" textLength="46.4" lengthAdjust="spacingAndGlyphs">21.8°S</text>
<text x="799.00" y="179.79" font-size="14.10" text-anchor="end" textLength="32.3" lengthAdjust="spacingAndGlyphs">22°S</text>
<text x="799.00" y="206.66" font-size="14.10" text-anchor="end" textLength="46.4" lengthAdjust="spacingAndGlyphs">22.2°S</text>
<text x="799.00" y="233.53" font-size="14.10" text-anchor="end" textLength="46.4" lengthAdjust="spacingAndGlyphs">22.4°S</text>
<text x="799.00" y="260.40" font-size="14.10" text-anchor="end" textLength="46.4" lengthAdjust="spacingAndGlyphs">22.6°S</text>
<text x="799.00" y="287.27" font-size="14.10" text-anchor="end" textLength="46.4" lengthAdjust="spacingAndGlyphs">22.8°S</text>
<text x="799.00" y="314.14" font-size="14.10" text-anchor="end" textLength="32.3" lengthAdjust="spacingAndGlyphs">23°S</text>
<rect x="1039.55" y="182.5" width="2.1" height="49.0" fill="url(#g2)" stroke="#000" stroke-width="1.1"/>
<text x="1052.20" y="196.55" font-size="14.10" text-anchor="start" textLength="28.4" lengthAdjust="spacingAndGlyphs">0.25</text>
<text x="1052.20" y="212.55" font-size="14.10" text-anchor="start" textLength="28.4" lengthAdjust="spacingAndGlyphs">0.00</text>
<text x="1052.20" y="227.55" font-size="14.10" text-anchor="start" textLength="39.8" lengthAdjust="spacingAndGlyphs">−0.25</text>
<path d="M1042.20 191.50h4.7M1042.20 207.50h4.7M1042.20 222.50h4.7" stroke="#000" stroke-width="1.15" fill="none"/>
<g transform="translate(150.5 396.5)">
<g clip-path="url(#clip)">
<rect x="0" y="0" width="219" height="209" fill="#97b6e1"/>
<path d="M170 209 L170 200 L219 196 L219 209 Z" fill="#efefdb"/>
<rect x="214" y="131.5" width="6" height="80" fill="#efefdb"/>
<g transform="matrix(1 -0.0258 0.0235 1 0 0)" shape-rendering="crispEdges">
<rect x="1.5" y="4.5" width="212.9" height="203.3" fill="#eef7ab"/>
<path fill="#caab53" d="M0 4.5h5.285v6.428h-5.285zM24.93 4.5h5.285v6.428h-5.285zM64.81 4.5h5.285v6.428h-5.285zM89.73 4.5h5.285v6.428h-5.285zM99.7 4.5h5.285v6.428h-5.285zM39.88 10.63h5.285v5.628h-5.285zM69.79 10.63h5.285v5.628h-5.285zM84.75 10.63h5.285v5.628h-5.285zM99.7 10.63h5.285v5.628h-5.285zM114.7 10.63h5.285v5.628h-5.285zM134.6 10.63h5.285v5.628h-5.285zM164.5 10.63h5.285v5.628h-5.285zM4.985 15.96h5.285v5.628h-5.285zM39.88 15.96h15.26v5.628h-15.26zM59.82 15.96h5.285v5.628h-5.285zM69.79 15.96h10.27v5.628h-10.27zM0 21.28h5.285v5.628h-5.285zM9.97 21.28h5.285v5.628h-5.285zM34.9 21.28h5.285v5.628h-5.285zM44.87 21.28h10.27v5.628h-10.27zM69.79 21.28h5.285v5.628h-5.285zM84.75 21.28h5.285v5.628h-5.285zM94.72 21.28h5.285v5.628h-5.285zM169.5 21.28h10.27v5.628h-10.27zM0 26.61h5.285v5.628h-5.285zM14.96 26.61h5.285v5.628h-5.285zM39.88 26.61h5.285v5.628h-5.285zM49.85 26.61h10.27v5.628h-10.27zM119.6 26.61h10.27v5.628h-10.27zM169.5 26.61h15.26v5.628h-15.26zM4.985 31.94h5.285v5.628h-5.285zM29.91 31.94h5.285v5.628h-5.285zM49.85 31.94h5.285v5.628h-5.285zM69.79 31.94h10.27v5.628h-10.27zM94.72 31.94h10.27v5.628h-10.27zM109.7 31.94h5.285v5.628h-5.285zM179.5 31.94h5.285v5.628h-5.285zM19.94 37.27h10.27v5.628h-10.27zM39.88 37.27h5.285v5.628h-5.285zM64.81 37.27h15.26v5.628h-15.26zM104.7 37.27h5.285v5.628h-5.285zM119.6 37.27h5.285v5.628h-5.285zM134.6 37.27h5.285v5.628h-5.285zM174.5 37.27h5.285v5.628h-5.285zM9.97 42.6h5.285v5.628h-5.285zM19.94 42.6h10.27v5.628h-10.27zM69.79 42.6h5.285v5.628h-5.285zM89.73 42.6h10.27v5.628h-10.27zM129.6 42.6h5.285v5.628h-5.285zM0 47.92h5.285v5.628h-5.285zM14.96 47.92h10.27v5.628h-10.27zM34.9 47.92h5.285v5.628h-5.285zM89.73 47.92h10.27v5.628h-10.27zM109.7 47.92h5.285v5.628h-5.285zM139.6 47.92h10.27v5.628h-10.27zM14.96 53.25h5.285v5.628h-5.285zM64.81 53.25h5.285v5.628h-5.285zM119.6 53.25h10.27v5.628h-10.27zM139.6 53.25h5.285v5.628h-5.285zM0 58.58h10.27v5.628h-10.27zM44.87 58.58h5.285v5.628h-5.285zM109.7 58.58h10.27v5.628h-10.27zM19.94 63.91h5.285v5.628h-5.285zM39.88 63.91h5.285v5.628h-5.285zM49.85 63.91h10.27v5.628h-10.27zM69.79 63.91h5.285v5.628h-5.285zM79.76 63.91h5.285v5.628h-5.285zM89.73 63.91h5.285v5.628h-5.285zM109.7 63.91h5.285v5.628h-5.285zM119.6 63.91h10.27v5.628h-10.27zM154.5 63.91h5.285v5.628h-5.285zM9.97 69.24h5.285v5.628h-5.285zM54.84 69.24h5.285v5.628h-5.285zM89.73 69.24h5.285v5.628h-5.285zM119.6 69.24h5.285v5.628h-5.285zM44.87 74.56h5.285v5.628h-5.285zM59.82 74.56h5.285v5.628h-5.285zM79.76 74.56h5.285v5.628h-5.285zM109.7 74.56h5.285v5.628h-5.285zM0 79.89h5.285v5.628h-5.285zM9.97 79.89h5.285v5.628h-5.285zM94.72 79.89h10.27v5.628h-10.27zM129.6 79.89h5.285v5.628h-5.285zM4.985 85.22h5.285v5.628h-5.285zM39.88 85.22h5.285v5.628h-5.285zM74.78 85.22h10.27v5.628h-10.27zM94.72 85.22h5.285v5.628h-5.285zM104.7 85.22h5.285v5.628h-5.285zM129.6 85.22h10.27v5.628h-10.27zM144.6 85.22h5.285v5.628h-5.285zM0 90.55h10.27v5.628h-10.27zM14.96 90.55h10.27v5.628h-10.27zM29.91 90.55h10.27v5.628h-10.27zM49.85 90.55h5.285v5.628h-5.285zM79.76 90.55h5.285v5.628h-5.285zM129.6 90.55h5.285v5.628h-5.285zM0 95.88h5.285v5.628h-5.285zM9.97 95.88h5.285v5.628h-5.285zM29.91 95.88h5.285v5.628h-5.285zM59.82 95.88h5.285v5.628h-5.285zM69.79 95.88h5.285v5.628h-5.285zM124.6 95.88h5.285v5.628h-5.285zM134.6 95.88h10.27v5.628h-10.27zM0 101.2h5.285v5.628h-5.285zM24.93 101.2h5.285v5.628h-5.285zM34.9 101.2h5.285v5.628h-5.285zM139.6 101.2h5.285v5.628h-5.285zM154.5 101.2h5.285v5.628h-5.285zM0 106.5h5.285v5.628h-5.285zM24.93 106.5h10.27v5.628h-10.27zM44.87 106.5h5.285v5.628h-5.285zM54.84 106.5h5.285v5.628h-5.285zM64.81 106.5h5.285v5.628h-5.285zM79.76 106.5h5.285v5.628h-5.285zM129.6 106.5h15.26v5.628h-15.26zM29.91 111.9h5.285v5.628h-5.285zM74.78 111.9h5.285v5.628h-5.285zM139.6 111.9h5.285v5.628h-5.285zM154.5 111.9h5.285v5.628h-5.285zM9.97 117.2h5.285v5.628h-5.285zM0 122.5h5.285v5.628h-5.285zM29.91 122.5h10.27v5.628h-10.27zM44.87 122.5h5.285v5.628h-5.285zM64.81 122.5h5.285v5.628h-5.285zM149.6 122.5h5.285v5.628h-5.285zM24.93 127.8h5.285v5.628h-5.285zM59.82 127.8h5.285v5.628h-5.285zM0 133.2h5.285v5.628h-5.285zM49.85 133.2h5.285v5.628h-5.285zM59.82 133.2h10.27v5.628h-10.27zM4.985 138.5h5.285v5.628h-5.285zM14.96 138.5h5.285v5.628h-5.285zM24.93 138.5h5.285v5.628h-5.285zM39.88 138.5h5.285v5.628h-5.285zM34.9 143.8h5.285v5.628h-5.285zM0 149.2h5.285v5.628h-5.285zM0 154.5h5.285v5.628h-5.285zM129.6 186.5h10.27v5.628h-10.27zM144.6 186.5h5.285v5.628h-5.285zM39.88 191.8h5.285v5.628h-5.285zM129.6 191.8h5.285v5.628h-5.285zM134.6 197.1h5.285v5.628h-5.285zM84.75 202.4h5.285v5.628h-5.285zM109.7 202.4h5.285v5.628h-5.285zM134.6 202.4h10.27v5.628h-10.27zM154.5 202.4h5.285v5.628h-5.285z"/>
<path fill="#c9aa52" d="M4.985 4.5h5.285v6.428h-5.285zM14.96 4.5h5.285v6.428h-5.285zM74.78 4.5h5.285v6.428h-5.285zM129.6 4.5h5.285v6.428h-5.285zM174.5 4.5h5.285v6.428h-5.285zM0 10.63h10.27v5.628h-10.27zM14.96 10.63h10.27v5.628h-10.27zM34.9 10.63h5.285v5.628h-5.285zM49.85 10.63h20.24v5.628h-20.24zM79.76 10.63h5.285v5.628h-5.285zM179.5 10.63h5.285v5.628h-5.285zM0 15.96h5.285v5.628h-5.285zM9.97 15.96h5.285v5.628h-5.285zM54.84 15.96h5.285v5.628h-5.285zM94.72 15.96h5.285v5.628h-5.285zM104.7 15.96h5.285v5.628h-5.285zM114.7 15.96h15.26v5.628h-15.26zM164.5 15.96h20.24v5.628h-20.24zM14.96 21.28h10.27v5.628h-10.27zM29.91 21.28h5.285v5.628h-5.285zM64.81 21.28h5.285v5.628h-5.285zM119.6 21.28h15.26v5.628h-15.26zM184.4 21.28h10.27v5.628h-10.27zM209.4 21.28h5.285v5.628h-5.285zM4.985 26.61h5.285v5.628h-5.285zM19.94 26.61h20.24v5.628h-20.24zM64.81 26.61h10.27v5.628h-10.27zM84.75 26.61h10.27v5.628h-10.27zM184.4 26.61h10.27v5.628h-10.27zM9.97 31.94h10.27v5.628h-10.27zM24.93 31.94h5.285v5.628h-5.285zM54.84 31.94h10.27v5.628h-10.27zM79.76 31.94h5.285v5.628h-5.285zM104.7 31.94h5.285v5.628h-5.285zM139.6 31.94h5.285v5.628h-5.285zM169.5 31.94h5.285v5.628h-5.285zM0 37.27h5.285v5.628h-5.285zM9.97 37.27h10.27v5.628h-10.27zM54.84 37.27h5.285v5.628h-5.285zM89.73 37.27h5.285v5.628h-5.285zM109.7 37.27h5.285v5.628h-5.285zM129.6 37.27h5.285v5.628h-5.285zM139.6 37.27h5.285v5.628h-5.285zM34.9 42.6h5.285v5.628h-5.285zM49.85 42.6h20.24v5.628h-20.24zM84.75 42.6h5.285v5.628h-5.285zM114.7 42.6h5.285v5.628h-5.285zM134.6 42.6h10.27v5.628h-10.27zM4.985 47.92h5.285v5.628h-5.285zM24.93 47.92h5.285v5.628h-5.285zM59.82 47.92h25.23v5.628h-25.23zM114.7 47.92h5.285v5.628h-5.285zM129.6 47.92h5.285v5.628h-5.285zM44.87 53.25h15.26v5.628h-15.26zM79.76 53.25h5.285v5.628h-5.285zM89.73 53.25h10.27v5.628h-10.27zM24.93 58.58h15.26v5.628h-15.26zM64.81 58.58h5.285v5.628h-5.285zM79.76 58.58h5.285v5.628h-5.285zM119.6 58.58h10.27v5.628h-10.27zM0 63.91h5.285v5.628h-5.285zM34.9 63.91h5.285v5.628h-5.285zM59.82 63.91h10.27v5.628h-10.27zM114.7 63.91h5.285v5.628h-5.285zM4.985 69.24h5.285v5.628h-5.285zM24.93 69.24h5.285v5.628h-5.285zM59.82 69.24h10.27v5.628h-10.27zM74.78 69.24h5.285v5.628h-5.285zM104.7 69.24h5.285v5.628h-5.285zM134.6 69.24h5.285v5.628h-5.285zM4.985 74.56h10.27v5.628h-10.27zM34.9 74.56h5.285v5.628h-5.285zM49.85 74.56h10.27v5.628h-10.27zM99.7 74.56h10.27v5.628h-10.27zM119.6 74.56h10.27v5.628h-10.27zM154.5 74.56h5.285v5.628h-5.285zM19.94 79.89h10.27v5.628h-10.27zM79.76 79.89h10.27v5.628h-10.27zM119.6 79.89h5.285v5.628h-5.285zM149.6 79.89h10.27v5.628h-10.27zM0 85.22h5.285v5.628h-5.285zM14.96 85.22h5.285v5.628h-5.285zM69.79 85.22h5.285v5.628h-5.285zM84.75 85.22h5.285v5.628h-5.285zM109.7 85.22h5.285v5.628h-5.285zM119.6 85.22h5.285v5.628h-5.285zM39.88 90.55h5.285v5.628h-5.285zM59.82 90.55h10.27v5.628h-10.27zM94.72 90.55h5.285v5.628h-5.285zM124.6 90.55h5.285v5.628h-5.285zM4.985 95.88h5.285v5.628h-5.285zM14.96 95.88h5.285v5.628h-5.285zM49.85 95.88h5.285v5.628h-5.285zM79.76 95.88h10.27v5.628h-10.27zM129.6 95.88h5.285v5.628h-5.285zM4.985 101.2h10.27v5.628h-10.27zM19.94 101.2h5.285v5.628h-5.285zM49.85 101.2h15.26v5.628h-15.26zM69.79 101.2h5.285v5.628h-5.285zM134.6 101.2h5.285v5.628h-5.285zM159.5 101.2h5.285v5.628h-5.285zM4.985 106.5h10.27v5.628h-10.27zM49.85 106.5h5.285v5.628h-5.285zM59.82 106.5h5.285v5.628h-5.285zM69.79 106.5h5.285v5.628h-5.285zM154.5 106.5h5.285v5.628h-5.285zM0 111.9h5.285v5.628h-5.285zM19.94 111.9h10.27v5.628h-10.27zM44.87 111.9h5.285v5.628h-5.285zM129.6 111.9h5.285v5.628h-5.285zM4.985 117.2h5.285v5.628h-5.285zM29.91 117.2h10.27v5.628h-10.27zM154.5 117.2h5.285v5.628h-5.285zM9.97 122.5h5.285v5.628h-5.285zM39.88 122.5h5.285v5.628h-5.285zM0 127.8h5.285v5.628h-5.285zM34.9 127.8h5.285v5.628h-5.285zM4.985 133.2h5.285v5.628h-5.285zM139.6 191.8h5.285v5.628h-5.285z"/>
<path fill="#caac54" d="M9.97 4.5h5.285v6.428h-5.285zM19.94 4.5h5.285v6.428h-5.285zM34.9 4.5h5.285v6.428h-5.285zM54.84 4.5h5.285v6.428h-5.285zM134.6 4.5h5.285v6.428h-5.285zM9.97 10.63h5.285v5.628h-5.285zM174.5 10.63h5.285v5.628h-5.285zM19.94 15.96h5.285v5.628h-5.285zM4.985 21.28h5.285v5.628h-5.285zM89.73 21.28h5.285v5.628h-5.285zM164.5 21.28h5.285v5.628h-5.285zM79.76 26.61h5.285v5.628h-5.285zM94.72 26.61h5.285v5.628h-5.285zM104.7 26.61h5.285v5.628h-5.285zM114.7 26.61h5.285v5.628h-5.285zM129.6 26.61h5.285v5.628h-5.285zM19.94 31.94h5.285v5.628h-5.285zM134.6 31.94h5.285v5.628h-5.285zM169.5 37.27h5.285v5.628h-5.285zM124.6 42.6h5.285v5.628h-5.285zM9.97 47.92h5.285v5.628h-5.285zM44.87 47.92h15.26v5.628h-15.26zM124.6 47.92h5.285v5.628h-5.285zM9.97 53.25h5.285v5.628h-5.285zM34.9 53.25h5.285v5.628h-5.285zM69.79 53.25h5.285v5.628h-5.285zM84.75 53.25h5.285v5.628h-5.285zM129.6 53.25h5.285v5.628h-5.285zM59.82 58.58h5.285v5.628h-5.285zM69.79 58.58h5.285v5.628h-5.285zM94.72 58.58h5.285v5.628h-5.285zM29.91 63.91h5.285v5.628h-5.285zM44.87 69.24h5.285v5.628h-5.285zM154.5 69.24h5.285v5.628h-5.285zM209.4 69.24h5.285v5.628h-5.285zM19.94 74.56h5.285v5.628h-5.285zM114.7 74.56h5.285v5.628h-5.285zM139.6 74.56h5.285v5.628h-5.285zM14.96 79.89h5.285v5.628h-5.285zM39.88 79.89h5.285v5.628h-5.285zM54.84 79.89h10.27v5.628h-10.27zM89.73 79.89h5.285v5.628h-5.285zM109.7 79.89h10.27v5.628h-10.27zM134.6 79.89h15.26v5.628h-15.26zM49.85 85.22h5.285v5.628h-5.285zM89.73 85.22h5.285v5.628h-5.285zM114.7 85.22h5.285v5.628h-5.285zM124.6 85.22h5.285v5.628h-5.285zM154.5 85.22h5.285v5.628h-5.285zM9.97 90.55h5.285v5.628h-5.285zM44.87 90.55h5.285v5.628h-5.285zM54.84 90.55h5.285v5.628h-5.285zM74.78 90.55h5.285v5.628h-5.285zM89.73 90.55h5.285v5.628h-5.285zM99.7 90.55h5.285v5.628h-5.285zM109.7 90.55h5.285v5.628h-5.285zM119.6 90.55h5.285v5.628h-5.285zM134.6 90.55h5.285v5.628h-5.285zM154.5 90.55h5.285v5.628h-5.285zM19.94 95.88h10.27v5.628h-10.27zM54.84 95.88h5.285v5.628h-5.285zM64.81 95.88h5.285v5.628h-5.285zM74.78 95.88h5.285v5.628h-5.285zM89.73 95.88h5.285v5.628h-5.285zM144.6 95.88h5.285v5.628h-5.285zM14.96 101.2h5.285v5.628h-5.285zM29.91 101.2h5.285v5.628h-5.285zM39.88 101.2h5.285v5.628h-5.285zM64.81 101.2h5.285v5.628h-5.285zM89.73 101.2h5.285v5.628h-5.285zM124.6 101.2h10.27v5.628h-10.27zM149.6 101.2h5.285v5.628h-5.285zM14.96 106.5h10.27v5.628h-10.27zM74.78 106.5h5.285v5.628h-5.285zM149.6 106.5h5.285v5.628h-5.285zM4.985 111.9h10.27v5.628h-10.27zM69.79 111.9h5.285v5.628h-5.285zM79.76 111.9h10.27v5.628h-10.27zM134.6 111.9h5.285v5.628h-5.285zM0 117.2h5.285v5.628h-5.285zM14.96 117.2h5.285v5.628h-5.285zM24.93 117.2h5.285v5.628h-5.285zM69.79 117.2h10.27v5.628h-10.27zM149.6 117.2h5.285v5.628h-5.285zM14.96 122.5h10.27v5.628h-10.27zM69.79 122.5h5.285v5.628h-5.285zM84.75 122.5h5.285v5.628h-5.285zM139.6 122.5h5.285v5.628h-5.285zM4.985 127.8h5.285v5.628h-5.285zM19.94 127.8h5.285v5.628h-5.285zM49.85 127.8h5.285v5.628h-5.285zM84.75 127.8h5.285v5.628h-5.285zM39.88 133.2h5.285v5.628h-5.285zM54.84 133.2h5.285v5.628h-5.285zM9.97 138.5h5.285v5.628h-5.285zM89.73 138.5h5.285v5.628h-5.285zM109.7 138.5h5.285v5.628h-5.285zM119.6 138.5h5.285v5.628h-5.285zM0 143.8h5.285v5.628h-5.285zM19.94 143.8h10.27v5.628h-10.27zM39.88 143.8h5.285v5.628h-5.285zM54.84 143.8h10.27v5.628h-10.27zM114.7 143.8h5.285v5.628h-5.285zM124.6 143.8h5.285v5.628h-5.285zM4.985 149.2h10.27v5.628h-10.27zM34.9 149.2h10.27v5.628h-10.27zM4.985 154.5h5.285v5.628h-5.285zM24.93 154.5h5.285v5.628h-5.285zM34.9 154.5h5.285v5.628h-5.285zM44.87 154.5h5.285v5.628h-5.285zM4.985 159.8h5.285v5.628h-5.285zM44.87 159.8h5.285v5.628h-5.285zM149.6 175.8h5.285v5.628h-5.285zM139.6 181.1h5.285v5.628h-5.285zM139.6 186.5h5.285v5.628h-5.285zM149.6 186.5h5.285v5.628h-5.285zM34.9 191.8h5.285v5.628h-5.285zM44.87 191.8h5.285v5.628h-5.285zM104.7 191.8h5.285v5.628h-5.285zM154.5 191.8h5.285v5.628h-5.285zM34.9 197.1h10.27v5.628h-10.27zM84.75 197.1h5.285v5.628h-5.285zM124.6 197.1h5.285v5.628h-5.285zM34.9 202.4h20.24v5.628h-20.24zM74.78 202.4h5.285v5.628h-5.285zM129.6 202.4h5.285v5.628h-5.285z"/>
<path fill="#c8a952" d="M29.91 4.5h5.285v6.428h-5.285zM69.79 4.5h5.285v6.428h-5.285zM79.76 4.5h10.27v6.428h-10.27zM94.72 4.5h5.285v6.428h-5.285zM164.5 4.5h10.27v6.428h-10.27zM29.91 10.63h5.285v5.628h-5.285zM74.78 10.63h5.285v5.628h-5.285zM89.73 10.63h10.27v5.628h-10.27zM119.6 10.63h5.285v5.628h-5.285zM169.5 10.63h5.285v5.628h-5.285zM14.96 15.96h5.285v5.628h-5.285zM24.93 15.96h10.27v5.628h-10.27zM79.76 15.96h15.26v5.628h-15.26zM99.7 15.96h5.285v5.628h-5.285zM129.6 15.96h5.285v5.628h-5.285zM209.4 15.96h5.285v5.628h-5.285zM24.93 21.28h5.285v5.628h-5.285zM39.88 21.28h5.285v5.628h-5.285zM54.84 21.28h10.27v5.628h-10.27zM99.7 21.28h15.26v5.628h-15.26zM179.5 21.28h5.285v5.628h-5.285zM9.97 26.61h5.285v5.628h-5.285zM59.82 26.61h5.285v5.628h-5.285zM99.7 26.61h5.285v5.628h-5.285zM109.7 26.61h5.285v5.628h-5.285zM39.88 31.94h10.27v5.628h-10.27zM84.75 31.94h5.285v5.628h-5.285zM114.7 31.94h5.285v5.628h-5.285zM129.6 31.94h5.285v5.628h-5.285zM184.4 31.94h5.285v5.628h-5.285zM4.985 37.27h5.285v5.628h-5.285zM34.9 37.27h5.285v5.628h-5.285zM44.87 37.27h10.27v5.628h-10.27zM59.82 37.27h5.285v5.628h-5.285zM79.76 37.27h10.27v5.628h-10.27zM94.72 37.27h5.285v5.628h-5.285zM114.7 37.27h5.285v5.628h-5.285zM124.6 37.27h5.285v5.628h-5.285zM209.4 37.27h5.285v5.628h-5.285zM0 42.6h10.27v5.628h-10.27zM29.91 42.6h5.285v5.628h-5.285zM39.88 42.6h10.27v5.628h-10.27zM74.78 42.6h5.285v5.628h-5.285zM109.7 42.6h5.285v5.628h-5.285zM29.91 47.92h5.285v5.628h-5.285zM119.6 47.92h5.285v5.628h-5.285zM134.6 47.92h5.285v5.628h-5.285zM149.6 47.92h5.285v5.628h-5.285zM0 53.25h5.285v5.628h-5.285zM19.94 53.25h15.26v5.628h-15.26zM59.82 53.25h5.285v5.628h-5.285zM74.78 53.25h5.285v5.628h-5.285zM114.7 53.25h5.285v5.628h-5.285zM144.6 53.25h5.285v5.628h-5.285zM14.96 58.58h10.27v5.628h-10.27zM49.85 58.58h5.285v5.628h-5.285zM74.78 58.58h5.285v5.628h-5.285zM89.73 58.58h5.285v5.628h-5.285zM129.6 58.58h5.285v5.628h-5.285zM144.6 58.58h5.285v5.628h-5.285zM9.97 63.91h10.27v5.628h-10.27zM24.93 63.91h5.285v5.628h-5.285zM44.87 63.91h5.285v5.628h-5.285zM74.78 63.91h5.285v5.628h-5.285zM84.75 63.91h5.285v5.628h-5.285zM94.72 63.91h5.285v5.628h-5.285zM129.6 63.91h5.285v5.628h-5.285zM149.6 63.91h5.285v5.628h-5.285zM0 69.24h5.285v5.628h-5.285zM14.96 69.24h10.27v5.628h-10.27zM34.9 69.24h10.27v5.628h-10.27zM49.85 69.24h5.285v5.628h-5.285zM79.76 69.24h10.27v5.628h-10.27zM94.72 69.24h5.285v5.628h-5.285zM109.7 69.24h10.27v5.628h-10.27zM124.6 69.24h10.27v5.628h-10.27zM0 74.56h5.285v5.628h-5.285zM14.96 74.56h5.285v5.628h-5.285zM24.93 74.56h5.285v5.628h-5.285zM39.88 74.56h5.285v5.628h-5.285zM69.79 74.56h10.27v5.628h-10.27zM89.73 74.56h10.27v5.628h-10.27zM129.6 74.56h10.27v5.628h-10.27zM144.6 74.56h10.27v5.628h-10.27zM4.985 79.89h5.285v5.628h-5.285zM34.9 79.89h5.285v5.628h-5.285zM44.87 79.89h10.27v5.628h-10.27zM64.81 79.89h15.26v5.628h-15.26zM104.7 79.89h5.285v5.628h-5.285zM124.6 79.89h5.285v5.628h-5.285zM24.93 85.22h5.285v5.628h-5.285zM34.9 85.22h5.285v5.628h-5.285zM44.87 85.22h5.285v5.628h-5.285zM54.84 85.22h15.26v5.628h-15.26zM99.7 85.22h5.285v5.628h-5.285zM139.6 85.22h5.285v5.628h-5.285zM149.6 85.22h5.285v5.628h-5.285zM24.93 90.55h5.285v5.628h-5.285zM69.79 90.55h5.285v5.628h-5.285zM84.75 90.55h5.285v5.628h-5.285zM144.6 90.55h10.27v5.628h-10.27zM34.9 95.88h15.26v5.628h-15.26zM149.6 95.88h10.27v5.628h-10.27zM44.87 101.2h5.285v5.628h-5.285zM74.78 101.2h5.285v5.628h-5.285zM34.9 106.5h5.285v5.628h-5.285zM14.96 111.9h5.285v5.628h-5.285zM19.94 117.2h5.285v5.628h-5.285z"/>
<path fill="#cbad55" d="M39.88 4.5h5.285v6.428h-5.285zM99.7 37.27h5.285v5.628h-5.285zM109.7 53.25h5.285v5.628h-5.285zM104.7 63.91h5.285v5.628h-5.285zM104.7 90.55h5.285v5.628h-5.285zM94.72 95.88h5.285v5.628h-5.285zM119.6 95.88h5.285v5.628h-5.285zM159.5 95.88h5.285v5.628h-5.285zM79.76 101.2h10.27v5.628h-10.27zM144.6 101.2h5.285v5.628h-5.285zM39.88 106.5h5.285v5.628h-5.285zM84.75 106.5h5.285v5.628h-5.285zM34.9 111.9h10.27v5.628h-10.27zM64.81 111.9h5.285v5.628h-5.285zM39.88 117.2h10.27v5.628h-10.27zM124.6 117.2h20.24v5.628h-20.24zM4.985 122.5h5.285v5.628h-5.285zM24.93 122.5h5.285v5.628h-5.285zM49.85 122.5h5.285v5.628h-5.285zM59.82 122.5h5.285v5.628h-5.285zM144.6 122.5h5.285v5.628h-5.285zM9.97 127.8h10.27v5.628h-10.27zM89.73 127.8h5.285v5.628h-5.285zM124.6 127.8h5.285v5.628h-5.285zM9.97 133.2h5.285v5.628h-5.285zM19.94 133.2h15.26v5.628h-15.26zM44.87 133.2h5.285v5.628h-5.285zM94.72 133.2h5.285v5.628h-5.285zM144.6 133.2h5.285v5.628h-5.285zM0 138.5h5.285v5.628h-5.285zM19.94 138.5h5.285v5.628h-5.285zM49.85 138.5h10.27v5.628h-10.27zM4.985 143.8h5.285v5.628h-5.285zM29.91 143.8h5.285v5.628h-5.285zM14.96 149.2h5.285v5.628h-5.285zM24.93 149.2h5.285v5.628h-5.285zM64.81 149.2h5.285v5.628h-5.285zM119.6 149.2h5.285v5.628h-5.285zM39.88 154.5h5.285v5.628h-5.285zM54.84 154.5h5.285v5.628h-5.285zM69.79 154.5h5.285v5.628h-5.285zM84.75 154.5h5.285v5.628h-5.285zM119.6 154.5h5.285v5.628h-5.285zM0 159.8h5.285v5.628h-5.285zM24.93 159.8h5.285v5.628h-5.285zM64.81 159.8h5.285v5.628h-5.285zM79.76 159.8h10.27v5.628h-10.27zM4.985 165.1h5.285v5.628h-5.285zM49.85 165.1h5.285v5.628h-5.285zM74.78 165.1h10.27v5.628h-10.27zM49.85 170.5h5.285v5.628h-5.285zM74.78 170.5h5.285v5.628h-5.285zM49.85 175.8h5.285v5.628h-5.285zM129.6 175.8h5.285v5.628h-5.285zM0 181.1h5.285v5.628h-5.285zM79.76 181.1h5.285v5.628h-5.285zM0 186.5h5.285v5.628h-5.285zM39.88 186.5h10.27v5.628h-10.27zM69.79 186.5h10.27v5.628h-10.27zM104.7 186.5h5.285v5.628h-5.285zM64.81 191.8h5.285v5.628h-5.285zM74.78 191.8h5.285v5.628h-5.285zM64.81 197.1h5.285v5.628h-5.285zM74.78 197.1h10.27v5.628h-10.27zM109.7 197.1h5.285v5.628h-5.285zM129.6 197.1h5.285v5.628h-5.285zM139.6 197.1h5.285v5.628h-5.285zM154.5 197.1h5.285v5.628h-5.285zM0 202.4h10.27v5.628h-10.27zM59.82 202.4h15.26v5.628h-15.26zM79.76 202.4h5.285v5.628h-5.285zM104.7 202.4h5.285v5.628h-5.285zM144.6 202.4h5.285v5.628h-5.285z"/>
<path fill="#d0b85e" d="M44.87 4.5h5.285v6.428h-5.285zM129.6 127.8h5.285v5.628h-5.285zM14.96 170.5h5.285v5.628h-5.285zM94.72 186.5h5.285v5.628h-5.285zM14.96 197.1h5.285v5.628h-5.285z"/>
<path fill="#ccb058" d="M49.85 4.5h5.285v6.428h-5.285zM99.7 42.6h5.285v5.628h-5.285zM99.7 101.2h5.285v5.628h-5.285zM49.85 117.2h5.285v5.628h-5.285zM119.6 117.2h5.285v5.628h-5.285zM54.84 122.5h5.285v5.628h-5.285zM94.72 122.5h5.285v5.628h-5.285zM114.7 122.5h5.285v5.628h-5.285zM129.6 122.5h5.285v5.628h-5.285zM109.7 127.8h5.285v5.628h-5.285zM69.79 133.2h5.285v5.628h-5.285zM79.76 138.5h5.285v5.628h-5.285zM124.6 138.5h5.285v5.628h-5.285zM104.7 143.8h5.285v5.628h-5.285zM79.76 149.2h5.285v5.628h-5.285zM124.6 149.2h5.285v5.628h-5.285zM9.97 159.8h10.27v5.628h-10.27zM34.9 159.8h5.285v5.628h-5.285zM49.85 159.8h5.285v5.628h-5.285zM74.78 159.8h5.285v5.628h-5.285zM124.6 159.8h5.285v5.628h-5.285zM39.88 165.1h10.27v5.628h-10.27zM54.84 165.1h5.285v5.628h-5.285zM84.75 165.1h5.285v5.628h-5.285zM4.985 170.5h5.285v5.628h-5.285zM59.82 170.5h10.27v5.628h-10.27zM54.84 175.8h5.285v5.628h-5.285zM79.76 175.8h5.285v5.628h-5.285zM89.73 175.8h5.285v5.628h-5.285zM124.6 175.8h5.285v5.628h-5.285zM34.9 181.1h5.285v5.628h-5.285zM69.79 181.1h5.285v5.628h-5.285zM59.82 186.5h10.27v5.628h-10.27zM84.75 191.8h5.285v5.628h-5.285zM99.7 191.8h5.285v5.628h-5.285zM59.82 197.1h5.285v5.628h-5.285zM94.72 197.1h5.285v5.628h-5.285zM9.97 202.4h5.285v5.628h-5.285zM54.84 202.4h5.285v5.628h-5.285z"/>
<path fill="#c8a851" d="M59.82 4.5h5.285v6.428h-5.285zM24.93 10.63h5.285v5.628h-5.285zM34.9 15.96h5.285v5.628h-5.285zM64.81 15.96h5.285v5.628h-5.285zM109.7 15.96h5.285v5.628h-5.285zM184.4 15.96h5.285v5.628h-5.285zM74.78 21.28h10.27v5.628h-10.27zM114.7 21.28h5.285v5.628h-5.285zM44.87 26.61h5.285v5.628h-5.285zM74.78 26.61h5.285v5.628h-5.285zM134.6 26.61h5.285v5.628h-5.285zM209.4 26.61h5.285v5.628h-5.285zM0 31.94h5.285v5.628h-5.285zM34.9 31.94h5.285v5.628h-5.285zM64.81 31.94h5.285v5.628h-5.285zM89.73 31.94h5.285v5.628h-5.285zM119.6 31.94h10.27v5.628h-10.27zM144.6 31.94h5.285v5.628h-5.285zM29.91 37.27h5.285v5.628h-5.285zM164.5 37.27h5.285v5.628h-5.285zM179.5 37.27h5.285v5.628h-5.285zM14.96 42.6h5.285v5.628h-5.285zM79.76 42.6h5.285v5.628h-5.285zM119.6 42.6h5.285v5.628h-5.285zM84.75 47.92h5.285v5.628h-5.285zM4.985 53.25h5.285v5.628h-5.285zM134.6 53.25h5.285v5.628h-5.285zM9.97 58.58h5.285v5.628h-5.285zM54.84 58.58h5.285v5.628h-5.285zM84.75 58.58h5.285v5.628h-5.285zM4.985 63.91h5.285v5.628h-5.285zM29.91 69.24h5.285v5.628h-5.285zM69.79 69.24h5.285v5.628h-5.285zM99.7 69.24h5.285v5.628h-5.285zM139.6 69.24h5.285v5.628h-5.285zM29.91 74.56h5.285v5.628h-5.285zM64.81 74.56h5.285v5.628h-5.285zM84.75 74.56h5.285v5.628h-5.285zM29.91 79.89h5.285v5.628h-5.285zM9.97 85.22h5.285v5.628h-5.285zM19.94 85.22h5.285v5.628h-5.285zM29.91 85.22h5.285v5.628h-5.285zM139.6 90.55h5.285v5.628h-5.285z"/>
<path fill="#cbae56" d="M44.87 10.63h5.285v5.628h-5.285zM99.7 63.91h5.285v5.628h-5.285zM114.7 90.55h5.285v5.628h-5.285zM104.7 95.88h5.285v5.628h-5.285zM94.72 101.2h5.285v5.628h-5.285zM89.73 106.5h5.285v5.628h-5.285zM144.6 106.5h5.285v5.628h-5.285zM49.85 111.9h5.285v5.628h-5.285zM89.73 111.9h5.285v5.628h-5.285zM124.6 111.9h5.285v5.628h-5.285zM64.81 117.2h5.285v5.628h-5.285zM89.73 117.2h5.285v5.628h-5.285zM144.6 117.2h5.285v5.628h-5.285zM74.78 122.5h10.27v5.628h-10.27zM119.6 122.5h10.27v5.628h-10.27zM29.91 127.8h5.285v5.628h-5.285zM39.88 127.8h10.27v5.628h-10.27zM54.84 127.8h5.285v5.628h-5.285zM64.81 127.8h5.285v5.628h-5.285zM79.76 127.8h5.285v5.628h-5.285zM119.6 127.8h5.285v5.628h-5.285zM144.6 127.8h5.285v5.628h-5.285zM14.96 133.2h5.285v5.628h-5.285zM34.9 133.2h5.285v5.628h-5.285zM79.76 133.2h15.26v5.628h-15.26zM99.7 133.2h5.285v5.628h-5.285zM119.6 133.2h5.285v5.628h-5.285zM29.91 138.5h5.285v5.628h-5.285zM44.87 138.5h5.285v5.628h-5.285zM59.82 138.5h5.285v5.628h-5.285zM84.75 138.5h5.285v5.628h-5.285zM94.72 138.5h10.27v5.628h-10.27zM114.7 138.5h5.285v5.628h-5.285zM9.97 143.8h10.27v5.628h-10.27zM84.75 143.8h10.27v5.628h-10.27zM109.7 143.8h5.285v5.628h-5.285zM29.91 149.2h5.285v5.628h-5.285zM44.87 149.2h5.285v5.628h-5.285zM59.82 149.2h5.285v5.628h-5.285zM84.75 149.2h10.27v5.628h-10.27zM129.6 149.2h5.285v5.628h-5.285zM9.97 154.5h5.285v5.628h-5.285zM59.82 154.5h5.285v5.628h-5.285zM79.76 154.5h5.285v5.628h-5.285zM124.6 154.5h10.27v5.628h-10.27zM29.91 159.8h5.285v5.628h-5.285zM0 165.1h5.285v5.628h-5.285zM59.82 165.1h10.27v5.628h-10.27zM0 170.5h5.285v5.628h-5.285zM44.87 170.5h5.285v5.628h-5.285zM69.79 170.5h5.285v5.628h-5.285zM89.73 170.5h5.285v5.628h-5.285zM129.6 170.5h5.285v5.628h-5.285zM0 175.8h5.285v5.628h-5.285zM64.81 175.8h10.27v5.628h-10.27zM84.75 175.8h5.285v5.628h-5.285zM134.6 175.8h10.27v5.628h-10.27zM44.87 181.1h10.27v5.628h-10.27zM84.75 181.1h5.285v5.628h-5.285zM134.6 181.1h5.285v5.628h-5.285zM144.6 181.1h10.27v5.628h-10.27zM34.9 186.5h5.285v5.628h-5.285zM124.6 186.5h5.285v5.628h-5.285zM0 191.8h5.285v5.628h-5.285zM69.79 191.8h5.285v5.628h-5.285zM79.76 191.8h5.285v5.628h-5.285zM124.6 191.8h5.285v5.628h-5.285zM134.6 191.8h5.285v5.628h-5.285zM0 197.1h5.285v5.628h-5.285zM44.87 197.1h5.285v5.628h-5.285zM99.7 197.1h10.27v5.628h-10.27zM29.91 202.4h5.285v5.628h-5.285zM89.73 202.4h5.285v5.628h-5.285zM99.7 202.4h5.285v5.628h-5.285zM124.6 202.4h5.285v5.628h-5.285z"/>
<path fill="#cfb55c" d="M104.7 42.6h5.285v5.628h-5.285zM99.7 58.58h5.285v5.628h-5.285zM99.7 111.9h5.285v5.628h-5.285zM129.6 143.8h5.285v5.628h-5.285zM99.7 149.2h5.285v5.628h-5.285zM94.72 165.1h5.285v5.628h-5.285zM134.6 165.1h5.285v5.628h-5.285zM24.93 170.5h5.285v5.628h-5.285zM24.93 175.8h5.285v5.628h-5.285zM109.7 181.1h5.285v5.628h-5.285zM54.84 186.5h5.285v5.628h-5.285zM9.97 197.1h5.285v5.628h-5.285z"/>
<path fill="#ccaf57" d="M39.88 47.92h5.285v5.628h-5.285zM39.88 58.58h5.285v5.628h-5.285zM99.7 95.88h5.285v5.628h-5.285zM109.7 95.88h10.27v5.628h-10.27zM119.6 101.2h5.285v5.628h-5.285zM94.72 106.5h5.285v5.628h-5.285zM124.6 106.5h5.285v5.628h-5.285zM59.82 111.9h5.285v5.628h-5.285zM149.6 111.9h5.285v5.628h-5.285zM94.72 117.2h5.285v5.628h-5.285zM89.73 122.5h5.285v5.628h-5.285zM99.7 122.5h5.285v5.628h-5.285zM134.6 122.5h5.285v5.628h-5.285zM69.79 127.8h5.285v5.628h-5.285zM94.72 127.8h15.26v5.628h-15.26zM114.7 127.8h5.285v5.628h-5.285zM104.7 133.2h15.26v5.628h-15.26zM34.9 138.5h5.285v5.628h-5.285zM64.81 138.5h5.285v5.628h-5.285zM104.7 138.5h5.285v5.628h-5.285zM44.87 143.8h10.27v5.628h-10.27zM64.81 143.8h5.285v5.628h-5.285zM94.72 143.8h5.285v5.628h-5.285zM119.6 143.8h5.285v5.628h-5.285zM19.94 149.2h5.285v5.628h-5.285zM49.85 149.2h10.27v5.628h-10.27zM114.7 149.2h5.285v5.628h-5.285zM134.6 149.2h5.285v5.628h-5.285zM14.96 154.5h10.27v5.628h-10.27zM29.91 154.5h5.285v5.628h-5.285zM49.85 154.5h5.285v5.628h-5.285zM64.81 154.5h5.285v5.628h-5.285zM89.73 154.5h5.285v5.628h-5.285zM39.88 159.8h5.285v5.628h-5.285zM54.84 159.8h10.27v5.628h-10.27zM69.79 159.8h5.285v5.628h-5.285zM69.79 165.1h5.285v5.628h-5.285zM124.6 165.1h5.285v5.628h-5.285zM39.88 170.5h5.285v5.628h-5.285zM54.84 170.5h5.285v5.628h-5.285zM124.6 170.5h5.285v5.628h-5.285zM39.88 175.8h10.27v5.628h-10.27zM59.82 175.8h5.285v5.628h-5.285zM74.78 175.8h5.285v5.628h-5.285zM144.6 175.8h5.285v5.628h-5.285zM39.88 181.1h5.285v5.628h-5.285zM59.82 181.1h10.27v5.628h-10.27zM74.78 181.1h5.285v5.628h-5.285zM124.6 181.1h10.27v5.628h-10.27zM29.91 186.5h5.285v5.628h-5.285zM79.76 186.5h5.285v5.628h-5.285zM109.7 191.8h5.285v5.628h-5.285zM29.91 197.1h5.285v5.628h-5.285zM69.79 197.1h5.285v5.628h-5.285zM14.96 202.4h5.285v5.628h-5.285zM24.93 202.4h5.285v5.628h-5.285zM94.72 202.4h5.285v5.628h-5.285zM114.7 202.4h10.27v5.628h-10.27z"/>
<path fill="#d4bf64" d="M99.7 47.92h5.285v5.628h-5.285zM99.7 53.25h5.285v5.628h-5.285zM134.6 127.8h5.285v5.628h-5.285zM114.7 186.5h5.285v5.628h-5.285z"/>
<path fill="#d7c56a" d="M104.7 47.92h5.285v5.628h-5.285zM99.7 159.8h5.285v5.628h-5.285zM99.7 165.1h5.285v5.628h-5.285zM109.7 170.5h5.285v5.628h-5.285z"/>
<path fill="#cdb158" d="M39.88 53.25h5.285v5.628h-5.285zM119.6 106.5h5.285v5.628h-5.285zM94.72 111.9h5.285v5.628h-5.285zM144.6 111.9h5.285v5.628h-5.285zM84.75 117.2h5.285v5.628h-5.285zM104.7 122.5h10.27v5.628h-10.27zM139.6 127.8h5.285v5.628h-5.285zM79.76 143.8h5.285v5.628h-5.285zM99.7 143.8h5.285v5.628h-5.285zM69.79 149.2h5.285v5.628h-5.285zM74.78 154.5h5.285v5.628h-5.285zM94.72 154.5h5.285v5.628h-5.285zM134.6 154.5h5.285v5.628h-5.285zM19.94 159.8h5.285v5.628h-5.285zM89.73 159.8h5.285v5.628h-5.285zM89.73 165.1h5.285v5.628h-5.285zM79.76 170.5h10.27v5.628h-10.27zM134.6 170.5h5.285v5.628h-5.285zM94.72 175.8h5.285v5.628h-5.285zM99.7 181.1h5.285v5.628h-5.285zM84.75 186.5h5.285v5.628h-5.285zM99.7 186.5h5.285v5.628h-5.285zM109.7 186.5h5.285v5.628h-5.285zM29.91 191.8h5.285v5.628h-5.285zM144.6 191.8h5.285v5.628h-5.285zM4.985 197.1h5.285v5.628h-5.285zM24.93 197.1h5.285v5.628h-5.285zM49.85 197.1h5.285v5.628h-5.285zM19.94 202.4h5.285v5.628h-5.285zM149.6 202.4h5.285v5.628h-5.285z"/>
<path fill="#d8c66c" d="M104.7 53.25h5.285v5.628h-5.285zM164.5 85.22h5.285v5.628h-5.285z"/>
<path fill="#d1b95f" d="M104.7 58.58h5.285v5.628h-5.285zM159.5 79.89h5.285v5.628h-5.285zM104.7 106.5h10.27v5.628h-10.27zM139.6 133.2h5.285v5.628h-5.285zM104.7 149.2h5.285v5.628h-5.285zM34.9 175.8h5.285v5.628h-5.285zM104.7 175.8h5.285v5.628h-5.285zM24.93 181.1h5.285v5.628h-5.285zM9.97 186.5h5.285v5.628h-5.285zM9.97 191.8h5.285v5.628h-5.285z"/>
<path fill="#d2bc62" d="M159.5 85.22h5.285v5.628h-5.285zM99.7 170.5h5.285v5.628h-5.285zM119.6 175.8h5.285v5.628h-5.285zM9.97 181.1h5.285v5.628h-5.285z"/>
<path fill="#ceb35a" d="M159.5 90.55h5.285v5.628h-5.285zM109.7 101.2h5.285v5.628h-5.285zM69.79 138.5h5.285v5.628h-5.285zM139.6 138.5h5.285v5.628h-5.285zM69.79 143.8h5.285v5.628h-5.285zM114.7 159.8h5.285v5.628h-5.285zM134.6 159.8h5.285v5.628h-5.285zM19.94 165.1h10.27v5.628h-10.27zM99.7 175.8h5.285v5.628h-5.285zM94.72 181.1h5.285v5.628h-5.285zM4.985 186.5h5.285v5.628h-5.285zM49.85 186.5h5.285v5.628h-5.285zM4.985 191.8h5.285v5.628h-5.285zM24.93 191.8h5.285v5.628h-5.285zM59.82 191.8h5.285v5.628h-5.285zM89.73 191.8h5.285v5.628h-5.285zM54.84 197.1h5.285v5.628h-5.285zM144.6 197.1h5.285v5.628h-5.285z"/>
<path fill="#ceb45b" d="M104.7 101.2h5.285v5.628h-5.285zM114.7 101.2h5.285v5.628h-5.285zM54.84 111.9h5.285v5.628h-5.285zM119.6 111.9h5.285v5.628h-5.285zM79.76 117.2h5.285v5.628h-5.285zM99.7 117.2h5.285v5.628h-5.285zM74.78 149.2h5.285v5.628h-5.285zM109.7 149.2h5.285v5.628h-5.285zM94.72 159.8h5.285v5.628h-5.285zM14.96 165.1h5.285v5.628h-5.285zM119.6 165.1h5.285v5.628h-5.285zM9.97 170.5h5.285v5.628h-5.285zM139.6 170.5h5.285v5.628h-5.285zM29.91 175.8h5.285v5.628h-5.285zM4.985 181.1h5.285v5.628h-5.285zM49.85 191.8h5.285v5.628h-5.285zM19.94 197.1h5.285v5.628h-5.285z"/>
<path fill="#d0b65d" d="M99.7 106.5h5.285v5.628h-5.285zM114.7 106.5h5.285v5.628h-5.285zM54.84 117.2h5.285v5.628h-5.285zM109.7 117.2h10.27v5.628h-10.27zM134.6 143.8h5.285v5.628h-5.285zM19.94 170.5h5.285v5.628h-5.285zM29.91 170.5h5.285v5.628h-5.285zM24.93 186.5h5.285v5.628h-5.285zM89.73 186.5h5.285v5.628h-5.285zM54.84 191.8h5.285v5.628h-5.285zM94.72 191.8h5.285v5.628h-5.285zM119.6 197.1h5.285v5.628h-5.285z"/>
<path fill="#d1ba60" d="M104.7 111.9h5.285v5.628h-5.285zM114.7 111.9h5.285v5.628h-5.285zM104.7 117.2h5.285v5.628h-5.285zM109.7 154.5h5.285v5.628h-5.285zM139.6 159.8h5.285v5.628h-5.285zM19.94 191.8h5.285v5.628h-5.285zM149.6 197.1h5.285v5.628h-5.285z"/>
<path fill="#d3be63" d="M109.7 111.9h5.285v5.628h-5.285zM114.7 165.1h5.285v5.628h-5.285zM19.94 181.1h5.285v5.628h-5.285zM114.7 181.1h10.27v5.628h-10.27zM19.94 186.5h5.285v5.628h-5.285z"/>
<path fill="#cdb259" d="M59.82 117.2h5.285v5.628h-5.285zM74.78 127.8h5.285v5.628h-5.285zM124.6 133.2h5.285v5.628h-5.285zM94.72 149.2h5.285v5.628h-5.285zM114.7 154.5h5.285v5.628h-5.285zM119.6 159.8h5.285v5.628h-5.285zM129.6 159.8h5.285v5.628h-5.285zM9.97 165.1h5.285v5.628h-5.285zM29.91 165.1h5.285v5.628h-5.285zM129.6 165.1h5.285v5.628h-5.285zM94.72 170.5h5.285v5.628h-5.285zM4.985 175.8h5.285v5.628h-5.285zM29.91 181.1h5.285v5.628h-5.285zM54.84 181.1h5.285v5.628h-5.285zM89.73 181.1h5.285v5.628h-5.285zM104.7 181.1h5.285v5.628h-5.285zM149.6 191.8h5.285v5.628h-5.285zM89.73 197.1h5.285v5.628h-5.285zM114.7 197.1h5.285v5.628h-5.285z"/>
<path fill="#d5c267" d="M74.78 133.2h5.285v5.628h-5.285zM129.6 138.5h5.285v5.628h-5.285zM109.7 165.1h5.285v5.628h-5.285z"/>
<path fill="#d6c368" d="M129.6 133.2h5.285v5.628h-5.285z"/>
<path fill="#dbcc73" d="M134.6 133.2h5.285v5.628h-5.285zM74.78 138.5h5.285v5.628h-5.285zM104.7 159.8h5.285v5.628h-5.285z"/>
<path fill="#d9c96f" d="M134.6 138.5h5.285v5.628h-5.285z"/>
<path fill="#d6c469" d="M74.78 143.8h5.285v5.628h-5.285zM104.7 170.5h5.285v5.628h-5.285zM114.7 175.8h5.285v5.628h-5.285z"/>
<path fill="#d4c065" d="M99.7 154.5h5.285v5.628h-5.285zM109.7 159.8h5.285v5.628h-5.285zM34.9 165.1h5.285v5.628h-5.285zM14.96 175.8h5.285v5.628h-5.285zM109.7 175.8h5.285v5.628h-5.285zM14.96 181.1h5.285v5.628h-5.285zM14.96 186.5h5.285v5.628h-5.285z"/>
<path fill="#d7c66b" d="M104.7 154.5h5.285v5.628h-5.285zM114.7 170.5h5.285v5.628h-5.285z"/>
<path fill="#dacb72" d="M104.7 165.1h5.285v5.628h-5.285z"/>
<path fill="#daca70" d="M34.9 170.5h5.285v5.628h-5.285z"/>
<path fill="#d3bd62" d="M119.6 170.5h5.285v5.628h-5.285zM19.94 175.8h5.285v5.628h-5.285z"/>
<path fill="#d2bb61" d="M9.97 175.8h5.285v5.628h-5.285zM14.96 191.8h5.285v5.628h-5.285z"/>
<path fill="#d8c76d" d="M119.6 186.5h5.285v5.628h-5.285zM119.6 191.8h5.285v5.628h-5.285z"/>
<path fill="#d5c166" d="M114.7 191.8h5.285v5.628h-5.285z"/>
</g>
<path d="M0.20 0L6.00 209.00M31.64 0L37.80 209.00M63.08 0L69.00 209.00M94.52 0L100.00 209.00M125.96 0L130.90 209.00M157.40 0L161.70 209.00M188.84 0L192.20 209.00M0 19.10L219.00 13.50M0 45.97L219.00 40.37M0 72.84L219.00 67.24M0 99.71L219.00 94.11M0 126.58L219.00 120.98M0 153.45L219.00 147.85M0 180.32L219.00 174.72M0 207.19L219.00 201.59" fill="none" stroke="#b0b0b0" stroke-width="1.12"/>
<path d="M218.5 131.1C218.3 131.6 217.8 132.9 217.1 133.9C216.4 134.9 215.3 136.5 214.2 137.1C213.1 137.7 211.8 137.8 210.6 137.5C209.4 137.2 208.1 136.2 207.1 135.4C206.2 134.6 205.1 133.5 204.9 132.5C204.6 131.5 205.2 130.7 205.6 129.6C206.0 128.5 207.0 127.3 207.1 126.1C207.2 124.9 206.3 123.7 206.4 122.5C206.5 121.3 207.2 119.9 207.8 118.9C208.4 117.9 209.4 117.3 210.1 116.3C210.8 115.4 211.5 114.3 211.8 113.2C212.1 112.1 212.3 110.5 212.1 109.6C211.9 108.6 211.2 107.7 210.6 107.5C210.1 107.3 209.3 107.9 208.8 108.6C208.3 109.3 208.3 111.1 207.8 111.8C207.3 112.5 206.4 113.1 205.9 112.9C205.4 112.7 204.8 111.4 204.9 110.4C205.0 109.4 206.5 108.1 206.6 106.8C206.7 105.5 206.1 103.9 205.6 102.5C205.1 101.1 204.3 99.6 203.5 98.2C202.7 96.8 201.3 95.2 200.6 93.9C200.0 92.6 199.6 91.7 199.6 90.4C199.6 89.1 200.2 88.0 200.6 86.1C201.0 84.2 201.5 81.8 202.1 78.9C202.7 76.0 203.5 72.2 204.2 68.9C204.9 65.6 205.8 61.9 206.4 58.9C207.0 55.9 207.3 53.1 207.8 51.1C208.3 49.1 208.6 48.0 209.2 46.8C209.8 45.6 211.3 44.8 211.6 43.9C211.9 43.0 211.6 42.0 211.1 41.4C210.6 40.8 209.8 40.1 208.8 40.1C207.8 40.1 206.5 40.9 204.9 41.4C203.3 41.9 201.1 42.0 199.2 42.9C197.3 43.8 195.3 45.1 193.5 46.8C191.7 48.5 190.3 50.5 188.5 53.2C186.7 55.9 184.6 59.6 182.8 63.2C181.0 66.8 179.1 70.5 177.8 74.6C176.5 78.6 176.0 83.0 174.9 87.5C173.7 92.0 172.3 97.6 170.9 101.8C169.5 106.1 168.0 110.3 166.6 113.0C165.3 115.7 163.9 116.6 162.8 118.2C161.7 119.8 160.5 120.8 159.9 122.5C159.2 124.2 159.4 126.3 158.9 128.2C158.4 130.1 158.0 132.0 157.1 133.9C156.2 135.8 154.8 138.1 153.5 139.6C152.2 141.1 150.2 142.1 149.2 143.2C148.3 144.3 147.8 144.9 147.8 146.1C147.8 147.3 148.7 148.9 149.2 150.4C149.7 151.9 150.2 153.7 150.6 155.4C151.0 157.1 151.5 158.7 151.4 160.4C151.3 162.1 149.5 164.3 149.9 165.4C150.2 166.5 152.2 166.1 153.5 166.8C154.8 167.5 156.5 168.4 157.8 169.6C159.1 170.8 160.3 172.2 161.4 173.9C162.5 175.6 163.3 177.5 164.2 179.6C165.2 181.8 166.3 184.4 167.1 186.8C167.9 189.2 168.5 191.5 168.9 193.9C169.3 196.3 169.3 198.5 169.5 201.1C169.7 203.7 169.8 208.1 169.9 209.5" fill="none" stroke="#808080" stroke-width="1.4" stroke-linejoin="round"/>
</g>
<rect x="0" y="0" width="219" height="209" fill="none" stroke="#000" stroke-width="1.1"/>
</g>
<text x="259.70" y="367.25" font-size="17.00" text-anchor="middle" textLength="95.0" lengthAdjust="spacingAndGlyphs">u std. [m/s]</text>
<text x="151.50" y="385.75" font-size="14.10" text-anchor="middle" textLength="53.0" lengthAdjust="spacingAndGlyphs">112.5°E</text>
<text x="157.50" y="622.75" font-size="14.10" text-anchor="middle" textLength="53.0" lengthAdjust="spacingAndGlyphs">112.5°E</text>
<text x="213.75" y="385.75" font-size="14.10" text-anchor="middle" textLength="40.0" lengthAdjust="spacingAndGlyphs">113°E</text>
<text x="219.75" y="622.75" font-size="14.10" text-anchor="middle" textLength="40.0" lengthAdjust="spacingAndGlyphs">113°E</text>
<text x="276.00" y="385.75" font-size="14.10" text-anchor="middle" textLength="53.0" lengthAdjust="spacingAndGlyphs">113.5°E</text>
<text x="281.50" y="622.75" font-size="14.10" text-anchor="middle" textLength="53.0" lengthAdjust="spacingAndGlyphs">113.5°E</text>
<text x="338.75" y="385.75" font-size="14.10" text-anchor="middle" textLength="40.0" lengthAdjust="spacingAndGlyphs">114°E</text>
<text x="342.50" y="622.75" font-size="14.10" text-anchor="middle" textLength="40.0" lengthAdjust="spacingAndGlyphs">114°E</text>
<text x="143.00" y="420.05" font-size="14.10" text-anchor="end" textLength="46.4" lengthAdjust="spacingAndGlyphs">21.6°S</text>
<text x="143.00" y="446.92" font-size="14.10" text-anchor="end" textLength="46.4" lengthAdjust="spacingAndGlyphs">21.8°S</text>
<text x="143.00" y="473.79" font-size="14.10" text-anchor="end" textLength="32.3" lengthAdjust="spacingAndGlyphs">22°S</text>
<text x="143.00" y="500.66" font-size="14.10" text-anchor="end" textLength="46.4" lengthAdjust="spacingAndGlyphs">22.2°S</text>
<text x="143.00" y="527.53" font-size="14.10" text-anchor="end" textLength="46.4" lengthAdjust="spacingAndGlyphs">22.4°S</text>
<text x="143.00" y="554.40" font-size="14.10" text-anchor="end" textLength="46.4" lengthAdjust="spacingAndGlyphs">22.6°S</text>
<text x="143.00" y="581.27" font-size="14.10" text-anchor="end" textLength="46.4" lengthAdjust="spacingAndGlyphs">22.8°S</text>
<text x="143.00" y="608.14" font-size="14.10" text-anchor="end" textLength="32.3" lengthAdjust="spacingAndGlyphs">23°S</text>
<rect x="383.55" y="476.5" width="2.1" height="49.0" fill="url(#g3)" stroke="#000" stroke-width="1.1"/>
<text x="396.20" y="481.55" font-size="14.10" text-anchor="start" textLength="19.6" lengthAdjust="spacingAndGlyphs">0.5</text>
<text x="396.20" y="530.55" font-size="14.10" text-anchor="start" textLength="19.6" lengthAdjust="spacingAndGlyphs">0.0</text>
<path d="M386.20 476.50h4.7M386.20 525.50h4.7" stroke="#000" stroke-width="1.15" fill="none"/>
<g transform="translate(478.5 396.5)">
<g clip-path="url(#clip)">
<rect x="0" y="0" width="219" height="209" fill="#97b6e1"/>
<path d="M170 209 L170 200 L219 196 L219 209 Z" fill="#efefdb"/>
<rect x="214" y="131.5" width="6" height="80" fill="#efefdb"/>
<g transform="matrix(1 -0.0258 0.0235 1 0 0)" shape-rendering="crispEdges">
<rect x="1.5" y="4.5" width="212.9" height="203.3" fill="#eef7ab"/>
<path fill="#caab53" d="M0 4.5h5.285v6.428h-5.285zM14.96 4.5h5.285v6.428h-5.285zM74.78 4.5h20.24v6.428h-20.24zM164.5 4.5h15.26v6.428h-15.26zM9.97 10.63h5.285v5.628h-5.285zM69.79 10.63h5.285v5.628h-5.285zM79.76 10.63h5.285v5.628h-5.285zM89.73 10.63h5.285v5.628h-5.285zM0 15.96h5.285v5.628h-5.285zM69.79 15.96h5.285v5.628h-5.285zM184.4 15.96h5.285v5.628h-5.285zM209.4 15.96h5.285v5.628h-5.285zM34.9 21.28h5.285v5.628h-5.285zM54.84 21.28h10.27v5.628h-10.27zM74.78 21.28h5.285v5.628h-5.285zM179.5 21.28h10.27v5.628h-10.27zM209.4 21.28h5.285v5.628h-5.285zM49.85 26.61h5.285v5.628h-5.285zM59.82 26.61h5.285v5.628h-5.285zM39.88 31.94h5.285v5.628h-5.285zM59.82 31.94h5.285v5.628h-5.285zM144.6 31.94h5.285v5.628h-5.285zM0 37.27h5.285v5.628h-5.285zM29.91 37.27h5.285v5.628h-5.285zM39.88 37.27h5.285v5.628h-5.285zM49.85 37.27h5.285v5.628h-5.285zM59.82 37.27h5.285v5.628h-5.285zM29.91 42.6h10.27v5.628h-10.27zM64.81 42.6h10.27v5.628h-10.27zM0 47.92h10.27v5.628h-10.27zM19.94 47.92h15.26v5.628h-15.26zM44.87 47.92h5.285v5.628h-5.285zM149.6 47.92h5.285v5.628h-5.285zM44.87 53.25h5.285v5.628h-5.285zM64.81 53.25h5.285v5.628h-5.285zM84.75 53.25h5.285v5.628h-5.285zM144.6 53.25h5.285v5.628h-5.285zM0 58.58h10.27v5.628h-10.27zM29.91 58.58h5.285v5.628h-5.285zM69.79 58.58h10.27v5.628h-10.27zM69.79 63.91h5.285v5.628h-5.285zM64.81 74.56h5.285v5.628h-5.285zM134.6 74.56h5.285v5.628h-5.285zM149.6 79.89h5.285v5.628h-5.285z"/>
<path fill="#caac54" d="M4.985 4.5h5.285v6.428h-5.285zM19.94 4.5h10.27v6.428h-10.27zM64.81 4.5h5.285v6.428h-5.285zM94.72 4.5h5.285v6.428h-5.285zM19.94 10.63h5.285v5.628h-5.285zM64.81 10.63h5.285v5.628h-5.285zM164.5 10.63h5.285v5.628h-5.285zM74.78 15.96h5.285v5.628h-5.285zM84.75 15.96h5.285v5.628h-5.285zM94.72 15.96h5.285v5.628h-5.285zM164.5 15.96h15.26v5.628h-15.26zM39.88 21.28h5.285v5.628h-5.285zM69.79 21.28h5.285v5.628h-5.285zM169.5 21.28h5.285v5.628h-5.285zM39.88 26.61h5.285v5.628h-5.285zM174.5 26.61h5.285v5.628h-5.285zM4.985 31.94h5.285v5.628h-5.285zM34.9 31.94h5.285v5.628h-5.285zM44.87 31.94h15.26v5.628h-15.26zM169.5 31.94h5.285v5.628h-5.285zM179.5 31.94h5.285v5.628h-5.285zM24.93 37.27h5.285v5.628h-5.285zM54.84 37.27h5.285v5.628h-5.285zM64.81 37.27h5.285v5.628h-5.285zM164.5 37.27h10.27v5.628h-10.27zM39.88 42.6h10.27v5.628h-10.27zM59.82 42.6h5.285v5.628h-5.285zM74.78 42.6h5.285v5.628h-5.285zM9.97 47.92h5.285v5.628h-5.285zM39.88 47.92h5.285v5.628h-5.285zM89.73 47.92h5.285v5.628h-5.285zM59.82 53.25h5.285v5.628h-5.285zM74.78 53.25h5.285v5.628h-5.285zM9.97 58.58h15.26v5.628h-15.26zM34.9 58.58h10.27v5.628h-10.27zM49.85 58.58h5.285v5.628h-5.285zM84.75 58.58h10.27v5.628h-10.27zM4.985 63.91h5.285v5.628h-5.285zM24.93 63.91h5.285v5.628h-5.285zM49.85 63.91h5.285v5.628h-5.285zM64.81 63.91h5.285v5.628h-5.285zM0 69.24h5.285v5.628h-5.285zM9.97 69.24h5.285v5.628h-5.285zM34.9 69.24h5.285v5.628h-5.285zM94.72 69.24h5.285v5.628h-5.285zM119.6 69.24h5.285v5.628h-5.285zM139.6 69.24h5.285v5.628h-5.285zM0 74.56h20.24v5.628h-20.24zM29.91 74.56h15.26v5.628h-15.26zM54.84 74.56h5.285v5.628h-5.285zM84.75 74.56h5.285v5.628h-5.285zM124.6 74.56h5.285v5.628h-5.285zM139.6 74.56h5.285v5.628h-5.285zM0 79.89h15.26v5.628h-15.26zM19.94 79.89h5.285v5.628h-5.285zM34.9 79.89h5.285v5.628h-5.285zM44.87 79.89h10.27v5.628h-10.27zM59.82 79.89h5.285v5.628h-5.285zM74.78 79.89h10.27v5.628h-10.27zM94.72 79.89h10.27v5.628h-10.27zM114.7 79.89h5.285v5.628h-5.285zM124.6 79.89h5.285v5.628h-5.285zM144.6 79.89h5.285v5.628h-5.285zM39.88 85.22h5.285v5.628h-5.285zM49.85 85.22h5.285v5.628h-5.285zM79.76 85.22h10.27v5.628h-10.27zM104.7 85.22h5.285v5.628h-5.285zM134.6 85.22h5.285v5.628h-5.285zM144.6 85.22h5.285v5.628h-5.285zM154.5 85.22h5.285v5.628h-5.285zM164.5 85.22h5.285v5.628h-5.285zM19.94 90.55h5.285v5.628h-5.285zM134.6 90.55h5.285v5.628h-5.285zM149.6 90.55h5.285v5.628h-5.285zM159.5 90.55h5.285v5.628h-5.285zM0 95.88h15.26v5.628h-15.26zM129.6 95.88h15.26v5.628h-15.26zM154.5 101.2h5.285v5.628h-5.285zM4.985 197.1h5.285v5.628h-5.285z"/>
<path fill="#cbae56" d="M9.97 4.5h5.285v6.428h-5.285zM59.82 4.5h5.285v6.428h-5.285zM69.79 4.5h5.285v6.428h-5.285zM99.7 4.5h5.285v6.428h-5.285zM4.985 10.63h5.285v5.628h-5.285zM24.93 10.63h5.285v5.628h-5.285zM84.75 10.63h5.285v5.628h-5.285zM114.7 10.63h5.285v5.628h-5.285zM169.5 10.63h5.285v5.628h-5.285zM179.5 10.63h5.285v5.628h-5.285zM9.97 15.96h5.285v5.628h-5.285zM59.82 15.96h10.27v5.628h-10.27zM79.76 15.96h5.285v5.628h-5.285zM104.7 15.96h5.285v5.628h-5.285zM129.6 15.96h5.285v5.628h-5.285zM44.87 21.28h10.27v5.628h-10.27zM64.81 21.28h5.285v5.628h-5.285zM84.75 21.28h10.27v5.628h-10.27zM4.985 26.61h5.285v5.628h-5.285zM34.9 26.61h5.285v5.628h-5.285zM54.84 26.61h5.285v5.628h-5.285zM74.78 26.61h5.285v5.628h-5.285zM84.75 26.61h5.285v5.628h-5.285zM94.72 26.61h5.285v5.628h-5.285zM179.5 26.61h10.27v5.628h-10.27zM209.4 26.61h5.285v5.628h-5.285zM29.91 31.94h5.285v5.628h-5.285zM4.985 37.27h5.285v5.628h-5.285zM34.9 37.27h5.285v5.628h-5.285zM179.5 37.27h5.285v5.628h-5.285zM209.4 37.27h5.285v5.628h-5.285zM9.97 42.6h5.285v5.628h-5.285zM19.94 42.6h10.27v5.628h-10.27zM49.85 42.6h5.285v5.628h-5.285zM79.76 42.6h5.285v5.628h-5.285zM34.9 47.92h5.285v5.628h-5.285zM54.84 47.92h15.26v5.628h-15.26zM79.76 47.92h10.27v5.628h-10.27zM94.72 47.92h5.285v5.628h-5.285zM134.6 47.92h5.285v5.628h-5.285zM0 53.25h15.26v5.628h-15.26zM39.88 53.25h5.285v5.628h-5.285zM49.85 53.25h5.285v5.628h-5.285zM69.79 53.25h5.285v5.628h-5.285zM79.76 53.25h5.285v5.628h-5.285zM94.72 53.25h10.27v5.628h-10.27zM134.6 53.25h5.285v5.628h-5.285zM24.93 58.58h5.285v5.628h-5.285zM59.82 58.58h5.285v5.628h-5.285zM79.76 58.58h5.285v5.628h-5.285zM9.97 63.91h15.26v5.628h-15.26zM29.91 63.91h5.285v5.628h-5.285zM39.88 63.91h5.285v5.628h-5.285zM54.84 63.91h5.285v5.628h-5.285zM74.78 63.91h5.285v5.628h-5.285zM84.75 63.91h5.285v5.628h-5.285zM154.5 63.91h5.285v5.628h-5.285zM4.985 69.24h5.285v5.628h-5.285zM19.94 69.24h5.285v5.628h-5.285zM29.91 69.24h5.285v5.628h-5.285zM39.88 69.24h5.285v5.628h-5.285zM64.81 69.24h15.26v5.628h-15.26zM84.75 69.24h5.285v5.628h-5.285zM99.7 69.24h5.285v5.628h-5.285zM134.6 69.24h5.285v5.628h-5.285zM209.4 69.24h5.285v5.628h-5.285zM49.85 74.56h5.285v5.628h-5.285zM69.79 74.56h5.285v5.628h-5.285zM64.81 79.89h5.285v5.628h-5.285zM154.5 79.89h10.27v5.628h-10.27zM14.96 85.22h10.27v5.628h-10.27zM94.72 85.22h5.285v5.628h-5.285zM114.7 85.22h5.285v5.628h-5.285zM0 90.55h5.285v5.628h-5.285zM9.97 90.55h5.285v5.628h-5.285zM39.88 90.55h10.27v5.628h-10.27zM54.84 90.55h5.285v5.628h-5.285zM89.73 90.55h5.285v5.628h-5.285zM124.6 90.55h10.27v5.628h-10.27zM144.6 90.55h5.285v5.628h-5.285zM29.91 95.88h5.285v5.628h-5.285zM39.88 95.88h5.285v5.628h-5.285zM54.84 95.88h5.285v5.628h-5.285zM149.6 95.88h5.285v5.628h-5.285zM129.6 101.2h5.285v5.628h-5.285zM144.6 101.2h10.27v5.628h-10.27zM0 106.5h5.285v5.628h-5.285zM39.88 106.5h5.285v5.628h-5.285zM144.6 106.5h5.285v5.628h-5.285zM4.985 111.9h15.26v5.628h-15.26zM34.9 111.9h5.285v5.628h-5.285zM9.97 117.2h10.27v5.628h-10.27zM4.985 122.5h5.285v5.628h-5.285zM19.94 122.5h5.285v5.628h-5.285zM114.7 122.5h5.285v5.628h-5.285zM149.6 122.5h5.285v5.628h-5.285zM4.985 127.8h5.285v5.628h-5.285zM34.9 127.8h5.285v5.628h-5.285zM109.7 127.8h5.285v5.628h-5.285zM119.6 127.8h5.285v5.628h-5.285zM139.6 127.8h5.285v5.628h-5.285zM4.985 138.5h5.285v5.628h-5.285zM134.6 138.5h5.285v5.628h-5.285zM0 143.8h5.285v5.628h-5.285zM14.96 154.5h5.285v5.628h-5.285zM9.97 159.8h5.285v5.628h-5.285zM0 165.1h5.285v5.628h-5.285zM9.97 165.1h5.285v5.628h-5.285zM0 170.5h10.27v5.628h-10.27zM24.93 170.5h10.27v5.628h-10.27zM9.97 175.8h5.285v5.628h-5.285zM24.93 175.8h5.285v5.628h-5.285zM144.6 175.8h5.285v5.628h-5.285zM0 181.1h5.285v5.628h-5.285zM9.97 181.1h5.285v5.628h-5.285zM69.79 181.1h5.285v5.628h-5.285zM84.75 181.1h5.285v5.628h-5.285zM99.7 181.1h10.27v5.628h-10.27zM124.6 181.1h5.285v5.628h-5.285zM0 186.5h10.27v5.628h-10.27zM49.85 186.5h5.285v5.628h-5.285zM64.81 186.5h5.285v5.628h-5.285zM79.76 186.5h10.27v5.628h-10.27zM119.6 186.5h5.285v5.628h-5.285zM74.78 191.8h5.285v5.628h-5.285zM0 197.1h5.285v5.628h-5.285zM129.6 197.1h5.285v5.628h-5.285zM89.73 202.4h5.285v5.628h-5.285zM129.6 202.4h10.27v5.628h-10.27zM149.6 202.4h5.285v5.628h-5.285z"/>
<path fill="#cbad55" d="M29.91 4.5h5.285v6.428h-5.285zM129.6 4.5h10.27v6.428h-10.27zM0 10.63h5.285v5.628h-5.285zM14.96 10.63h5.285v5.628h-5.285zM29.91 10.63h5.285v5.628h-5.285zM74.78 10.63h5.285v5.628h-5.285zM94.72 10.63h10.27v5.628h-10.27zM134.6 10.63h5.285v5.628h-5.285zM174.5 10.63h5.285v5.628h-5.285zM29.91 15.96h5.285v5.628h-5.285zM179.5 15.96h5.285v5.628h-5.285zM0 21.28h5.285v5.628h-5.285zM79.76 21.28h5.285v5.628h-5.285zM164.5 21.28h5.285v5.628h-5.285zM174.5 21.28h5.285v5.628h-5.285zM189.4 21.28h5.285v5.628h-5.285zM0 26.61h5.285v5.628h-5.285zM44.87 26.61h5.285v5.628h-5.285zM64.81 26.61h10.27v5.628h-10.27zM89.73 26.61h5.285v5.628h-5.285zM169.5 26.61h5.285v5.628h-5.285zM189.4 26.61h5.285v5.628h-5.285zM0 31.94h5.285v5.628h-5.285zM69.79 31.94h5.285v5.628h-5.285zM184.4 31.94h5.285v5.628h-5.285zM44.87 37.27h5.285v5.628h-5.285zM69.79 37.27h5.285v5.628h-5.285zM174.5 37.27h5.285v5.628h-5.285zM0 42.6h10.27v5.628h-10.27zM14.96 42.6h5.285v5.628h-5.285zM54.84 42.6h5.285v5.628h-5.285zM14.96 47.92h5.285v5.628h-5.285zM49.85 47.92h5.285v5.628h-5.285zM69.79 47.92h10.27v5.628h-10.27zM139.6 47.92h10.27v5.628h-10.27zM14.96 53.25h20.24v5.628h-20.24zM54.84 53.25h5.285v5.628h-5.285zM89.73 53.25h5.285v5.628h-5.285zM44.87 58.58h5.285v5.628h-5.285zM54.84 58.58h5.285v5.628h-5.285zM94.72 58.58h5.285v5.628h-5.285zM34.9 63.91h5.285v5.628h-5.285zM44.87 63.91h5.285v5.628h-5.285zM59.82 63.91h5.285v5.628h-5.285zM79.76 63.91h5.285v5.628h-5.285zM89.73 63.91h15.26v5.628h-15.26zM124.6 63.91h10.27v5.628h-10.27zM149.6 63.91h5.285v5.628h-5.285zM14.96 69.24h5.285v5.628h-5.285zM24.93 69.24h5.285v5.628h-5.285zM44.87 69.24h20.24v5.628h-20.24zM79.76 69.24h5.285v5.628h-5.285zM154.5 69.24h5.285v5.628h-5.285zM19.94 74.56h5.285v5.628h-5.285zM59.82 74.56h5.285v5.628h-5.285zM74.78 74.56h5.285v5.628h-5.285zM14.96 79.89h5.285v5.628h-5.285zM39.88 79.89h5.285v5.628h-5.285zM69.79 79.89h5.285v5.628h-5.285zM84.75 79.89h5.285v5.628h-5.285zM109.7 79.89h5.285v5.628h-5.285zM119.6 79.89h5.285v5.628h-5.285zM129.6 79.89h15.26v5.628h-15.26zM0 85.22h5.285v5.628h-5.285zM24.93 85.22h15.26v5.628h-15.26zM74.78 85.22h5.285v5.628h-5.285zM89.73 85.22h5.285v5.628h-5.285zM99.7 85.22h5.285v5.628h-5.285zM109.7 85.22h5.285v5.628h-5.285zM129.6 85.22h5.285v5.628h-5.285zM139.6 85.22h5.285v5.628h-5.285zM159.5 85.22h5.285v5.628h-5.285zM29.91 90.55h5.285v5.628h-5.285zM49.85 90.55h5.285v5.628h-5.285zM69.79 90.55h5.285v5.628h-5.285zM79.76 90.55h5.285v5.628h-5.285zM109.7 90.55h5.285v5.628h-5.285zM19.94 95.88h5.285v5.628h-5.285zM44.87 95.88h5.285v5.628h-5.285zM124.6 95.88h5.285v5.628h-5.285zM154.5 95.88h10.27v5.628h-10.27zM4.985 101.2h5.285v5.628h-5.285zM19.94 101.2h10.27v5.628h-10.27zM124.6 101.2h5.285v5.628h-5.285zM134.6 101.2h5.285v5.628h-5.285zM159.5 101.2h5.285v5.628h-5.285zM29.91 111.9h5.285v5.628h-5.285zM149.6 117.2h5.285v5.628h-5.285zM9.97 127.8h5.285v5.628h-5.285zM4.985 133.2h5.285v5.628h-5.285zM79.76 191.8h5.285v5.628h-5.285zM89.73 197.1h5.285v5.628h-5.285zM119.6 197.1h5.285v5.628h-5.285zM0 202.4h20.24v5.628h-20.24zM84.75 202.4h5.285v5.628h-5.285zM119.6 202.4h5.285v5.628h-5.285zM144.6 202.4h5.285v5.628h-5.285z"/>
<path fill="#cdb158" d="M34.9 4.5h5.285v6.428h-5.285zM34.9 10.63h5.285v5.628h-5.285zM14.96 15.96h5.285v5.628h-5.285zM109.7 15.96h10.27v5.628h-10.27zM29.91 21.28h5.285v5.628h-5.285zM99.7 21.28h10.27v5.628h-10.27zM119.6 21.28h5.285v5.628h-5.285zM79.76 31.94h5.285v5.628h-5.285zM134.6 31.94h5.285v5.628h-5.285zM134.6 42.6h5.285v5.628h-5.285zM129.6 53.25h5.285v5.628h-5.285zM119.6 63.91h5.285v5.628h-5.285zM49.85 95.88h5.285v5.628h-5.285zM94.72 95.88h5.285v5.628h-5.285zM114.7 95.88h5.285v5.628h-5.285zM39.88 101.2h5.285v5.628h-5.285zM119.6 106.5h5.285v5.628h-5.285zM39.88 111.9h5.285v5.628h-5.285zM29.91 117.2h5.285v5.628h-5.285zM39.88 117.2h5.285v5.628h-5.285zM89.73 117.2h5.285v5.628h-5.285zM64.81 122.5h5.285v5.628h-5.285zM74.78 122.5h5.285v5.628h-5.285zM89.73 122.5h20.24v5.628h-20.24zM119.6 122.5h10.27v5.628h-10.27zM14.96 127.8h15.26v5.628h-15.26zM39.88 127.8h5.285v5.628h-5.285zM49.85 127.8h5.285v5.628h-5.285zM74.78 127.8h5.285v5.628h-5.285zM84.75 127.8h5.285v5.628h-5.285zM104.7 127.8h5.285v5.628h-5.285zM114.7 127.8h5.285v5.628h-5.285zM124.6 127.8h10.27v5.628h-10.27zM144.6 127.8h5.285v5.628h-5.285zM0 133.2h5.285v5.628h-5.285zM29.91 133.2h5.285v5.628h-5.285zM44.87 133.2h5.285v5.628h-5.285zM59.82 133.2h5.285v5.628h-5.285zM94.72 133.2h10.27v5.628h-10.27zM109.7 133.2h5.285v5.628h-5.285zM119.6 133.2h10.27v5.628h-10.27zM134.6 133.2h10.27v5.628h-10.27zM29.91 138.5h5.285v5.628h-5.285zM124.6 138.5h5.285v5.628h-5.285zM139.6 138.5h5.285v5.628h-5.285zM19.94 143.8h5.285v5.628h-5.285zM124.6 143.8h5.285v5.628h-5.285zM0 149.2h20.24v5.628h-20.24zM19.94 154.5h5.285v5.628h-5.285zM79.76 154.5h5.285v5.628h-5.285zM14.96 159.8h5.285v5.628h-5.285zM4.985 165.1h5.285v5.628h-5.285zM24.93 165.1h5.285v5.628h-5.285zM9.97 170.5h5.285v5.628h-5.285zM59.82 170.5h10.27v5.628h-10.27zM44.87 175.8h25.23v5.628h-25.23zM84.75 175.8h10.27v5.628h-10.27zM99.7 175.8h15.26v5.628h-15.26zM24.93 181.1h5.285v5.628h-5.285zM44.87 181.1h5.285v5.628h-5.285zM74.78 181.1h5.285v5.628h-5.285zM89.73 181.1h5.285v5.628h-5.285zM9.97 186.5h5.285v5.628h-5.285zM44.87 186.5h5.285v5.628h-5.285zM94.72 186.5h5.285v5.628h-5.285zM109.7 186.5h5.285v5.628h-5.285zM124.6 186.5h5.285v5.628h-5.285zM44.87 191.8h5.285v5.628h-5.285zM119.6 191.8h5.285v5.628h-5.285zM44.87 197.1h5.285v5.628h-5.285zM84.75 197.1h5.285v5.628h-5.285zM94.72 197.1h5.285v5.628h-5.285zM24.93 202.4h20.24v5.628h-20.24zM49.85 202.4h10.27v5.628h-10.27zM64.81 202.4h10.27v5.628h-10.27z"/>
<path fill="#cfb55c" d="M39.88 4.5h5.285v6.428h-5.285zM9.97 21.28h5.285v5.628h-5.285zM109.7 26.61h10.27v5.628h-10.27zM104.7 31.94h5.285v5.628h-5.285zM114.7 47.92h5.285v5.628h-5.285zM74.78 95.88h5.285v5.628h-5.285zM89.73 95.88h5.285v5.628h-5.285zM104.7 95.88h5.285v5.628h-5.285zM114.7 111.9h10.27v5.628h-10.27zM139.6 117.2h5.285v5.628h-5.285zM49.85 122.5h10.27v5.628h-10.27zM99.7 138.5h5.285v5.628h-5.285zM119.6 143.8h5.285v5.628h-5.285zM59.82 149.2h5.285v5.628h-5.285zM69.79 154.5h5.285v5.628h-5.285zM99.7 154.5h5.285v5.628h-5.285zM29.91 159.8h5.285v5.628h-5.285zM84.75 159.8h5.285v5.628h-5.285zM14.96 165.1h5.285v5.628h-5.285zM14.96 170.5h5.285v5.628h-5.285zM94.72 170.5h5.285v5.628h-5.285zM14.96 191.8h5.285v5.628h-5.285zM54.84 191.8h5.285v5.628h-5.285zM69.79 197.1h5.285v5.628h-5.285zM144.6 197.1h5.285v5.628h-5.285z"/>
<path fill="#d0b85e" d="M44.87 4.5h5.285v6.428h-5.285zM114.7 31.94h5.285v5.628h-5.285zM109.7 37.27h5.285v5.628h-5.285zM109.7 42.6h5.285v5.628h-5.285zM114.7 58.58h5.285v5.628h-5.285zM114.7 63.91h5.285v5.628h-5.285zM114.7 101.2h5.285v5.628h-5.285zM129.6 106.5h5.285v5.628h-5.285zM69.79 159.8h5.285v5.628h-5.285zM19.94 165.1h5.285v5.628h-5.285zM64.81 165.1h5.285v5.628h-5.285zM94.72 165.1h10.27v5.628h-10.27zM134.6 165.1h5.285v5.628h-5.285zM109.7 170.5h5.285v5.628h-5.285zM124.6 170.5h5.285v5.628h-5.285zM34.9 197.1h5.285v5.628h-5.285zM139.6 197.1h5.285v5.628h-5.285z"/>
<path fill="#d0b65d" d="M49.85 4.5h5.285v6.428h-5.285zM39.88 10.63h5.285v5.628h-5.285zM49.85 10.63h5.285v5.628h-5.285zM9.97 26.61h5.285v5.628h-5.285zM119.6 26.61h5.285v5.628h-5.285zM119.6 31.94h10.27v5.628h-10.27zM84.75 37.27h10.27v5.628h-10.27zM104.7 37.27h5.285v5.628h-5.285zM114.7 37.27h15.26v5.628h-15.26zM114.7 42.6h10.27v5.628h-10.27zM54.84 106.5h5.285v5.628h-5.285zM134.6 106.5h5.285v5.628h-5.285zM64.81 117.2h5.285v5.628h-5.285zM114.7 138.5h5.285v5.628h-5.285zM124.6 149.2h5.285v5.628h-5.285zM74.78 159.8h5.285v5.628h-5.285zM99.7 159.8h5.285v5.628h-5.285zM104.7 165.1h5.285v5.628h-5.285zM34.9 186.5h5.285v5.628h-5.285zM134.6 186.5h5.285v5.628h-5.285zM19.94 197.1h5.285v5.628h-5.285zM114.7 197.1h5.285v5.628h-5.285z"/>
<path fill="#ceb45b" d="M54.84 4.5h5.285v6.428h-5.285zM54.84 10.63h5.285v5.628h-5.285zM114.7 21.28h5.285v5.628h-5.285zM104.7 26.61h5.285v5.628h-5.285zM124.6 26.61h5.285v5.628h-5.285zM89.73 31.94h5.285v5.628h-5.285zM124.6 47.92h5.285v5.628h-5.285zM114.7 69.24h5.285v5.628h-5.285zM49.85 106.5h5.285v5.628h-5.285zM84.75 117.2h5.285v5.628h-5.285zM49.85 143.8h5.285v5.628h-5.285zM99.7 149.2h5.285v5.628h-5.285zM134.6 149.2h5.285v5.628h-5.285zM29.91 154.5h5.285v5.628h-5.285zM134.6 154.5h5.285v5.628h-5.285zM89.73 159.8h5.285v5.628h-5.285zM19.94 170.5h5.285v5.628h-5.285zM99.7 170.5h10.27v5.628h-10.27zM129.6 170.5h5.285v5.628h-5.285zM79.76 175.8h5.285v5.628h-5.285zM39.88 186.5h5.285v5.628h-5.285zM59.82 191.8h10.27v5.628h-10.27zM104.7 202.4h5.285v5.628h-5.285z"/>
<path fill="#d1b95f" d="M44.87 10.63h5.285v5.628h-5.285zM94.72 31.94h10.27v5.628h-10.27zM109.7 31.94h5.285v5.628h-5.285zM94.72 37.27h10.27v5.628h-10.27zM109.7 47.92h5.285v5.628h-5.285zM109.7 53.25h5.285v5.628h-5.285zM109.7 69.24h5.285v5.628h-5.285zM99.7 101.2h5.285v5.628h-5.285zM44.87 111.9h5.285v5.628h-5.285zM94.72 111.9h10.27v5.628h-10.27zM124.6 117.2h5.285v5.628h-5.285zM99.7 143.8h5.285v5.628h-5.285zM104.7 149.2h5.285v5.628h-5.285zM119.6 149.2h5.285v5.628h-5.285zM104.7 154.5h5.285v5.628h-5.285zM79.76 159.8h5.285v5.628h-5.285zM134.6 159.8h5.285v5.628h-5.285zM39.88 165.1h5.285v5.628h-5.285zM69.79 170.5h5.285v5.628h-5.285zM114.7 170.5h5.285v5.628h-5.285zM144.6 186.5h5.285v5.628h-5.285zM39.88 191.8h5.285v5.628h-5.285zM149.6 191.8h5.285v5.628h-5.285zM109.7 202.4h5.285v5.628h-5.285z"/>
<path fill="#ceb35a" d="M59.82 10.63h5.285v5.628h-5.285zM124.6 21.28h5.285v5.628h-5.285zM24.93 31.94h5.285v5.628h-5.285zM84.75 31.94h5.285v5.628h-5.285zM129.6 31.94h5.285v5.628h-5.285zM79.76 37.27h5.285v5.628h-5.285zM124.6 42.6h5.285v5.628h-5.285zM119.6 47.92h5.285v5.628h-5.285zM64.81 95.88h10.27v5.628h-10.27zM79.76 95.88h10.27v5.628h-10.27zM109.7 95.88h5.285v5.628h-5.285zM54.84 101.2h5.285v5.628h-5.285zM124.6 106.5h5.285v5.628h-5.285zM69.79 117.2h5.285v5.628h-5.285zM79.76 117.2h5.285v5.628h-5.285zM144.6 117.2h5.285v5.628h-5.285zM59.82 122.5h5.285v5.628h-5.285zM54.84 133.2h5.285v5.628h-5.285zM69.79 133.2h5.285v5.628h-5.285zM104.7 133.2h5.285v5.628h-5.285zM64.81 138.5h5.285v5.628h-5.285zM74.78 138.5h5.285v5.628h-5.285zM89.73 143.8h5.285v5.628h-5.285zM24.93 149.2h5.285v5.628h-5.285zM34.9 149.2h5.285v5.628h-5.285zM64.81 149.2h10.27v5.628h-10.27zM74.78 154.5h5.285v5.628h-5.285zM94.72 154.5h5.285v5.628h-5.285zM19.94 159.8h10.27v5.628h-10.27zM94.72 159.8h5.285v5.628h-5.285zM139.6 159.8h5.285v5.628h-5.285zM29.91 165.1h10.27v5.628h-10.27zM39.88 170.5h5.285v5.628h-5.285zM49.85 170.5h10.27v5.628h-10.27zM114.7 175.8h5.285v5.628h-5.285zM19.94 186.5h5.285v5.628h-5.285zM49.85 191.8h5.285v5.628h-5.285zM129.6 191.8h5.285v5.628h-5.285zM39.88 197.1h5.285v5.628h-5.285zM49.85 197.1h5.285v5.628h-5.285zM134.6 197.1h5.285v5.628h-5.285zM114.7 202.4h5.285v5.628h-5.285z"/>
<path fill="#ccb058" d="M119.6 10.63h5.285v5.628h-5.285zM29.91 26.61h5.285v5.628h-5.285zM99.7 26.61h5.285v5.628h-5.285zM14.96 37.27h5.285v5.628h-5.285zM139.6 37.27h5.285v5.628h-5.285zM129.6 42.6h5.285v5.628h-5.285zM104.7 47.92h5.285v5.628h-5.285zM104.7 53.25h5.285v5.628h-5.285zM119.6 53.25h5.285v5.628h-5.285zM129.6 58.58h5.285v5.628h-5.285zM104.7 69.24h5.285v5.628h-5.285zM109.7 74.56h10.27v5.628h-10.27zM59.82 90.55h10.27v5.628h-10.27zM74.78 90.55h5.285v5.628h-5.285zM24.93 95.88h5.285v5.628h-5.285zM59.82 95.88h5.285v5.628h-5.285zM14.96 101.2h5.285v5.628h-5.285zM119.6 101.2h5.285v5.628h-5.285zM34.9 106.5h5.285v5.628h-5.285zM44.87 106.5h5.285v5.628h-5.285zM149.6 106.5h5.285v5.628h-5.285zM0 111.9h5.285v5.628h-5.285zM149.6 111.9h5.285v5.628h-5.285zM4.985 117.2h5.285v5.628h-5.285zM24.93 117.2h5.285v5.628h-5.285zM0 122.5h5.285v5.628h-5.285zM9.97 122.5h5.285v5.628h-5.285zM29.91 122.5h10.27v5.628h-10.27zM69.79 122.5h5.285v5.628h-5.285zM84.75 122.5h5.285v5.628h-5.285zM109.7 122.5h5.285v5.628h-5.285zM129.6 122.5h15.26v5.628h-15.26zM69.79 127.8h5.285v5.628h-5.285zM89.73 127.8h5.285v5.628h-5.285zM134.6 127.8h5.285v5.628h-5.285zM24.93 133.2h5.285v5.628h-5.285zM74.78 133.2h10.27v5.628h-10.27zM89.73 133.2h5.285v5.628h-5.285zM114.7 133.2h5.285v5.628h-5.285zM144.6 133.2h5.285v5.628h-5.285zM0 138.5h5.285v5.628h-5.285zM9.97 138.5h5.285v5.628h-5.285zM34.9 138.5h5.285v5.628h-5.285zM49.85 138.5h5.285v5.628h-5.285zM59.82 138.5h5.285v5.628h-5.285zM69.79 138.5h5.285v5.628h-5.285zM79.76 138.5h5.285v5.628h-5.285zM119.6 138.5h5.285v5.628h-5.285zM9.97 143.8h5.285v5.628h-5.285zM24.93 143.8h5.285v5.628h-5.285zM34.9 143.8h5.285v5.628h-5.285zM69.79 143.8h5.285v5.628h-5.285zM79.76 143.8h10.27v5.628h-10.27zM129.6 143.8h5.285v5.628h-5.285zM29.91 149.2h5.285v5.628h-5.285zM74.78 149.2h5.285v5.628h-5.285zM94.72 149.2h5.285v5.628h-5.285zM9.97 154.5h5.285v5.628h-5.285zM84.75 154.5h10.27v5.628h-10.27zM4.985 159.8h5.285v5.628h-5.285zM34.9 170.5h5.285v5.628h-5.285zM139.6 170.5h5.285v5.628h-5.285zM0 175.8h10.27v5.628h-10.27zM29.91 175.8h5.285v5.628h-5.285zM69.79 175.8h5.285v5.628h-5.285zM134.6 175.8h10.27v5.628h-10.27zM149.6 175.8h5.285v5.628h-5.285zM4.985 181.1h5.285v5.628h-5.285zM14.96 181.1h10.27v5.628h-10.27zM54.84 181.1h15.26v5.628h-15.26zM79.76 181.1h5.285v5.628h-5.285zM119.6 181.1h5.285v5.628h-5.285zM139.6 181.1h5.285v5.628h-5.285zM69.79 186.5h10.27v5.628h-10.27zM114.7 186.5h5.285v5.628h-5.285zM129.6 186.5h5.285v5.628h-5.285zM4.985 191.8h10.27v5.628h-10.27zM69.79 191.8h5.285v5.628h-5.285zM89.73 191.8h5.285v5.628h-5.285zM154.5 191.8h5.285v5.628h-5.285zM79.76 197.1h5.285v5.628h-5.285zM99.7 197.1h5.285v5.628h-5.285zM19.94 202.4h5.285v5.628h-5.285zM44.87 202.4h5.285v5.628h-5.285zM59.82 202.4h5.285v5.628h-5.285zM74.78 202.4h5.285v5.628h-5.285zM124.6 202.4h5.285v5.628h-5.285zM139.6 202.4h5.285v5.628h-5.285z"/>
<path fill="#ccaf57" d="M4.985 15.96h5.285v5.628h-5.285zM24.93 15.96h5.285v5.628h-5.285zM34.9 15.96h25.23v5.628h-25.23zM89.73 15.96h5.285v5.628h-5.285zM99.7 15.96h5.285v5.628h-5.285zM4.985 21.28h5.285v5.628h-5.285zM94.72 21.28h5.285v5.628h-5.285zM79.76 26.61h5.285v5.628h-5.285zM134.6 26.61h5.285v5.628h-5.285zM64.81 31.94h5.285v5.628h-5.285zM74.78 31.94h5.285v5.628h-5.285zM139.6 31.94h5.285v5.628h-5.285zM9.97 37.27h5.285v5.628h-5.285zM19.94 37.27h5.285v5.628h-5.285zM74.78 37.27h5.285v5.628h-5.285zM134.6 37.27h5.285v5.628h-5.285zM84.75 42.6h15.26v5.628h-15.26zM139.6 42.6h5.285v5.628h-5.285zM99.7 47.92h5.285v5.628h-5.285zM34.9 53.25h5.285v5.628h-5.285zM139.6 53.25h5.285v5.628h-5.285zM64.81 58.58h5.285v5.628h-5.285zM99.7 58.58h5.285v5.628h-5.285zM119.6 58.58h10.27v5.628h-10.27zM144.6 58.58h5.285v5.628h-5.285zM0 63.91h5.285v5.628h-5.285zM89.73 69.24h5.285v5.628h-5.285zM124.6 69.24h10.27v5.628h-10.27zM24.93 74.56h5.285v5.628h-5.285zM44.87 74.56h5.285v5.628h-5.285zM79.76 74.56h5.285v5.628h-5.285zM89.73 74.56h20.24v5.628h-20.24zM119.6 74.56h5.285v5.628h-5.285zM129.6 74.56h5.285v5.628h-5.285zM144.6 74.56h15.26v5.628h-15.26zM24.93 79.89h10.27v5.628h-10.27zM54.84 79.89h5.285v5.628h-5.285zM89.73 79.89h5.285v5.628h-5.285zM104.7 79.89h5.285v5.628h-5.285zM4.985 85.22h10.27v5.628h-10.27zM44.87 85.22h5.285v5.628h-5.285zM54.84 85.22h20.24v5.628h-20.24zM119.6 85.22h10.27v5.628h-10.27zM149.6 85.22h5.285v5.628h-5.285zM4.985 90.55h5.285v5.628h-5.285zM14.96 90.55h5.285v5.628h-5.285zM24.93 90.55h5.285v5.628h-5.285zM34.9 90.55h5.285v5.628h-5.285zM84.75 90.55h5.285v5.628h-5.285zM94.72 90.55h15.26v5.628h-15.26zM114.7 90.55h10.27v5.628h-10.27zM139.6 90.55h5.285v5.628h-5.285zM154.5 90.55h5.285v5.628h-5.285zM14.96 95.88h5.285v5.628h-5.285zM34.9 95.88h5.285v5.628h-5.285zM119.6 95.88h5.285v5.628h-5.285zM144.6 95.88h5.285v5.628h-5.285zM0 101.2h5.285v5.628h-5.285zM9.97 101.2h5.285v5.628h-5.285zM29.91 101.2h10.27v5.628h-10.27zM44.87 101.2h5.285v5.628h-5.285zM139.6 101.2h5.285v5.628h-5.285zM4.985 106.5h30.21v5.628h-30.21zM154.5 106.5h5.285v5.628h-5.285zM19.94 111.9h10.27v5.628h-10.27zM154.5 111.9h5.285v5.628h-5.285zM0 117.2h5.285v5.628h-5.285zM19.94 117.2h5.285v5.628h-5.285zM34.9 117.2h5.285v5.628h-5.285zM99.7 117.2h5.285v5.628h-5.285zM114.7 117.2h5.285v5.628h-5.285zM154.5 117.2h5.285v5.628h-5.285zM14.96 122.5h5.285v5.628h-5.285zM24.93 122.5h5.285v5.628h-5.285zM39.88 122.5h5.285v5.628h-5.285zM144.6 122.5h5.285v5.628h-5.285zM0 127.8h5.285v5.628h-5.285zM29.91 127.8h5.285v5.628h-5.285zM44.87 127.8h5.285v5.628h-5.285zM94.72 127.8h10.27v5.628h-10.27zM9.97 133.2h15.26v5.628h-15.26zM39.88 133.2h5.285v5.628h-5.285zM64.81 133.2h5.285v5.628h-5.285zM84.75 133.2h5.285v5.628h-5.285zM14.96 138.5h15.26v5.628h-15.26zM54.84 138.5h5.285v5.628h-5.285zM84.75 138.5h10.27v5.628h-10.27zM129.6 138.5h5.285v5.628h-5.285zM4.985 143.8h5.285v5.628h-5.285zM14.96 143.8h5.285v5.628h-5.285zM79.76 149.2h5.285v5.628h-5.285zM89.73 149.2h5.285v5.628h-5.285zM0 154.5h10.27v5.628h-10.27zM0 159.8h5.285v5.628h-5.285zM14.96 175.8h5.285v5.628h-5.285zM34.9 175.8h5.285v5.628h-5.285zM129.6 175.8h5.285v5.628h-5.285zM29.91 181.1h10.27v5.628h-10.27zM49.85 181.1h5.285v5.628h-5.285zM94.72 181.1h5.285v5.628h-5.285zM129.6 181.1h10.27v5.628h-10.27zM144.6 181.1h10.27v5.628h-10.27zM54.84 186.5h10.27v5.628h-10.27zM89.73 186.5h5.285v5.628h-5.285zM99.7 186.5h5.285v5.628h-5.285zM0 191.8h5.285v5.628h-5.285zM84.75 191.8h5.285v5.628h-5.285zM94.72 191.8h5.285v5.628h-5.285zM124.6 191.8h5.285v5.628h-5.285zM9.97 197.1h5.285v5.628h-5.285zM74.78 197.1h5.285v5.628h-5.285zM124.6 197.1h5.285v5.628h-5.285zM154.5 197.1h5.285v5.628h-5.285zM79.76 202.4h5.285v5.628h-5.285zM94.72 202.4h10.27v5.628h-10.27zM154.5 202.4h5.285v5.628h-5.285z"/>
<path fill="#cdb259" d="M19.94 15.96h5.285v5.628h-5.285zM119.6 15.96h10.27v5.628h-10.27zM109.7 21.28h5.285v5.628h-5.285zM129.6 21.28h5.285v5.628h-5.285zM129.6 26.61h5.285v5.628h-5.285zM9.97 31.94h5.285v5.628h-5.285zM129.6 37.27h5.285v5.628h-5.285zM99.7 42.6h10.27v5.628h-10.27zM129.6 47.92h5.285v5.628h-5.285zM124.6 53.25h5.285v5.628h-5.285zM104.7 58.58h5.285v5.628h-5.285zM104.7 63.91h5.285v5.628h-5.285zM99.7 95.88h5.285v5.628h-5.285zM49.85 101.2h5.285v5.628h-5.285zM139.6 106.5h5.285v5.628h-5.285zM144.6 111.9h5.285v5.628h-5.285zM74.78 117.2h5.285v5.628h-5.285zM94.72 117.2h5.285v5.628h-5.285zM104.7 117.2h10.27v5.628h-10.27zM119.6 117.2h5.285v5.628h-5.285zM44.87 122.5h5.285v5.628h-5.285zM79.76 122.5h5.285v5.628h-5.285zM54.84 127.8h15.26v5.628h-15.26zM79.76 127.8h5.285v5.628h-5.285zM34.9 133.2h5.285v5.628h-5.285zM49.85 133.2h5.285v5.628h-5.285zM129.6 133.2h5.285v5.628h-5.285zM39.88 138.5h10.27v5.628h-10.27zM94.72 138.5h5.285v5.628h-5.285zM29.91 143.8h5.285v5.628h-5.285zM39.88 143.8h10.27v5.628h-10.27zM54.84 143.8h15.26v5.628h-15.26zM74.78 143.8h5.285v5.628h-5.285zM94.72 143.8h5.285v5.628h-5.285zM134.6 143.8h5.285v5.628h-5.285zM19.94 149.2h5.285v5.628h-5.285zM84.75 149.2h5.285v5.628h-5.285zM129.6 149.2h5.285v5.628h-5.285zM24.93 154.5h5.285v5.628h-5.285zM44.87 170.5h5.285v5.628h-5.285zM134.6 170.5h5.285v5.628h-5.285zM19.94 175.8h5.285v5.628h-5.285zM39.88 175.8h5.285v5.628h-5.285zM74.78 175.8h5.285v5.628h-5.285zM94.72 175.8h5.285v5.628h-5.285zM119.6 175.8h10.27v5.628h-10.27zM39.88 181.1h5.285v5.628h-5.285zM109.7 181.1h10.27v5.628h-10.27zM14.96 186.5h5.285v5.628h-5.285zM104.7 186.5h5.285v5.628h-5.285zM149.6 186.5h5.285v5.628h-5.285zM99.7 191.8h5.285v5.628h-5.285zM114.7 191.8h5.285v5.628h-5.285zM14.96 197.1h5.285v5.628h-5.285zM149.6 197.1h5.285v5.628h-5.285z"/>
<path fill="#d4bf64" d="M14.96 21.28h5.285v5.628h-5.285zM89.73 101.2h5.285v5.628h-5.285zM99.7 106.5h5.285v5.628h-5.285zM49.85 111.9h5.285v5.628h-5.285zM109.7 138.5h5.285v5.628h-5.285zM109.7 191.8h5.285v5.628h-5.285zM59.82 197.1h5.285v5.628h-5.285z"/>
<path fill="#d4c065" d="M19.94 21.28h5.285v5.628h-5.285zM104.7 101.2h5.285v5.628h-5.285zM54.84 111.9h5.285v5.628h-5.285zM129.6 117.2h5.285v5.628h-5.285z"/>
<path fill="#d1ba60" d="M24.93 21.28h5.285v5.628h-5.285zM114.7 53.25h5.285v5.628h-5.285zM59.82 101.2h5.285v5.628h-5.285zM69.79 111.9h5.285v5.628h-5.285zM44.87 117.2h5.285v5.628h-5.285zM64.81 154.5h5.285v5.628h-5.285zM69.79 165.1h5.285v5.628h-5.285zM24.93 186.5h5.285v5.628h-5.285zM104.7 191.8h5.285v5.628h-5.285zM24.93 197.1h5.285v5.628h-5.285zM64.81 197.1h5.285v5.628h-5.285z"/>
<path fill="#d7c56a" d="M14.96 26.61h5.285v5.628h-5.285zM74.78 101.2h5.285v5.628h-5.285zM89.73 106.5h5.285v5.628h-5.285zM104.7 143.8h5.285v5.628h-5.285zM39.88 154.5h5.285v5.628h-5.285zM39.88 159.8h5.285v5.628h-5.285zM124.6 165.1h5.285v5.628h-5.285zM24.93 191.8h5.285v5.628h-5.285z"/>
<path fill="#d7c66b" d="M19.94 26.61h5.285v5.628h-5.285zM79.76 101.2h5.285v5.628h-5.285zM69.79 106.5h5.285v5.628h-5.285zM49.85 117.2h5.285v5.628h-5.285zM119.6 154.5h5.285v5.628h-5.285zM114.7 165.1h5.285v5.628h-5.285zM29.91 191.8h5.285v5.628h-5.285z"/>
<path fill="#d2bc62" d="M24.93 26.61h5.285v5.628h-5.285zM84.75 111.9h10.27v5.628h-10.27zM104.7 111.9h10.27v5.628h-10.27zM139.6 111.9h5.285v5.628h-5.285zM114.7 149.2h5.285v5.628h-5.285zM129.6 154.5h5.285v5.628h-5.285zM64.81 159.8h5.285v5.628h-5.285zM74.78 170.5h5.285v5.628h-5.285z"/>
<path fill="#d2bb61" d="M14.96 31.94h10.27v5.628h-10.27zM59.82 106.5h5.285v5.628h-5.285zM114.7 106.5h5.285v5.628h-5.285zM64.81 111.9h5.285v5.628h-5.285zM74.78 111.9h5.285v5.628h-5.285zM39.88 149.2h5.285v5.628h-5.285zM54.84 149.2h5.285v5.628h-5.285zM34.9 154.5h5.285v5.628h-5.285zM34.9 159.8h5.285v5.628h-5.285zM104.7 159.8h5.285v5.628h-5.285zM44.87 165.1h5.285v5.628h-5.285zM54.84 165.1h10.27v5.628h-10.27zM119.6 170.5h5.285v5.628h-5.285zM29.91 186.5h5.285v5.628h-5.285zM134.6 191.8h5.285v5.628h-5.285zM54.84 197.1h5.285v5.628h-5.285z"/>
<path fill="#d3be63" d="M109.7 58.58h5.285v5.628h-5.285zM109.7 63.91h5.285v5.628h-5.285zM64.81 101.2h5.285v5.628h-5.285zM59.82 111.9h5.285v5.628h-5.285zM79.76 111.9h5.285v5.628h-5.285zM124.6 111.9h5.285v5.628h-5.285zM59.82 117.2h5.285v5.628h-5.285zM44.87 149.2h10.27v5.628h-10.27zM109.7 149.2h5.285v5.628h-5.285zM109.7 154.5h5.285v5.628h-5.285zM129.6 165.1h5.285v5.628h-5.285zM89.73 170.5h5.285v5.628h-5.285zM34.9 191.8h5.285v5.628h-5.285z"/>
<path fill="#d5c166" d="M69.79 101.2h5.285v5.628h-5.285zM64.81 106.5h5.285v5.628h-5.285zM94.72 106.5h5.285v5.628h-5.285zM109.7 159.8h5.285v5.628h-5.285zM89.73 165.1h5.285v5.628h-5.285z"/>
<path fill="#d6c368" d="M84.75 101.2h5.285v5.628h-5.285zM59.82 154.5h5.285v5.628h-5.285zM59.82 159.8h5.285v5.628h-5.285z"/>
<path fill="#d3bd62" d="M94.72 101.2h5.285v5.628h-5.285zM104.7 138.5h5.285v5.628h-5.285zM114.7 143.8h5.285v5.628h-5.285zM49.85 165.1h5.285v5.628h-5.285zM109.7 165.1h5.285v5.628h-5.285zM139.6 186.5h5.285v5.628h-5.285zM19.94 191.8h5.285v5.628h-5.285zM29.91 197.1h5.285v5.628h-5.285z"/>
<path fill="#d5c267" d="M109.7 101.2h5.285v5.628h-5.285zM134.6 117.2h5.285v5.628h-5.285zM129.6 159.8h5.285v5.628h-5.285zM79.76 170.5h5.285v5.628h-5.285zM104.7 197.1h5.285v5.628h-5.285z"/>
<path fill="#dacb71" d="M74.78 106.5h5.285v5.628h-5.285z"/>
<path fill="#dacb72" d="M79.76 106.5h5.285v5.628h-5.285zM109.7 143.8h5.285v5.628h-5.285zM44.87 154.5h5.285v5.628h-5.285zM109.7 197.1h5.285v5.628h-5.285z"/>
<path fill="#d9c86e" d="M84.75 106.5h5.285v5.628h-5.285zM84.75 165.1h5.285v5.628h-5.285zM119.6 165.1h5.285v5.628h-5.285z"/>
<path fill="#d8c76d" d="M104.7 106.5h10.27v5.628h-10.27zM129.6 111.9h5.285v5.628h-5.285z"/>
<path fill="#d8c66c" d="M134.6 111.9h5.285v5.628h-5.285zM54.84 117.2h5.285v5.628h-5.285z"/>
<path fill="#ded37a" d="M49.85 154.5h5.285v5.628h-5.285z"/>
<path fill="#dccf76" d="M54.84 154.5h5.285v5.628h-5.285zM44.87 159.8h5.285v5.628h-5.285z"/>
<path fill="#d6c469" d="M114.7 154.5h5.285v5.628h-5.285zM124.6 154.5h5.285v5.628h-5.285zM74.78 165.1h5.285v5.628h-5.285zM84.75 170.5h5.285v5.628h-5.285zM139.6 191.8h10.27v5.628h-10.27z"/>
<path fill="#ddd178" d="M49.85 159.8h5.285v5.628h-5.285z"/>
<path fill="#dcce75" d="M54.84 159.8h5.285v5.628h-5.285zM119.6 159.8h5.285v5.628h-5.285z"/>
<path fill="#d9c96f" d="M114.7 159.8h5.285v5.628h-5.285zM124.6 159.8h5.285v5.628h-5.285zM79.76 165.1h5.285v5.628h-5.285z"/>
</g>
<path d="M0.20 0L6.00 209.00M31.64 0L37.80 209.00M63.08 0L69.00 209.00M94.52 0L100.00 209.00M125.96 0L130.90 209.00M157.40 0L161.70 209.00M188.84 0L192.20 209.00M0 19.10L219.00 13.50M0 45.97L219.00 40.37M0 72.84L219.00 67.24M0 99.71L219.00 94.11M0 126.58L219.00 120.98M0 153.45L219.00 147.85M0 180.32L219.00 174.72M0 207.19L219.00 201.59" fill="none" stroke="#b0b0b0" stroke-width="1.12"/>
<path d="M218.5 131.1C218.3 131.6 217.8 132.9 217.1 133.9C216.4 134.9 215.3 136.5 214.2 137.1C213.1 137.7 211.8 137.8 210.6 137.5C209.4 137.2 208.1 136.2 207.1 135.4C206.2 134.6 205.1 133.5 204.9 132.5C204.6 131.5 205.2 130.7 205.6 129.6C206.0 128.5 207.0 127.3 207.1 126.1C207.2 124.9 206.3 123.7 206.4 122.5C206.5 121.3 207.2 119.9 207.8 118.9C208.4 117.9 209.4 117.3 210.1 116.3C210.8 115.4 211.5 114.3 211.8 113.2C212.1 112.1 212.3 110.5 212.1 109.6C211.9 108.6 211.2 107.7 210.6 107.5C210.1 107.3 209.3 107.9 208.8 108.6C208.3 109.3 208.3 111.1 207.8 111.8C207.3 112.5 206.4 113.1 205.9 112.9C205.4 112.7 204.8 111.4 204.9 110.4C205.0 109.4 206.5 108.1 206.6 106.8C206.7 105.5 206.1 103.9 205.6 102.5C205.1 101.1 204.3 99.6 203.5 98.2C202.7 96.8 201.3 95.2 200.6 93.9C200.0 92.6 199.6 91.7 199.6 90.4C199.6 89.1 200.2 88.0 200.6 86.1C201.0 84.2 201.5 81.8 202.1 78.9C202.7 76.0 203.5 72.2 204.2 68.9C204.9 65.6 205.8 61.9 206.4 58.9C207.0 55.9 207.3 53.1 207.8 51.1C208.3 49.1 208.6 48.0 209.2 46.8C209.8 45.6 211.3 44.8 211.6 43.9C211.9 43.0 211.6 42.0 211.1 41.4C210.6 40.8 209.8 40.1 208.8 40.1C207.8 40.1 206.5 40.9 204.9 41.4C203.3 41.9 201.1 42.0 199.2 42.9C197.3 43.8 195.3 45.1 193.5 46.8C191.7 48.5 190.3 50.5 188.5 53.2C186.7 55.9 184.6 59.6 182.8 63.2C181.0 66.8 179.1 70.5 177.8 74.6C176.5 78.6 176.0 83.0 174.9 87.5C173.7 92.0 172.3 97.6 170.9 101.8C169.5 106.1 168.0 110.3 166.6 113.0C165.3 115.7 163.9 116.6 162.8 118.2C161.7 119.8 160.5 120.8 159.9 122.5C159.2 124.2 159.4 126.3 158.9 128.2C158.4 130.1 158.0 132.0 157.1 133.9C156.2 135.8 154.8 138.1 153.5 139.6C152.2 141.1 150.2 142.1 149.2 143.2C148.3 144.3 147.8 144.9 147.8 146.1C147.8 147.3 148.7 148.9 149.2 150.4C149.7 151.9 150.2 153.7 150.6 155.4C151.0 157.1 151.5 158.7 151.4 160.4C151.3 162.1 149.5 164.3 149.9 165.4C150.2 166.5 152.2 166.1 153.5 166.8C154.8 167.5 156.5 168.4 157.8 169.6C159.1 170.8 160.3 172.2 161.4 173.9C162.5 175.6 163.3 177.5 164.2 179.6C165.2 181.8 166.3 184.4 167.1 186.8C167.9 189.2 168.5 191.5 168.9 193.9C169.3 196.3 169.3 198.5 169.5 201.1C169.7 203.7 169.8 208.1 169.9 209.5" fill="none" stroke="#808080" stroke-width="1.4" stroke-linejoin="round"/>
</g>
<rect x="0" y="0" width="219" height="209" fill="none" stroke="#000" stroke-width="1.1"/>
</g>
<text x="587.70" y="367.25" font-size="17.00" text-anchor="middle" textLength="95.0" lengthAdjust="spacingAndGlyphs">v std. [m/s]</text>
<text x="479.50" y="385.75" font-size="14.10" text-anchor="middle" textLength="53.0" lengthAdjust="spacingAndGlyphs">112.5°E</text>
<text x="485.50" y="622.75" font-size="14.10" text-anchor="middle" textLength="53.0" lengthAdjust="spacingAndGlyphs">112.5°E</text>
<text x="541.75" y="385.75" font-size="14.10" text-anchor="middle" textLength="40.0" lengthAdjust="spacingAndGlyphs">113°E</text>
<text x="547.75" y="622.75" font-size="14.10" text-anchor="middle" textLength="40.0" lengthAdjust="spacingAndGlyphs">113°E</text>
<text x="604.00" y="385.75" font-size="14.10" text-anchor="middle" textLength="53.0" lengthAdjust="spacingAndGlyphs">113.5°E</text>
<text x="609.50" y="622.75" font-size="14.10" text-anchor="middle" textLength="53.0" lengthAdjust="spacingAndGlyphs">113.5°E</text>
<text x="666.75" y="385.75" font-size="14.10" text-anchor="middle" textLength="40.0" lengthAdjust="spacingAndGlyphs">114°E</text>
<text x="670.50" y="622.75" font-size="14.10" text-anchor="middle" textLength="40.0" lengthAdjust="spacingAndGlyphs">114°E</text>
<text x="471.00" y="420.05" font-size="14.10" text-anchor="end" textLength="46.4" lengthAdjust="spacingAndGlyphs">21.6°S</text>
<text x="471.00" y="446.92" font-size="14.10" text-anchor="end" textLength="46.4" lengthAdjust="spacingAndGlyphs">21.8°S</text>
<text x="471.00" y="473.79" font-size="14.10" text-anchor="end" textLength="32.3" lengthAdjust="spacingAndGlyphs">22°S</text>
<text x="471.00" y="500.66" font-size="14.10" text-anchor="end" textLength="46.4" lengthAdjust="spacingAndGlyphs">22.2°S</text>
<text x="471.00" y="527.53" font-size="14.10" text-anchor="end" textLength="46.4" lengthAdjust="spacingAndGlyphs">22.4°S</text>
<text x="471.00" y="554.40" font-size="14.10" text-anchor="end" textLength="46.4" lengthAdjust="spacingAndGlyphs">22.6°S</text>
<text x="471.00" y="581.27" font-size="14.10" text-anchor="end" textLength="46.4" lengthAdjust="spacingAndGlyphs">22.8°S</text>
<text x="471.00" y="608.14" font-size="14.10" text-anchor="end" textLength="32.3" lengthAdjust="spacingAndGlyphs">23°S</text>
<rect x="711.55" y="476.5" width="2.1" height="49.0" fill="url(#g4)" stroke="#000" stroke-width="1.1"/>
<text x="724.20" y="481.55" font-size="14.10" text-anchor="start" textLength="19.6" lengthAdjust="spacingAndGlyphs">0.5</text>
<text x="724.20" y="530.55" font-size="14.10" text-anchor="start" textLength="19.6" lengthAdjust="spacingAndGlyphs">0.0</text>
<path d="M714.20 476.50h4.7M714.20 525.50h4.7" stroke="#000" stroke-width="1.15" fill="none"/>
<g transform="translate(806.5 396.5)">
<g clip-path="url(#clip)">
<rect x="0" y="0" width="219" height="209" fill="#97b6e1"/>
<path d="M170 209 L170 200 L219 196 L219 209 Z" fill="#efefdb"/>
<rect x="214" y="131.5" width="6" height="80" fill="#efefdb"/>
<g transform="matrix(1 -0.0258 0.0235 1 0 0)" shape-rendering="crispEdges">
<rect x="1.5" y="4.5" width="212.9" height="203.3" fill="#fef6f3"/>
<path fill="#f4f1ea" d="M0 4.5h10.27v6.428h-10.27zM14.96 4.5h5.285v6.428h-5.285zM0 15.96h5.285v5.628h-5.285zM14.96 15.96h5.285v5.628h-5.285zM189.4 26.61h5.285v5.628h-5.285zM0 37.27h5.285v5.628h-5.285zM54.84 42.6h5.285v5.628h-5.285zM4.985 47.92h10.27v5.628h-10.27zM29.91 53.25h5.285v5.628h-5.285zM59.82 53.25h5.285v5.628h-5.285zM79.76 53.25h5.285v5.628h-5.285zM114.7 53.25h5.285v5.628h-5.285zM34.9 58.58h5.285v5.628h-5.285zM54.84 58.58h5.285v5.628h-5.285zM119.6 58.58h10.27v5.628h-10.27zM69.79 63.91h10.27v5.628h-10.27zM89.73 63.91h5.285v5.628h-5.285zM154.5 63.91h5.285v5.628h-5.285zM24.93 69.24h5.285v5.628h-5.285zM74.78 69.24h5.285v5.628h-5.285zM99.7 69.24h5.285v5.628h-5.285zM154.5 69.24h5.285v5.628h-5.285zM4.985 74.56h5.285v5.628h-5.285zM24.93 74.56h5.285v5.628h-5.285zM49.85 74.56h5.285v5.628h-5.285zM59.82 74.56h5.285v5.628h-5.285zM84.75 74.56h5.285v5.628h-5.285zM0 85.22h5.285v5.628h-5.285zM34.9 85.22h5.285v5.628h-5.285zM49.85 85.22h5.285v5.628h-5.285zM74.78 90.55h5.285v5.628h-5.285zM89.73 90.55h10.27v5.628h-10.27zM4.985 95.88h5.285v5.628h-5.285zM29.91 101.2h5.285v5.628h-5.285zM14.96 106.5h5.285v5.628h-5.285zM44.87 106.5h5.285v5.628h-5.285zM4.985 111.9h5.285v5.628h-5.285zM24.93 111.9h5.285v5.628h-5.285zM29.91 117.2h5.285v5.628h-5.285zM14.96 122.5h5.285v5.628h-5.285zM29.91 122.5h5.285v5.628h-5.285zM24.93 127.8h5.285v5.628h-5.285zM44.87 127.8h5.285v5.628h-5.285zM54.84 127.8h10.27v5.628h-10.27zM9.97 133.2h5.285v5.628h-5.285zM0 143.8h5.285v5.628h-5.285zM4.985 149.2h5.285v5.628h-5.285zM0 159.8h5.285v5.628h-5.285zM39.88 165.1h5.285v5.628h-5.285zM59.82 165.1h5.285v5.628h-5.285zM34.9 181.1h5.285v5.628h-5.285zM44.87 181.1h5.285v5.628h-5.285zM4.985 186.5h5.285v5.628h-5.285zM0 197.1h5.285v5.628h-5.285zM54.84 202.4h5.285v5.628h-5.285zM104.7 202.4h5.285v5.628h-5.285z"/>
<path fill="#f2f0e8" d="M9.97 4.5h5.285v6.428h-5.285zM9.97 10.63h5.285v5.628h-5.285zM4.985 15.96h5.285v5.628h-5.285zM64.81 21.28h5.285v5.628h-5.285zM124.6 31.94h5.285v5.628h-5.285zM44.87 37.27h5.285v5.628h-5.285zM4.985 42.6h5.285v5.628h-5.285zM94.72 42.6h5.285v5.628h-5.285zM44.87 47.92h10.27v5.628h-10.27zM79.76 47.92h5.285v5.628h-5.285zM54.84 53.25h5.285v5.628h-5.285zM69.79 53.25h5.285v5.628h-5.285zM89.73 53.25h5.285v5.628h-5.285zM119.6 53.25h5.285v5.628h-5.285zM84.75 63.91h5.285v5.628h-5.285zM44.87 69.24h5.285v5.628h-5.285zM79.76 69.24h5.285v5.628h-5.285zM124.6 69.24h5.285v5.628h-5.285zM104.7 74.56h15.26v5.628h-15.26zM99.7 85.22h5.285v5.628h-5.285zM59.82 90.55h10.27v5.628h-10.27zM79.76 90.55h5.285v5.628h-5.285zM39.88 95.88h5.285v5.628h-5.285zM49.85 95.88h5.285v5.628h-5.285zM159.5 95.88h5.285v5.628h-5.285zM34.9 111.9h5.285v5.628h-5.285zM59.82 122.5h5.285v5.628h-5.285zM94.72 122.5h5.285v5.628h-5.285zM94.72 127.8h5.285v5.628h-5.285zM89.73 138.5h5.285v5.628h-5.285zM14.96 143.8h5.285v5.628h-5.285zM29.91 143.8h5.285v5.628h-5.285zM84.75 143.8h5.285v5.628h-5.285zM14.96 149.2h10.27v5.628h-10.27zM4.985 154.5h5.285v5.628h-5.285zM4.985 159.8h5.285v5.628h-5.285zM0 165.1h5.285v5.628h-5.285zM34.9 165.1h5.285v5.628h-5.285zM54.84 175.8h5.285v5.628h-5.285zM49.85 181.1h5.285v5.628h-5.285zM9.97 186.5h5.285v5.628h-5.285zM44.87 186.5h5.285v5.628h-5.285zM19.94 197.1h5.285v5.628h-5.285zM29.91 197.1h5.285v5.628h-5.285zM39.88 197.1h5.285v5.628h-5.285zM49.85 197.1h5.285v5.628h-5.285zM64.81 197.1h5.285v5.628h-5.285zM119.6 197.1h5.285v5.628h-5.285zM29.91 202.4h5.285v5.628h-5.285zM39.88 202.4h10.27v5.628h-10.27z"/>
<path fill="#f3f0e9" d="M19.94 4.5h5.285v6.428h-5.285zM69.79 4.5h5.285v6.428h-5.285zM89.73 4.5h5.285v6.428h-5.285zM14.96 10.63h5.285v5.628h-5.285zM69.79 31.94h5.285v5.628h-5.285zM79.76 37.27h5.285v5.628h-5.285zM84.75 42.6h5.285v5.628h-5.285zM74.78 47.92h5.285v5.628h-5.285zM89.73 47.92h5.285v5.628h-5.285zM24.93 53.25h5.285v5.628h-5.285zM14.96 58.58h5.285v5.628h-5.285zM29.91 58.58h5.285v5.628h-5.285zM144.6 58.58h5.285v5.628h-5.285zM19.94 63.91h5.285v5.628h-5.285zM34.9 63.91h5.285v5.628h-5.285zM54.84 63.91h5.285v5.628h-5.285zM64.81 63.91h5.285v5.628h-5.285zM94.72 63.91h5.285v5.628h-5.285zM109.7 63.91h5.285v5.628h-5.285zM129.6 69.24h5.285v5.628h-5.285zM19.94 74.56h5.285v5.628h-5.285zM29.91 74.56h5.285v5.628h-5.285zM79.76 74.56h5.285v5.628h-5.285zM109.7 79.89h5.285v5.628h-5.285zM159.5 79.89h5.285v5.628h-5.285zM109.7 85.22h5.285v5.628h-5.285zM44.87 95.88h5.285v5.628h-5.285zM24.93 101.2h5.285v5.628h-5.285zM44.87 101.2h5.285v5.628h-5.285zM19.94 106.5h5.285v5.628h-5.285zM39.88 106.5h5.285v5.628h-5.285zM9.97 111.9h10.27v5.628h-10.27zM14.96 117.2h5.285v5.628h-5.285zM34.9 117.2h5.285v5.628h-5.285zM69.79 117.2h5.285v5.628h-5.285zM44.87 122.5h5.285v5.628h-5.285zM74.78 122.5h5.285v5.628h-5.285zM14.96 127.8h5.285v5.628h-5.285zM34.9 127.8h5.285v5.628h-5.285zM34.9 133.2h5.285v5.628h-5.285zM0 138.5h5.285v5.628h-5.285zM29.91 138.5h5.285v5.628h-5.285zM44.87 138.5h5.285v5.628h-5.285zM59.82 138.5h5.285v5.628h-5.285zM79.76 143.8h5.285v5.628h-5.285zM0 170.5h5.285v5.628h-5.285zM44.87 175.8h5.285v5.628h-5.285zM0 181.1h5.285v5.628h-5.285zM24.93 186.5h5.285v5.628h-5.285zM39.88 186.5h5.285v5.628h-5.285zM34.9 197.1h5.285v5.628h-5.285zM49.85 202.4h5.285v5.628h-5.285zM149.6 202.4h5.285v5.628h-5.285z"/>
<path fill="#ecece2" d="M24.93 4.5h5.285v6.428h-5.285zM19.94 10.63h5.285v5.628h-5.285zM59.82 10.63h10.27v5.628h-10.27zM119.6 10.63h5.285v5.628h-5.285zM74.78 15.96h10.27v5.628h-10.27zM49.85 26.61h15.26v5.628h-15.26zM69.79 26.61h5.285v5.628h-5.285zM184.4 26.61h5.285v5.628h-5.285zM54.84 31.94h5.285v5.628h-5.285zM34.9 37.27h5.285v5.628h-5.285zM74.78 37.27h5.285v5.628h-5.285zM164.5 37.27h5.285v5.628h-5.285zM179.5 37.27h5.285v5.628h-5.285zM99.7 47.92h5.285v5.628h-5.285zM44.87 58.58h5.285v5.628h-5.285zM99.7 58.58h5.285v5.628h-5.285zM99.7 63.91h10.27v5.628h-10.27zM129.6 74.56h5.285v5.628h-5.285zM154.5 85.22h5.285v5.628h-5.285zM99.7 90.55h5.285v5.628h-5.285zM159.5 101.2h5.285v5.628h-5.285zM59.82 106.5h5.285v5.628h-5.285zM64.81 117.2h5.285v5.628h-5.285zM24.93 149.2h5.285v5.628h-5.285zM49.85 149.2h5.285v5.628h-5.285zM64.81 170.5h5.285v5.628h-5.285zM34.9 175.8h5.285v5.628h-5.285zM59.82 175.8h5.285v5.628h-5.285zM54.84 181.1h5.285v5.628h-5.285zM89.73 181.1h5.285v5.628h-5.285zM19.94 186.5h5.285v5.628h-5.285zM119.6 186.5h5.285v5.628h-5.285zM149.6 186.5h5.285v5.628h-5.285zM59.82 191.8h5.285v5.628h-5.285zM104.7 191.8h10.27v5.628h-10.27zM119.6 191.8h5.285v5.628h-5.285zM44.87 197.1h5.285v5.628h-5.285zM99.7 197.1h5.285v5.628h-5.285zM74.78 202.4h10.27v5.628h-10.27zM99.7 202.4h5.285v5.628h-5.285zM119.6 202.4h5.285v5.628h-5.285z"/>
<path fill="#e9eadf" d="M29.91 4.5h10.27v6.428h-10.27zM49.85 4.5h5.285v6.428h-5.285zM84.75 10.63h5.285v5.628h-5.285zM59.82 15.96h5.285v5.628h-5.285zM184.4 15.96h5.285v5.628h-5.285zM4.985 21.28h5.285v5.628h-5.285zM69.79 21.28h5.285v5.628h-5.285zM119.6 21.28h5.285v5.628h-5.285zM74.78 26.61h5.285v5.628h-5.285zM99.7 31.94h5.285v5.628h-5.285zM109.7 37.27h10.27v5.628h-10.27zM129.6 37.27h5.285v5.628h-5.285zM124.6 47.92h5.285v5.628h-5.285zM129.6 53.25h10.27v5.628h-10.27zM149.6 74.56h5.285v5.628h-5.285zM114.7 79.89h5.285v5.628h-5.285zM149.6 90.55h5.285v5.628h-5.285zM59.82 101.2h5.285v5.628h-5.285zM54.84 106.5h5.285v5.628h-5.285zM54.84 111.9h5.285v5.628h-5.285zM84.75 111.9h5.285v5.628h-5.285zM99.7 122.5h5.285v5.628h-5.285zM99.7 133.2h5.285v5.628h-5.285zM74.78 149.2h5.285v5.628h-5.285zM84.75 149.2h5.285v5.628h-5.285zM24.93 154.5h5.285v5.628h-5.285zM34.9 154.5h5.285v5.628h-5.285zM14.96 159.8h5.285v5.628h-5.285zM44.87 159.8h10.27v5.628h-10.27zM19.94 165.1h5.285v5.628h-5.285zM64.81 165.1h5.285v5.628h-5.285zM4.985 170.5h5.285v5.628h-5.285zM139.6 170.5h5.285v5.628h-5.285zM9.97 175.8h5.285v5.628h-5.285zM19.94 175.8h5.285v5.628h-5.285zM24.93 181.1h5.285v5.628h-5.285zM69.79 181.1h5.285v5.628h-5.285zM104.7 181.1h5.285v5.628h-5.285zM59.82 186.5h5.285v5.628h-5.285zM99.7 186.5h5.285v5.628h-5.285zM64.81 191.8h5.285v5.628h-5.285zM79.76 191.8h5.285v5.628h-5.285zM114.7 191.8h5.285v5.628h-5.285zM149.6 191.8h5.285v5.628h-5.285zM129.6 197.1h5.285v5.628h-5.285zM149.6 197.1h5.285v5.628h-5.285zM84.75 202.4h5.285v5.628h-5.285zM144.6 202.4h5.285v5.628h-5.285z"/>
<path fill="#e0e5d7" d="M39.88 4.5h5.285v6.428h-5.285zM209.4 15.96h5.285v5.628h-5.285zM14.96 21.28h5.285v5.628h-5.285zM24.93 21.28h5.285v5.628h-5.285zM4.985 26.61h5.285v5.628h-5.285zM34.9 26.61h5.285v5.628h-5.285zM94.72 26.61h5.285v5.628h-5.285zM0 31.94h5.285v5.628h-5.285zM104.7 31.94h5.285v5.628h-5.285zM139.6 53.25h5.285v5.628h-5.285zM139.6 79.89h5.285v5.628h-5.285zM129.6 85.22h5.285v5.628h-5.285zM129.6 90.55h10.27v5.628h-10.27zM144.6 90.55h5.285v5.628h-5.285zM134.6 95.88h5.285v5.628h-5.285zM74.78 101.2h5.285v5.628h-5.285zM79.76 106.5h5.285v5.628h-5.285zM59.82 111.9h5.285v5.628h-5.285zM99.7 117.2h5.285v5.628h-5.285zM149.6 117.2h5.285v5.628h-5.285zM114.7 122.5h5.285v5.628h-5.285zM119.6 127.8h5.285v5.628h-5.285zM134.6 133.2h10.27v5.628h-10.27zM39.88 154.5h5.285v5.628h-5.285zM84.75 154.5h5.285v5.628h-5.285zM64.81 159.8h5.285v5.628h-5.285zM79.76 165.1h5.285v5.628h-5.285zM129.6 165.1h10.27v5.628h-10.27zM79.76 170.5h5.285v5.628h-5.285zM124.6 170.5h5.285v5.628h-5.285zM119.6 175.8h5.285v5.628h-5.285zM139.6 175.8h5.285v5.628h-5.285zM134.6 181.1h5.285v5.628h-5.285z"/>
<path fill="#e2e6d8" d="M44.87 4.5h5.285v6.428h-5.285zM179.5 10.63h5.285v5.628h-5.285zM84.75 15.96h5.285v5.628h-5.285zM99.7 15.96h5.285v5.628h-5.285zM19.94 21.28h5.285v5.628h-5.285zM29.91 21.28h5.285v5.628h-5.285zM89.73 21.28h5.285v5.628h-5.285zM0 26.61h5.285v5.628h-5.285zM104.7 26.61h5.285v5.628h-5.285zM169.5 26.61h5.285v5.628h-5.285zM209.4 26.61h5.285v5.628h-5.285zM179.5 31.94h5.285v5.628h-5.285zM109.7 42.6h5.285v5.628h-5.285zM129.6 42.6h10.27v5.628h-10.27zM134.6 47.92h5.285v5.628h-5.285zM149.6 47.92h5.285v5.628h-5.285zM109.7 53.25h5.285v5.628h-5.285zM104.7 58.58h5.285v5.628h-5.285zM139.6 74.56h5.285v5.628h-5.285zM124.6 85.22h5.285v5.628h-5.285zM139.6 90.55h5.285v5.628h-5.285zM89.73 95.88h5.285v5.628h-5.285zM99.7 95.88h5.285v5.628h-5.285zM114.7 95.88h5.285v5.628h-5.285zM144.6 95.88h5.285v5.628h-5.285zM79.76 101.2h5.285v5.628h-5.285zM74.78 106.5h5.285v5.628h-5.285zM144.6 106.5h5.285v5.628h-5.285zM139.6 138.5h5.285v5.628h-5.285zM44.87 154.5h5.285v5.628h-5.285zM54.84 154.5h10.27v5.628h-10.27zM69.79 159.8h5.285v5.628h-5.285zM14.96 165.1h5.285v5.628h-5.285zM84.75 170.5h5.285v5.628h-5.285zM79.76 186.5h5.285v5.628h-5.285zM89.73 186.5h5.285v5.628h-5.285zM89.73 197.1h5.285v5.628h-5.285z"/>
<path fill="#e7e9de" d="M54.84 4.5h5.285v6.428h-5.285zM169.5 4.5h5.285v6.428h-5.285zM54.84 15.96h5.285v5.628h-5.285zM164.5 15.96h5.285v5.628h-5.285zM79.76 21.28h5.285v5.628h-5.285zM84.75 26.61h5.285v5.628h-5.285zM114.7 26.61h5.285v5.628h-5.285zM29.91 31.94h5.285v5.628h-5.285zM39.88 31.94h5.285v5.628h-5.285zM79.76 31.94h5.285v5.628h-5.285zM169.5 31.94h5.285v5.628h-5.285zM14.96 37.27h5.285v5.628h-5.285zM24.93 37.27h5.285v5.628h-5.285zM174.5 37.27h5.285v5.628h-5.285zM114.7 42.6h5.285v5.628h-5.285zM144.6 74.56h5.285v5.628h-5.285zM119.6 79.89h5.285v5.628h-5.285zM114.7 90.55h10.27v5.628h-10.27zM154.5 90.55h5.285v5.628h-5.285zM69.79 101.2h5.285v5.628h-5.285zM64.81 106.5h5.285v5.628h-5.285zM49.85 111.9h5.285v5.628h-5.285zM94.72 117.2h5.285v5.628h-5.285zM94.72 143.8h5.285v5.628h-5.285zM79.76 149.2h5.285v5.628h-5.285zM64.81 154.5h5.285v5.628h-5.285zM54.84 159.8h5.285v5.628h-5.285zM9.97 165.1h5.285v5.628h-5.285zM9.97 170.5h5.285v5.628h-5.285zM19.94 170.5h5.285v5.628h-5.285zM69.79 170.5h5.285v5.628h-5.285zM69.79 175.8h5.285v5.628h-5.285zM94.72 181.1h5.285v5.628h-5.285zM109.7 181.1h5.285v5.628h-5.285zM94.72 186.5h5.285v5.628h-5.285zM144.6 186.5h5.285v5.628h-5.285zM69.79 191.8h5.285v5.628h-5.285zM79.76 197.1h5.285v5.628h-5.285zM139.6 197.1h5.285v5.628h-5.285z"/>
<path fill="#f0efe6" d="M59.82 4.5h5.285v6.428h-5.285zM84.75 4.5h5.285v6.428h-5.285zM94.72 4.5h5.285v6.428h-5.285zM164.5 4.5h5.285v6.428h-5.285zM69.79 10.63h15.26v5.628h-15.26zM19.94 15.96h5.285v5.628h-5.285zM64.81 26.61h5.285v5.628h-5.285zM59.82 31.94h10.27v5.628h-10.27zM59.82 37.27h5.285v5.628h-5.285zM69.79 37.27h5.285v5.628h-5.285zM89.73 37.27h5.285v5.628h-5.285zM14.96 42.6h10.27v5.628h-10.27zM69.79 42.6h5.285v5.628h-5.285zM79.76 42.6h5.285v5.628h-5.285zM114.7 47.92h10.27v5.628h-10.27zM34.9 53.25h10.27v5.628h-10.27zM94.72 53.25h5.285v5.628h-5.285zM124.6 53.25h5.285v5.628h-5.285zM89.73 58.58h5.285v5.628h-5.285zM154.5 74.56h5.285v5.628h-5.285zM54.84 90.55h5.285v5.628h-5.285zM84.75 90.55h5.285v5.628h-5.285zM59.82 95.88h5.285v5.628h-5.285zM69.79 95.88h5.285v5.628h-5.285zM154.5 95.88h5.285v5.628h-5.285zM44.87 111.9h5.285v5.628h-5.285zM84.75 117.2h10.27v5.628h-10.27zM89.73 122.5h5.285v5.628h-5.285zM39.88 149.2h10.27v5.628h-10.27zM54.84 149.2h5.285v5.628h-5.285zM39.88 159.8h5.285v5.628h-5.285zM59.82 170.5h5.285v5.628h-5.285zM4.985 175.8h5.285v5.628h-5.285zM24.93 175.8h5.285v5.628h-5.285zM49.85 175.8h5.285v5.628h-5.285zM19.94 181.1h5.285v5.628h-5.285zM29.91 181.1h5.285v5.628h-5.285zM39.88 181.1h5.285v5.628h-5.285zM64.81 181.1h5.285v5.628h-5.285zM0 186.5h5.285v5.628h-5.285zM19.94 191.8h10.27v5.628h-10.27zM14.96 197.1h5.285v5.628h-5.285zM54.84 197.1h5.285v5.628h-5.285zM109.7 197.1h5.285v5.628h-5.285zM9.97 202.4h5.285v5.628h-5.285zM69.79 202.4h5.285v5.628h-5.285zM139.6 202.4h5.285v5.628h-5.285z"/>
<path fill="#efeee5" d="M64.81 4.5h5.285v6.428h-5.285zM119.6 15.96h5.285v5.628h-5.285zM184.4 31.94h5.285v5.628h-5.285zM119.6 37.27h5.285v5.628h-5.285zM119.6 42.6h5.285v5.628h-5.285zM84.75 47.92h5.285v5.628h-5.285zM49.85 53.25h5.285v5.628h-5.285zM39.88 58.58h5.285v5.628h-5.285zM114.7 58.58h5.285v5.628h-5.285zM79.76 63.91h5.285v5.628h-5.285zM104.7 69.24h15.26v5.628h-15.26zM119.6 74.56h10.27v5.628h-10.27zM104.7 79.89h5.285v5.628h-5.285zM104.7 85.22h5.285v5.628h-5.285zM54.84 101.2h5.285v5.628h-5.285zM154.5 106.5h5.285v5.628h-5.285zM94.72 133.2h5.285v5.628h-5.285zM94.72 138.5h5.285v5.628h-5.285zM74.78 143.8h5.285v5.628h-5.285zM14.96 154.5h5.285v5.628h-5.285zM29.91 170.5h5.285v5.628h-5.285zM0 175.8h5.285v5.628h-5.285zM39.88 175.8h5.285v5.628h-5.285zM64.81 175.8h5.285v5.628h-5.285zM59.82 181.1h5.285v5.628h-5.285zM74.78 181.1h5.285v5.628h-5.285zM29.91 186.5h5.285v5.628h-5.285zM0 191.8h20.24v5.628h-20.24zM24.93 197.1h5.285v5.628h-5.285zM114.7 197.1h5.285v5.628h-5.285zM124.6 197.1h5.285v5.628h-5.285z"/>
<path fill="#eeede4" d="M74.78 4.5h10.27v6.428h-10.27zM99.7 4.5h5.285v6.428h-5.285zM9.97 15.96h5.285v5.628h-5.285zM59.82 21.28h5.285v5.628h-5.285zM184.4 21.28h5.285v5.628h-5.285zM74.78 31.94h5.285v5.628h-5.285zM9.97 37.27h5.285v5.628h-5.285zM94.72 37.27h10.27v5.628h-10.27zM169.5 37.27h5.285v5.628h-5.285zM89.73 42.6h5.285v5.628h-5.285zM99.7 42.6h5.285v5.628h-5.285zM74.78 53.25h5.285v5.628h-5.285zM49.85 58.58h5.285v5.628h-5.285zM74.78 58.58h10.27v5.628h-10.27zM119.6 69.24h5.285v5.628h-5.285zM209.4 69.24h5.285v5.628h-5.285zM159.5 85.22h5.285v5.628h-5.285zM104.7 90.55h5.285v5.628h-5.285zM54.84 95.88h5.285v5.628h-5.285zM64.81 95.88h5.285v5.628h-5.285zM74.78 111.9h5.285v5.628h-5.285zM44.87 117.2h5.285v5.628h-5.285zM74.78 117.2h10.27v5.628h-10.27zM154.5 117.2h5.285v5.628h-5.285zM54.84 122.5h5.285v5.628h-5.285zM64.81 122.5h5.285v5.628h-5.285zM99.7 127.8h5.285v5.628h-5.285zM89.73 143.8h5.285v5.628h-5.285zM9.97 149.2h5.285v5.628h-5.285zM64.81 149.2h10.27v5.628h-10.27zM4.985 165.1h5.285v5.628h-5.285zM14.96 175.8h5.285v5.628h-5.285zM149.6 175.8h5.285v5.628h-5.285zM9.97 181.1h5.285v5.628h-5.285zM79.76 181.1h5.285v5.628h-5.285zM14.96 186.5h5.285v5.628h-5.285zM64.81 186.5h5.285v5.628h-5.285zM39.88 191.8h5.285v5.628h-5.285zM59.82 202.4h10.27v5.628h-10.27zM124.6 202.4h15.26v5.628h-15.26z"/>
<path fill="#f5f2eb" d="M129.6 4.5h5.285v6.428h-5.285zM124.6 26.61h5.285v5.628h-5.285zM39.88 37.27h5.285v5.628h-5.285zM49.85 37.27h10.27v5.628h-10.27zM64.81 37.27h5.285v5.628h-5.285zM9.97 42.6h5.285v5.628h-5.285zM24.93 42.6h5.285v5.628h-5.285zM34.9 42.6h10.27v5.628h-10.27zM14.96 47.92h5.285v5.628h-5.285zM39.88 47.92h5.285v5.628h-5.285zM69.79 47.92h5.285v5.628h-5.285zM94.72 47.92h5.285v5.628h-5.285zM44.87 53.25h5.285v5.628h-5.285zM84.75 53.25h5.285v5.628h-5.285zM59.82 58.58h5.285v5.628h-5.285zM84.75 58.58h5.285v5.628h-5.285zM129.6 58.58h5.285v5.628h-5.285zM0 63.91h5.285v5.628h-5.285zM24.93 63.91h5.285v5.628h-5.285zM149.6 63.91h5.285v5.628h-5.285zM34.9 69.24h5.285v5.628h-5.285zM49.85 69.24h10.27v5.628h-10.27zM69.79 69.24h5.285v5.628h-5.285zM139.6 69.24h5.285v5.628h-5.285zM39.88 74.56h10.27v5.628h-10.27zM39.88 79.89h5.285v5.628h-5.285zM59.82 79.89h10.27v5.628h-10.27zM14.96 90.55h5.285v5.628h-5.285zM39.88 90.55h5.285v5.628h-5.285zM69.79 90.55h5.285v5.628h-5.285zM9.97 95.88h5.285v5.628h-5.285zM34.9 101.2h5.285v5.628h-5.285zM39.88 111.9h5.285v5.628h-5.285zM4.985 122.5h5.285v5.628h-5.285zM69.79 122.5h5.285v5.628h-5.285zM84.75 122.5h5.285v5.628h-5.285zM0 133.2h5.285v5.628h-5.285zM19.94 133.2h5.285v5.628h-5.285zM29.91 133.2h5.285v5.628h-5.285zM49.85 133.2h5.285v5.628h-5.285zM59.82 133.2h10.27v5.628h-10.27zM9.97 138.5h5.285v5.628h-5.285zM49.85 138.5h5.285v5.628h-5.285zM64.81 143.8h10.27v5.628h-10.27zM34.9 170.5h5.285v5.628h-5.285zM4.985 197.1h10.27v5.628h-10.27zM154.5 197.1h5.285v5.628h-5.285zM34.9 202.4h5.285v5.628h-5.285z"/>
<path fill="#f8f3ed" d="M134.6 4.5h5.285v6.428h-5.285zM4.985 10.63h5.285v5.628h-5.285zM129.6 31.94h5.285v5.628h-5.285zM29.91 42.6h5.285v5.628h-5.285zM44.87 42.6h5.285v5.628h-5.285zM64.81 42.6h5.285v5.628h-5.285zM74.78 42.6h5.285v5.628h-5.285zM64.81 47.92h5.285v5.628h-5.285zM64.81 53.25h5.285v5.628h-5.285zM19.94 58.58h10.27v5.628h-10.27zM4.985 63.91h5.285v5.628h-5.285zM39.88 63.91h5.285v5.628h-5.285zM49.85 63.91h5.285v5.628h-5.285zM114.7 63.91h5.285v5.628h-5.285zM124.6 63.91h5.285v5.628h-5.285zM39.88 69.24h5.285v5.628h-5.285zM59.82 69.24h5.285v5.628h-5.285zM84.75 69.24h5.285v5.628h-5.285zM99.7 74.56h5.285v5.628h-5.285zM0 79.89h5.285v5.628h-5.285zM14.96 79.89h5.285v5.628h-5.285zM24.93 79.89h5.285v5.628h-5.285zM74.78 79.89h5.285v5.628h-5.285zM84.75 79.89h10.27v5.628h-10.27zM4.985 85.22h5.285v5.628h-5.285zM14.96 85.22h5.285v5.628h-5.285zM39.88 85.22h5.285v5.628h-5.285zM79.76 85.22h10.27v5.628h-10.27zM4.985 90.55h5.285v5.628h-5.285zM29.91 90.55h5.285v5.628h-5.285zM49.85 90.55h5.285v5.628h-5.285zM19.94 101.2h5.285v5.628h-5.285zM39.88 101.2h5.285v5.628h-5.285zM9.97 106.5h5.285v5.628h-5.285zM19.94 111.9h5.285v5.628h-5.285zM19.94 117.2h5.285v5.628h-5.285zM39.88 117.2h5.285v5.628h-5.285zM49.85 122.5h5.285v5.628h-5.285zM29.91 127.8h5.285v5.628h-5.285zM39.88 127.8h5.285v5.628h-5.285zM24.93 138.5h5.285v5.628h-5.285zM4.985 143.8h10.27v5.628h-10.27zM24.93 143.8h5.285v5.628h-5.285zM54.84 170.5h5.285v5.628h-5.285z"/>
<path fill="#e6e9dc" d="M174.5 4.5h5.285v6.428h-5.285zM89.73 15.96h10.27v5.628h-10.27zM44.87 26.61h5.285v5.628h-5.285zM99.7 26.61h5.285v5.628h-5.285zM174.5 26.61h5.285v5.628h-5.285zM4.985 31.94h5.285v5.628h-5.285zM84.75 31.94h5.285v5.628h-5.285zM119.6 31.94h5.285v5.628h-5.285zM124.6 42.6h5.285v5.628h-5.285zM109.7 58.58h5.285v5.628h-5.285zM134.6 74.56h5.285v5.628h-5.285zM109.7 90.55h5.285v5.628h-5.285zM94.72 95.88h5.285v5.628h-5.285zM149.6 95.88h5.285v5.628h-5.285zM149.6 106.5h5.285v5.628h-5.285zM154.5 111.9h5.285v5.628h-5.285zM104.7 122.5h5.285v5.628h-5.285zM109.7 127.8h5.285v5.628h-5.285zM29.91 159.8h5.285v5.628h-5.285zM79.76 175.8h5.285v5.628h-5.285zM94.72 175.8h5.285v5.628h-5.285zM74.78 186.5h5.285v5.628h-5.285zM84.75 186.5h5.285v5.628h-5.285zM114.7 186.5h5.285v5.628h-5.285zM124.6 186.5h5.285v5.628h-5.285zM134.6 186.5h5.285v5.628h-5.285zM94.72 197.1h5.285v5.628h-5.285zM89.73 202.4h5.285v5.628h-5.285z"/>
<path fill="#f9f4ee" d="M0 10.63h5.285v5.628h-5.285zM134.6 31.94h5.285v5.628h-5.285zM49.85 42.6h5.285v5.628h-5.285zM59.82 42.6h5.285v5.628h-5.285zM29.91 47.92h10.27v5.628h-10.27zM0 58.58h5.285v5.628h-5.285zM9.97 63.91h5.285v5.628h-5.285zM59.82 63.91h5.285v5.628h-5.285zM0 69.24h5.285v5.628h-5.285zM9.97 69.24h5.285v5.628h-5.285zM29.91 69.24h5.285v5.628h-5.285zM94.72 69.24h5.285v5.628h-5.285zM0 74.56h5.285v5.628h-5.285zM34.9 74.56h5.285v5.628h-5.285zM64.81 74.56h5.285v5.628h-5.285zM89.73 74.56h10.27v5.628h-10.27zM34.9 79.89h5.285v5.628h-5.285zM69.79 79.89h5.285v5.628h-5.285zM99.7 79.89h5.285v5.628h-5.285zM19.94 85.22h5.285v5.628h-5.285zM29.91 85.22h5.285v5.628h-5.285zM64.81 85.22h15.26v5.628h-15.26zM89.73 85.22h10.27v5.628h-10.27zM0 90.55h5.285v5.628h-5.285zM0 95.88h5.285v5.628h-5.285zM29.91 95.88h10.27v5.628h-10.27zM0 101.2h5.285v5.628h-5.285zM14.96 101.2h5.285v5.628h-5.285zM4.985 117.2h10.27v5.628h-10.27zM24.93 122.5h5.285v5.628h-5.285zM0 127.8h5.285v5.628h-5.285zM19.94 127.8h5.285v5.628h-5.285zM74.78 127.8h5.285v5.628h-5.285zM84.75 127.8h10.27v5.628h-10.27zM4.985 133.2h5.285v5.628h-5.285zM24.93 133.2h5.285v5.628h-5.285zM34.9 138.5h5.285v5.628h-5.285zM64.81 138.5h10.27v5.628h-10.27zM84.75 138.5h5.285v5.628h-5.285zM39.88 143.8h10.27v5.628h-10.27zM54.84 143.8h5.285v5.628h-5.285zM0 149.2h5.285v5.628h-5.285zM44.87 170.5h5.285v5.628h-5.285zM4.985 202.4h5.285v5.628h-5.285zM14.96 202.4h5.285v5.628h-5.285z"/>
<path fill="#eaebe0" d="M24.93 10.63h10.27v5.628h-10.27zM89.73 10.63h5.285v5.628h-5.285zM114.7 10.63h5.285v5.628h-5.285zM164.5 10.63h5.285v5.628h-5.285zM64.81 15.96h10.27v5.628h-10.27zM104.7 15.96h5.285v5.628h-5.285zM54.84 21.28h5.285v5.628h-5.285zM119.6 26.61h5.285v5.628h-5.285zM19.94 37.27h5.285v5.628h-5.285zM84.75 37.27h5.285v5.628h-5.285zM124.6 37.27h5.285v5.628h-5.285zM134.6 37.27h5.285v5.628h-5.285zM99.7 53.25h5.285v5.628h-5.285zM124.6 79.89h5.285v5.628h-5.285zM114.7 85.22h5.285v5.628h-5.285zM149.6 85.22h5.285v5.628h-5.285zM74.78 95.88h5.285v5.628h-5.285zM34.9 149.2h5.285v5.628h-5.285zM59.82 149.2h5.285v5.628h-5.285zM9.97 154.5h5.285v5.628h-5.285zM19.94 154.5h5.285v5.628h-5.285zM9.97 159.8h5.285v5.628h-5.285zM24.93 159.8h5.285v5.628h-5.285zM29.91 165.1h5.285v5.628h-5.285zM69.79 165.1h5.285v5.628h-5.285zM24.93 170.5h5.285v5.628h-5.285zM29.91 175.8h5.285v5.628h-5.285zM99.7 181.1h5.285v5.628h-5.285zM34.9 186.5h5.285v5.628h-5.285zM54.84 186.5h5.285v5.628h-5.285zM109.7 186.5h5.285v5.628h-5.285zM29.91 191.8h10.27v5.628h-10.27zM44.87 191.8h5.285v5.628h-5.285zM54.84 191.8h5.285v5.628h-5.285zM99.7 191.8h5.285v5.628h-5.285zM124.6 191.8h15.26v5.628h-15.26zM69.79 197.1h10.27v5.628h-10.27z"/>
<path fill="#d8e0d0" d="M34.9 10.63h10.27v5.628h-10.27zM44.87 15.96h5.285v5.628h-5.285zM139.6 47.92h5.285v5.628h-5.285zM104.7 53.25h5.285v5.628h-5.285zM129.6 95.88h5.285v5.628h-5.285zM89.73 101.2h10.27v5.628h-10.27zM104.7 111.9h5.285v5.628h-5.285zM114.7 117.2h5.285v5.628h-5.285zM124.6 122.5h5.285v5.628h-5.285zM124.6 127.8h5.285v5.628h-5.285zM129.6 138.5h5.285v5.628h-5.285zM99.7 143.8h5.285v5.628h-5.285zM99.7 149.2h5.285v5.628h-5.285zM84.75 159.8h10.27v5.628h-10.27zM89.73 165.1h5.285v5.628h-5.285zM99.7 170.5h5.285v5.628h-5.285z"/>
<path fill="#dbe2d2" d="M44.87 10.63h5.285v5.628h-5.285zM34.9 15.96h10.27v5.628h-10.27zM169.5 21.28h5.285v5.628h-5.285zM109.7 26.61h5.285v5.628h-5.285zM14.96 31.94h10.27v5.628h-10.27zM144.6 47.92h5.285v5.628h-5.285zM124.6 90.55h5.285v5.628h-5.285zM124.6 95.88h5.285v5.628h-5.285zM139.6 101.2h5.285v5.628h-5.285zM139.6 111.9h5.285v5.628h-5.285zM104.7 117.2h5.285v5.628h-5.285zM124.6 117.2h5.285v5.628h-5.285zM144.6 122.5h5.285v5.628h-5.285zM114.7 127.8h5.285v5.628h-5.285zM119.6 138.5h5.285v5.628h-5.285zM89.73 154.5h5.285v5.628h-5.285zM129.6 159.8h5.285v5.628h-5.285zM89.73 170.5h5.285v5.628h-5.285zM84.75 191.8h5.285v5.628h-5.285z"/>
<path fill="#dce3d4" d="M49.85 10.63h5.285v5.628h-5.285zM9.97 31.94h5.285v5.628h-5.285zM139.6 42.6h5.285v5.628h-5.285zM104.7 47.92h5.285v5.628h-5.285zM134.6 85.22h5.285v5.628h-5.285zM104.7 95.88h5.285v5.628h-5.285zM134.6 101.2h5.285v5.628h-5.285zM94.72 111.9h10.27v5.628h-10.27zM144.6 111.9h5.285v5.628h-5.285zM109.7 117.2h5.285v5.628h-5.285zM109.7 133.2h5.285v5.628h-5.285zM94.72 149.2h5.285v5.628h-5.285zM134.6 154.5h5.285v5.628h-5.285zM74.78 165.1h5.285v5.628h-5.285zM124.6 165.1h5.285v5.628h-5.285zM129.6 170.5h5.285v5.628h-5.285zM104.7 175.8h15.26v5.628h-15.26zM144.6 175.8h5.285v5.628h-5.285zM89.73 191.8h5.285v5.628h-5.285zM144.6 197.1h5.285v5.628h-5.285z"/>
<path fill="#e4e8db" d="M54.84 10.63h5.285v5.628h-5.285zM29.91 15.96h5.285v5.628h-5.285zM114.7 15.96h5.285v5.628h-5.285zM169.5 15.96h5.285v5.628h-5.285zM179.5 15.96h5.285v5.628h-5.285zM9.97 21.28h5.285v5.628h-5.285zM49.85 21.28h5.285v5.628h-5.285zM179.5 21.28h5.285v5.628h-5.285zM39.88 26.61h5.285v5.628h-5.285zM89.73 31.94h10.27v5.628h-10.27zM114.7 31.94h5.285v5.628h-5.285zM104.7 37.27h5.285v5.628h-5.285zM104.7 42.6h5.285v5.628h-5.285zM109.7 47.92h5.285v5.628h-5.285zM144.6 53.25h5.285v5.628h-5.285zM149.6 79.89h5.285v5.628h-5.285zM144.6 85.22h5.285v5.628h-5.285zM139.6 95.88h5.285v5.628h-5.285zM64.81 101.2h5.285v5.628h-5.285zM149.6 101.2h5.285v5.628h-5.285zM89.73 111.9h5.285v5.628h-5.285zM54.84 117.2h5.285v5.628h-5.285zM104.7 127.8h5.285v5.628h-5.285zM99.7 138.5h5.285v5.628h-5.285zM89.73 149.2h5.285v5.628h-5.285zM59.82 159.8h5.285v5.628h-5.285zM14.96 170.5h5.285v5.628h-5.285zM74.78 170.5h5.285v5.628h-5.285zM74.78 175.8h5.285v5.628h-5.285zM89.73 175.8h5.285v5.628h-5.285zM124.6 175.8h5.285v5.628h-5.285zM114.7 181.1h10.27v5.628h-10.27zM129.6 181.1h5.285v5.628h-5.285zM74.78 191.8h5.285v5.628h-5.285zM94.72 191.8h5.285v5.628h-5.285zM139.6 191.8h5.285v5.628h-5.285zM134.6 197.1h5.285v5.628h-5.285z"/>
<path fill="#ebece1" d="M94.72 10.63h10.27v5.628h-10.27zM0 21.28h5.285v5.628h-5.285zM74.78 21.28h5.285v5.628h-5.285zM79.76 26.61h5.285v5.628h-5.285zM179.5 26.61h5.285v5.628h-5.285zM34.9 31.94h5.285v5.628h-5.285zM44.87 31.94h10.27v5.628h-10.27zM4.985 37.27h5.285v5.628h-5.285zM29.91 37.27h5.285v5.628h-5.285zM139.6 37.27h5.285v5.628h-5.285zM154.5 79.89h5.285v5.628h-5.285zM159.5 90.55h5.285v5.628h-5.285zM79.76 95.88h10.27v5.628h-10.27zM49.85 101.2h5.285v5.628h-5.285zM49.85 106.5h5.285v5.628h-5.285zM69.79 111.9h5.285v5.628h-5.285zM79.76 111.9h5.285v5.628h-5.285zM49.85 117.2h5.285v5.628h-5.285zM29.91 149.2h5.285v5.628h-5.285zM19.94 159.8h5.285v5.628h-5.285zM34.9 159.8h5.285v5.628h-5.285zM24.93 165.1h5.285v5.628h-5.285zM4.985 181.1h5.285v5.628h-5.285zM14.96 181.1h5.285v5.628h-5.285zM84.75 181.1h5.285v5.628h-5.285zM124.6 181.1h5.285v5.628h-5.285zM149.6 181.1h5.285v5.628h-5.285zM49.85 186.5h5.285v5.628h-5.285zM69.79 186.5h5.285v5.628h-5.285zM104.7 186.5h5.285v5.628h-5.285zM129.6 186.5h5.285v5.628h-5.285zM49.85 191.8h5.285v5.628h-5.285zM59.82 197.1h5.285v5.628h-5.285zM104.7 197.1h5.285v5.628h-5.285zM94.72 202.4h5.285v5.628h-5.285zM109.7 202.4h10.27v5.628h-10.27z"/>
<path fill="#dee4d5" d="M169.5 10.63h10.27v5.628h-10.27zM34.9 21.28h5.285v5.628h-5.285zM44.87 21.28h5.285v5.628h-5.285zM99.7 21.28h5.285v5.628h-5.285zM9.97 26.61h5.285v5.628h-5.285zM134.6 79.89h5.285v5.628h-5.285zM139.6 85.22h5.285v5.628h-5.285zM84.75 106.5h5.285v5.628h-5.285zM109.7 122.5h5.285v5.628h-5.285zM149.6 122.5h5.285v5.628h-5.285zM144.6 127.8h5.285v5.628h-5.285zM129.6 133.2h5.285v5.628h-5.285zM104.7 138.5h5.285v5.628h-5.285zM74.78 154.5h5.285v5.628h-5.285zM94.72 170.5h5.285v5.628h-5.285zM99.7 175.8h5.285v5.628h-5.285zM139.6 186.5h5.285v5.628h-5.285z"/>
<path fill="#e3e7da" d="M24.93 15.96h5.285v5.628h-5.285zM109.7 15.96h5.285v5.628h-5.285zM84.75 21.28h5.285v5.628h-5.285zM94.72 21.28h5.285v5.628h-5.285zM104.7 21.28h5.285v5.628h-5.285zM114.7 21.28h5.285v5.628h-5.285zM164.5 21.28h5.285v5.628h-5.285zM174.5 21.28h5.285v5.628h-5.285zM24.93 31.94h5.285v5.628h-5.285zM109.7 31.94h5.285v5.628h-5.285zM129.6 47.92h5.285v5.628h-5.285zM129.6 79.89h5.285v5.628h-5.285zM119.6 85.22h5.285v5.628h-5.285zM84.75 101.2h5.285v5.628h-5.285zM69.79 106.5h5.285v5.628h-5.285zM64.81 111.9h5.285v5.628h-5.285zM149.6 111.9h5.285v5.628h-5.285zM59.82 117.2h5.285v5.628h-5.285zM104.7 133.2h5.285v5.628h-5.285zM144.6 133.2h5.285v5.628h-5.285zM29.91 154.5h5.285v5.628h-5.285zM69.79 154.5h5.285v5.628h-5.285zM134.6 159.8h10.27v5.628h-10.27zM84.75 175.8h5.285v5.628h-5.285zM129.6 175.8h10.27v5.628h-10.27zM144.6 191.8h5.285v5.628h-5.285z"/>
<path fill="#dfe4d6" d="M49.85 15.96h5.285v5.628h-5.285zM174.5 15.96h5.285v5.628h-5.285zM109.7 21.28h5.285v5.628h-5.285zM89.73 26.61h5.285v5.628h-5.285zM144.6 79.89h5.285v5.628h-5.285zM109.7 95.88h5.285v5.628h-5.285zM119.6 95.88h5.285v5.628h-5.285zM144.6 101.2h5.285v5.628h-5.285zM129.6 127.8h5.285v5.628h-5.285zM79.76 154.5h5.285v5.628h-5.285zM74.78 159.8h5.285v5.628h-5.285zM134.6 170.5h5.285v5.628h-5.285zM144.6 181.1h5.285v5.628h-5.285z"/>
<path fill="#fcf5f1" d="M124.6 15.96h5.285v5.628h-5.285zM124.6 21.28h5.285v5.628h-5.285zM129.6 26.61h5.285v5.628h-5.285zM0 47.92h5.285v5.628h-5.285zM0 53.25h5.285v5.628h-5.285zM9.97 58.58h5.285v5.628h-5.285zM4.985 69.24h5.285v5.628h-5.285zM19.94 69.24h5.285v5.628h-5.285zM64.81 69.24h5.285v5.628h-5.285zM134.6 69.24h5.285v5.628h-5.285zM54.84 74.56h5.285v5.628h-5.285zM69.79 74.56h5.285v5.628h-5.285zM4.985 79.89h10.27v5.628h-10.27zM19.94 79.89h5.285v5.628h-5.285zM54.84 79.89h5.285v5.628h-5.285zM9.97 85.22h5.285v5.628h-5.285zM44.87 85.22h5.285v5.628h-5.285zM19.94 95.88h5.285v5.628h-5.285zM4.985 101.2h5.285v5.628h-5.285zM24.93 106.5h10.27v5.628h-10.27zM0 111.9h5.285v5.628h-5.285zM0 117.2h5.285v5.628h-5.285zM34.9 122.5h5.285v5.628h-5.285zM4.985 127.8h10.27v5.628h-10.27zM49.85 127.8h5.285v5.628h-5.285zM64.81 127.8h10.27v5.628h-10.27zM54.84 165.1h5.285v5.628h-5.285z"/>
<path fill="#dae1d1" d="M39.88 21.28h5.285v5.628h-5.285zM14.96 26.61h5.285v5.628h-5.285zM29.91 26.61h5.285v5.628h-5.285zM129.6 101.2h5.285v5.628h-5.285zM94.72 106.5h5.285v5.628h-5.285zM134.6 106.5h10.27v5.628h-10.27zM129.6 117.2h10.27v5.628h-10.27zM114.7 133.2h5.285v5.628h-5.285zM134.6 138.5h5.285v5.628h-5.285zM49.85 154.5h5.285v5.628h-5.285zM79.76 159.8h5.285v5.628h-5.285zM84.75 197.1h5.285v5.628h-5.285z"/>
<path fill="#f6f2ec" d="M189.4 21.28h5.285v5.628h-5.285zM139.6 31.94h10.27v5.628h-10.27zM54.84 47.92h10.27v5.628h-10.27zM4.985 53.25h5.285v5.628h-5.285zM14.96 53.25h5.285v5.628h-5.285zM64.81 58.58h10.27v5.628h-10.27zM94.72 58.58h5.285v5.628h-5.285zM29.91 63.91h5.285v5.628h-5.285zM44.87 63.91h5.285v5.628h-5.285zM119.6 63.91h5.285v5.628h-5.285zM14.96 69.24h5.285v5.628h-5.285zM9.97 74.56h5.285v5.628h-5.285zM74.78 74.56h5.285v5.628h-5.285zM44.87 79.89h10.27v5.628h-10.27zM94.72 79.89h5.285v5.628h-5.285zM24.93 85.22h5.285v5.628h-5.285zM54.84 85.22h10.27v5.628h-10.27zM24.93 90.55h5.285v5.628h-5.285zM14.96 95.88h5.285v5.628h-5.285zM9.97 101.2h5.285v5.628h-5.285zM0 106.5h5.285v5.628h-5.285zM24.93 117.2h5.285v5.628h-5.285zM19.94 122.5h5.285v5.628h-5.285zM14.96 133.2h5.285v5.628h-5.285zM39.88 133.2h10.27v5.628h-10.27zM54.84 133.2h5.285v5.628h-5.285zM39.88 138.5h5.285v5.628h-5.285zM54.84 138.5h5.285v5.628h-5.285zM49.85 143.8h5.285v5.628h-5.285zM59.82 143.8h5.285v5.628h-5.285zM0 154.5h5.285v5.628h-5.285zM154.5 191.8h5.285v5.628h-5.285zM0 202.4h5.285v5.628h-5.285zM19.94 202.4h10.27v5.628h-10.27zM154.5 202.4h5.285v5.628h-5.285z"/>
<path fill="#d7e0ce" d="M209.4 21.28h5.285v5.628h-5.285zM24.93 26.61h5.285v5.628h-5.285zM114.7 101.2h5.285v5.628h-5.285zM89.73 106.5h5.285v5.628h-5.285zM129.6 111.9h5.285v5.628h-5.285zM139.6 117.2h5.285v5.628h-5.285zM119.6 122.5h5.285v5.628h-5.285zM134.6 127.8h10.27v5.628h-10.27zM124.6 133.2h5.285v5.628h-5.285zM124.6 143.8h5.285v5.628h-5.285zM134.6 143.8h5.285v5.628h-5.285zM134.6 149.2h5.285v5.628h-5.285zM84.75 165.1h5.285v5.628h-5.285zM94.72 165.1h5.285v5.628h-5.285z"/>
<path fill="#d4decc" d="M19.94 26.61h5.285v5.628h-5.285zM209.4 37.27h5.285v5.628h-5.285zM99.7 101.2h5.285v5.628h-5.285zM134.6 111.9h5.285v5.628h-5.285zM124.6 138.5h5.285v5.628h-5.285zM104.7 143.8h5.285v5.628h-5.285zM114.7 143.8h5.285v5.628h-5.285zM129.6 143.8h5.285v5.628h-5.285zM119.6 159.8h10.27v5.628h-10.27z"/>
<path fill="#faf4f0" d="M0 42.6h5.285v5.628h-5.285zM19.94 47.92h10.27v5.628h-10.27zM9.97 53.25h5.285v5.628h-5.285zM19.94 53.25h5.285v5.628h-5.285zM4.985 58.58h5.285v5.628h-5.285zM89.73 69.24h5.285v5.628h-5.285zM29.91 79.89h5.285v5.628h-5.285zM79.76 79.89h5.285v5.628h-5.285zM9.97 90.55h5.285v5.628h-5.285zM19.94 90.55h5.285v5.628h-5.285zM34.9 90.55h5.285v5.628h-5.285zM44.87 90.55h5.285v5.628h-5.285zM24.93 95.88h5.285v5.628h-5.285zM4.985 106.5h5.285v5.628h-5.285zM34.9 106.5h5.285v5.628h-5.285zM29.91 111.9h5.285v5.628h-5.285zM0 122.5h5.285v5.628h-5.285zM9.97 122.5h5.285v5.628h-5.285zM39.88 122.5h5.285v5.628h-5.285zM79.76 122.5h5.285v5.628h-5.285zM69.79 133.2h5.285v5.628h-5.285zM89.73 133.2h5.285v5.628h-5.285zM4.985 138.5h5.285v5.628h-5.285zM14.96 138.5h10.27v5.628h-10.27zM79.76 138.5h5.285v5.628h-5.285zM19.94 143.8h5.285v5.628h-5.285zM34.9 143.8h5.285v5.628h-5.285zM49.85 165.1h5.285v5.628h-5.285zM39.88 170.5h5.285v5.628h-5.285z"/>
<path fill="#fdf5f2" d="M14.96 63.91h5.285v5.628h-5.285zM129.6 63.91h5.285v5.628h-5.285zM14.96 74.56h5.285v5.628h-5.285zM84.75 133.2h5.285v5.628h-5.285zM74.78 138.5h5.285v5.628h-5.285zM44.87 165.1h5.285v5.628h-5.285z"/>
<path fill="#cddac5" d="M164.5 85.22h5.285v5.628h-5.285zM109.7 101.2h5.285v5.628h-5.285zM154.5 101.2h5.285v5.628h-5.285zM104.7 106.5h5.285v5.628h-5.285zM119.6 106.5h5.285v5.628h-5.285zM109.7 111.9h5.285v5.628h-5.285zM119.6 143.8h5.285v5.628h-5.285zM124.6 149.2h5.285v5.628h-5.285zM99.7 154.5h5.285v5.628h-5.285zM104.7 159.8h5.285v5.628h-5.285z"/>
<path fill="#d5dfcd" d="M104.7 101.2h5.285v5.628h-5.285zM129.6 106.5h5.285v5.628h-5.285zM119.6 117.2h5.285v5.628h-5.285zM144.6 117.2h5.285v5.628h-5.285zM129.6 122.5h5.285v5.628h-5.285zM119.6 133.2h5.285v5.628h-5.285zM94.72 154.5h5.285v5.628h-5.285zM94.72 159.8h5.285v5.628h-5.285zM114.7 170.5h5.285v5.628h-5.285zM139.6 181.1h5.285v5.628h-5.285z"/>
<path fill="#d1dcc9" d="M119.6 101.2h10.27v5.628h-10.27zM114.7 106.5h5.285v5.628h-5.285zM124.6 111.9h5.285v5.628h-5.285zM114.7 138.5h5.285v5.628h-5.285zM104.7 149.2h5.285v5.628h-5.285zM119.6 170.5h5.285v5.628h-5.285z"/>
<path fill="#d0dcc8" d="M99.7 106.5h5.285v5.628h-5.285zM124.6 106.5h5.285v5.628h-5.285z"/>
<path fill="#c8d7c0" d="M109.7 106.5h5.285v5.628h-5.285zM109.7 149.2h5.285v5.628h-5.285zM114.7 154.5h5.285v5.628h-5.285zM114.7 165.1h5.285v5.628h-5.285z"/>
<path fill="#d3ddcb" d="M114.7 111.9h5.285v5.628h-5.285zM134.6 122.5h10.27v5.628h-10.27zM109.7 138.5h5.285v5.628h-5.285zM109.7 143.8h5.285v5.628h-5.285zM129.6 149.2h5.285v5.628h-5.285zM129.6 154.5h5.285v5.628h-5.285zM119.6 165.1h5.285v5.628h-5.285z"/>
<path fill="#cedbc7" d="M119.6 111.9h5.285v5.628h-5.285zM114.7 159.8h5.285v5.628h-5.285z"/>
<path fill="#ccd9c4" d="M114.7 149.2h5.285v5.628h-5.285zM99.7 159.8h5.285v5.628h-5.285zM104.7 170.5h10.27v5.628h-10.27z"/>
<path fill="#c9d8c2" d="M119.6 149.2h5.285v5.628h-5.285zM104.7 154.5h5.285v5.628h-5.285zM124.6 154.5h5.285v5.628h-5.285z"/>
<path fill="#cad8c3" d="M109.7 154.5h5.285v5.628h-5.285zM99.7 165.1h10.27v5.628h-10.27z"/>
<path fill="#c6d6bf" d="M119.6 154.5h5.285v5.628h-5.285z"/>
<path fill="#c5d5be" d="M109.7 159.8h5.285v5.628h-5.285zM109.7 165.1h5.285v5.628h-5.285z"/>
</g>
<path d="M0.20 0L6.00 209.00M31.64 0L37.80 209.00M63.08 0L69.00 209.00M94.52 0L100.00 209.00M125.96 0L130.90 209.00M157.40 0L161.70 209.00M188.84 0L192.20 209.00M0 19.10L219.00 13.50M0 45.97L219.00 40.37M0 72.84L219.00 67.24M0 99.71L219.00 94.11M0 126.58L219.00 120.98M0 153.45L219.00 147.85M0 180.32L219.00 174.72M0 207.19L219.00 201.59" fill="none" stroke="#b0b0b0" stroke-width="1.12"/>
<path d="M218.5 131.1C218.3 131.6 217.8 132.9 217.1 133.9C216.4 134.9 215.3 136.5 214.2 137.1C213.1 137.7 211.8 137.8 210.6 137.5C209.4 137.2 208.1 136.2 207.1 135.4C206.2 134.6 205.1 133.5 204.9 132.5C204.6 131.5 205.2 130.7 205.6 129.6C206.0 128.5 207.0 127.3 207.1 126.1C207.2 124.9 206.3 123.7 206.4 122.5C206.5 121.3 207.2 119.9 207.8 118.9C208.4 117.9 209.4 117.3 210.1 116.3C210.8 115.4 211.5 114.3 211.8 113.2C212.1 112.1 212.3 110.5 212.1 109.6C211.9 108.6 211.2 107.7 210.6 107.5C210.1 107.3 209.3 107.9 208.8 108.6C208.3 109.3 208.3 111.1 207.8 111.8C207.3 112.5 206.4 113.1 205.9 112.9C205.4 112.7 204.8 111.4 204.9 110.4C205.0 109.4 206.5 108.1 206.6 106.8C206.7 105.5 206.1 103.9 205.6 102.5C205.1 101.1 204.3 99.6 203.5 98.2C202.7 96.8 201.3 95.2 200.6 93.9C200.0 92.6 199.6 91.7 199.6 90.4C199.6 89.1 200.2 88.0 200.6 86.1C201.0 84.2 201.5 81.8 202.1 78.9C202.7 76.0 203.5 72.2 204.2 68.9C204.9 65.6 205.8 61.9 206.4 58.9C207.0 55.9 207.3 53.1 207.8 51.1C208.3 49.1 208.6 48.0 209.2 46.8C209.8 45.6 211.3 44.8 211.6 43.9C211.9 43.0 211.6 42.0 211.1 41.4C210.6 40.8 209.8 40.1 208.8 40.1C207.8 40.1 206.5 40.9 204.9 41.4C203.3 41.9 201.1 42.0 199.2 42.9C197.3 43.8 195.3 45.1 193.5 46.8C191.7 48.5 190.3 50.5 188.5 53.2C186.7 55.9 184.6 59.6 182.8 63.2C181.0 66.8 179.1 70.5 177.8 74.6C176.5 78.6 176.0 83.0 174.9 87.5C173.7 92.0 172.3 97.6 170.9 101.8C169.5 106.1 168.0 110.3 166.6 113.0C165.3 115.7 163.9 116.6 162.8 118.2C161.7 119.8 160.5 120.8 159.9 122.5C159.2 124.2 159.4 126.3 158.9 128.2C158.4 130.1 158.0 132.0 157.1 133.9C156.2 135.8 154.8 138.1 153.5 139.6C152.2 141.1 150.2 142.1 149.2 143.2C148.3 144.3 147.8 144.9 147.8 146.1C147.8 147.3 148.7 148.9 149.2 150.4C149.7 151.9 150.2 153.7 150.6 155.4C151.0 157.1 151.5 158.7 151.4 160.4C151.3 162.1 149.5 164.3 149.9 165.4C150.2 166.5 152.2 166.1 153.5 166.8C154.8 167.5 156.5 168.4 157.8 169.6C159.1 170.8 160.3 172.2 161.4 173.9C162.5 175.6 163.3 177.5 164.2 179.6C165.2 181.8 166.3 184.4 167.1 186.8C167.9 189.2 168.5 191.5 168.9 193.9C169.3 196.3 169.3 198.5 169.5 201.1C169.7 203.7 169.8 208.1 169.9 209.5" fill="none" stroke="#808080" stroke-width="1.4" stroke-linejoin="round"/>
</g>
<rect x="0" y="0" width="219" height="209" fill="none" stroke="#000" stroke-width="1.1"/>
</g>
<text x="855.77" y="365.15" font-size="17.00" text-anchor="start" textLength="92.5" lengthAdjust="spacingAndGlyphs">q std. [K hr </text>
<text x="954.52" y="358.95" font-size="11.90" text-anchor="start" textLength="16.2" lengthAdjust="spacingAndGlyphs">−1</text>
<text x="972.52" y="365.15" font-size="17.00" text-anchor="start" textLength="4.5" lengthAdjust="spacingAndGlyphs">]</text>
<text x="807.50" y="385.75" font-size="14.10" text-anchor="middle" textLength="53.0" lengthAdjust="spacingAndGlyphs">112.5°E</text>
<text x="813.50" y="622.75" font-size="14.10" text-anchor="middle" textLength="53.0" lengthAdjust="spacingAndGlyphs">112.5°E</text>
<text x="869.75" y="385.75" font-size="14.10" text-anchor="middle" textLength="40.0" lengthAdjust="spacingAndGlyphs">113°E</text>
<text x="875.75" y="622.75" font-size="14.10" text-anchor="middle" textLength="40.0" lengthAdjust="spacingAndGlyphs">113°E</text>
<text x="932.00" y="385.75" font-size="14.10" text-anchor="middle" textLength="53.0" lengthAdjust="spacingAndGlyphs">113.5°E</text>
<text x="937.50" y="622.75" font-size="14.10" text-anchor="middle" textLength="53.0" lengthAdjust="spacingAndGlyphs">113.5°E</text>
<text x="994.75" y="385.75" font-size="14.10" text-anchor="middle" textLength="40.0" lengthAdjust="spacingAndGlyphs">114°E</text>
<text x="998.50" y="622.75" font-size="14.10" text-anchor="middle" textLength="40.0" lengthAdjust="spacingAndGlyphs">114°E</text>
<text x="799.00" y="420.05" font-size="14.10" text-anchor="end" textLength="46.4" lengthAdjust="spacingAndGlyphs">21.6°S</text>
<text x="799.00" y="446.92" font-size="14.10" text-anchor="end" textLength="46.4" lengthAdjust="spacingAndGlyphs">21.8°S</text>
<text x="799.00" y="473.79" font-size="14.10" text-anchor="end" textLength="32.3" lengthAdjust="spacingAndGlyphs">22°S</text>
<text x="799.00" y="500.66" font-size="14.10" text-anchor="end" textLength="46.4" lengthAdjust="spacingAndGlyphs">22.2°S</text>
<text x="799.00" y="527.53" font-size="14.10" text-anchor="end" textLength="46.4" lengthAdjust="spacingAndGlyphs">22.4°S</text>
<text x="799.00" y="554.40" font-size="14.10" text-anchor="end" textLength="46.4" lengthAdjust="spacingAndGlyphs">22.6°S</text>
<text x="799.00" y="581.27" font-size="14.10" text-anchor="end" textLength="46.4" lengthAdjust="spacingAndGlyphs">22.8°S</text>
<text x="799.00" y="608.14" font-size="14.10" text-anchor="end" textLength="32.3" lengthAdjust="spacingAndGlyphs">23°S</text>
<rect x="1039.55" y="476.5" width="2.1" height="49.0" fill="url(#g5)" stroke="#000" stroke-width="1.1"/>
<text x="1052.20" y="481.55" font-size="14.10" text-anchor="start" textLength="19.6" lengthAdjust="spacingAndGlyphs">0.1</text>
<text x="1052.20" y="530.55" font-size="14.10" text-anchor="start" textLength="19.6" lengthAdjust="spacingAndGlyphs">0.0</text>
<path d="M1042.20 476.50h4.7M1042.20 525.50h4.7" stroke="#000" stroke-width="1.15" fill="none"/>
</svg></body></html>
